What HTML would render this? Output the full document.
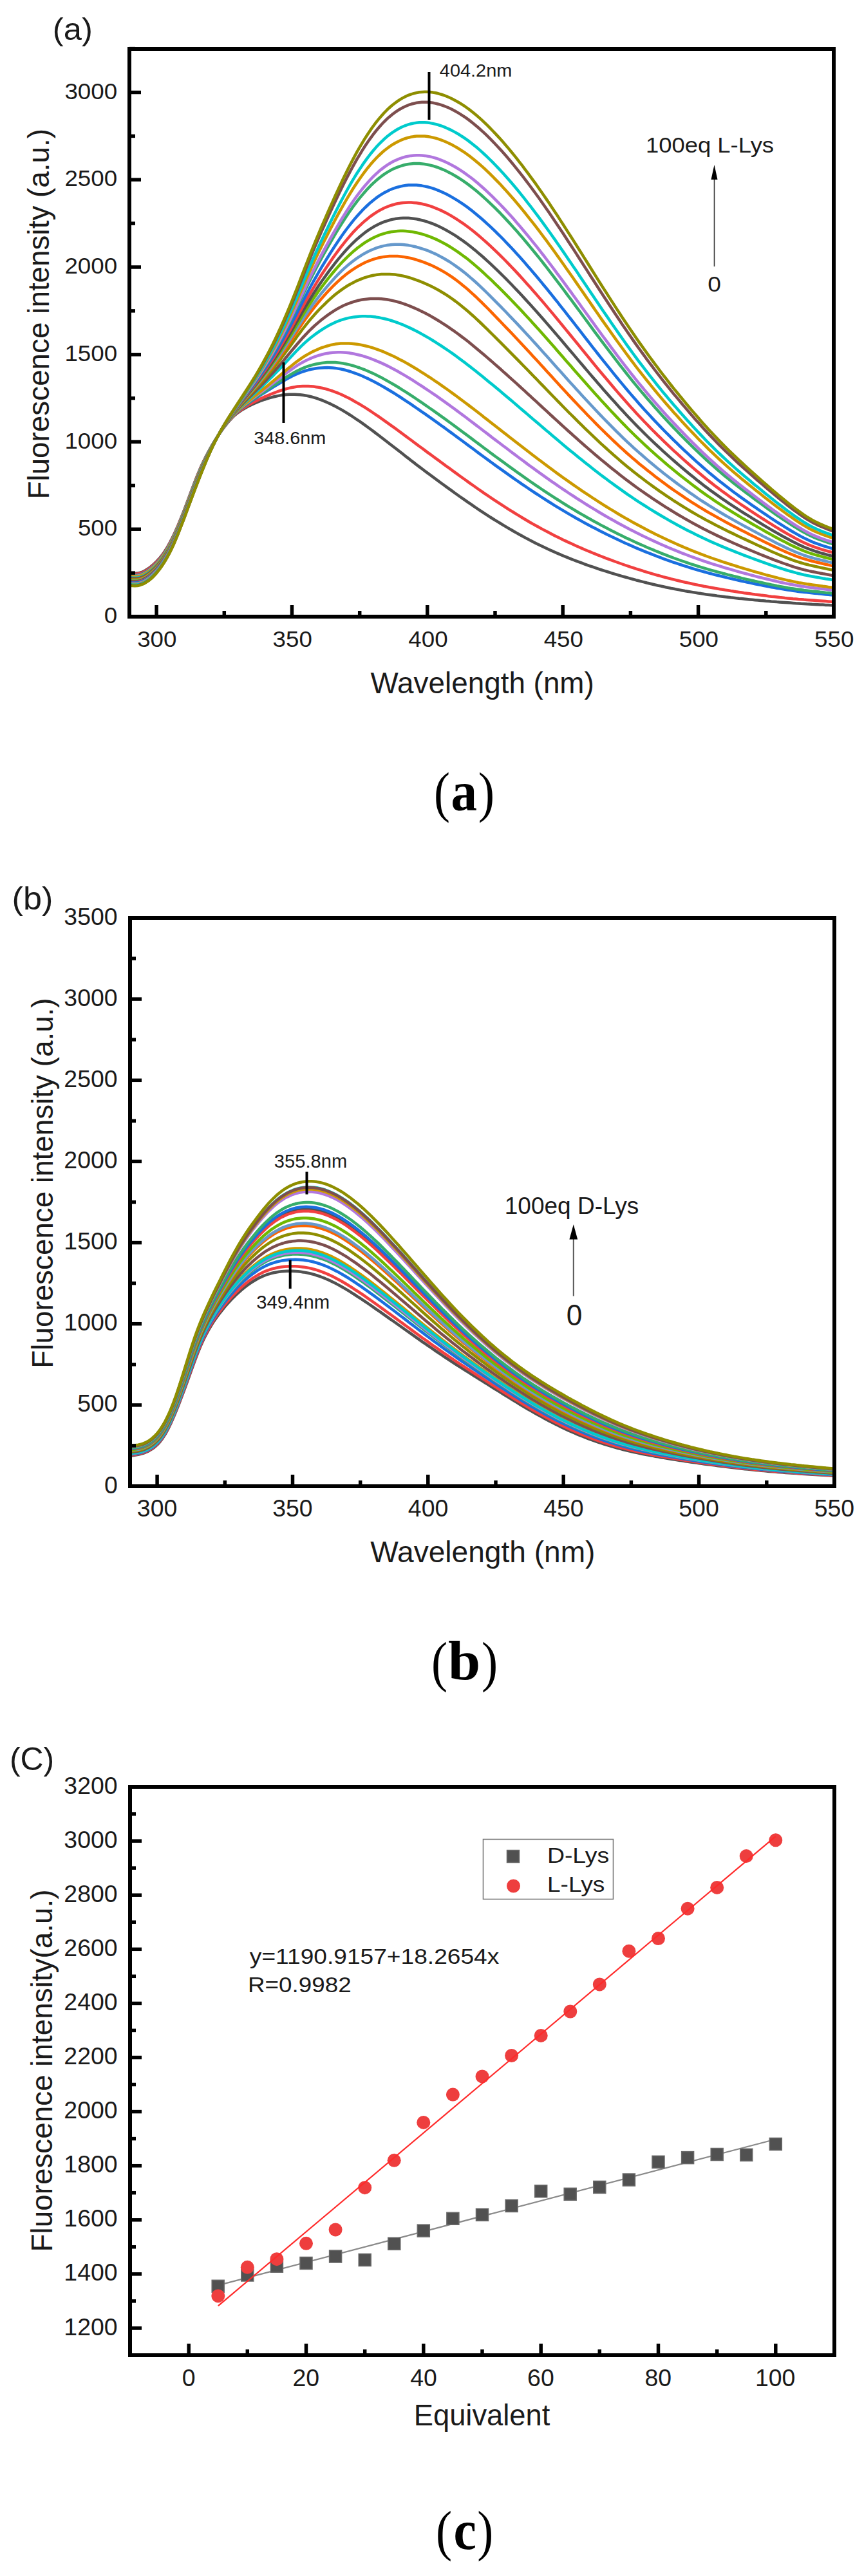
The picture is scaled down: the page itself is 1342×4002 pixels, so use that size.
<!DOCTYPE html>
<html><head><meta charset="utf-8"><style>
html,body{margin:0;padding:0;background:#fff;}
svg{display:block;}
</style></head><body>
<svg width="1342" height="4002" viewBox="0 0 1342 4002">
<defs>
<clipPath id="clipA"><rect x="201" y="76" width="1094" height="882"/></clipPath>
<clipPath id="clipB"><rect x="202" y="1426" width="1094" height="883"/></clipPath>
</defs>
<rect width="1342" height="4002" fill="#fff"/>
<g clip-path="url(#clipA)">
<path d="M201.0,890.6 L205.2,890.9 L209.4,890.9 L213.6,890.6 L217.8,889.7 L222.0,888.3 L226.2,886.0 L230.5,883.2 L234.7,880.0 L238.9,876.4 L243.1,872.4 L247.3,867.9 L251.5,862.8 L255.7,856.8 L259.9,850.1 L264.1,842.6 L268.3,834.4 L272.5,825.4 L276.7,815.8 L280.9,805.6 L285.2,794.9 L289.4,783.8 L293.6,772.5 L297.8,761.2 L302.0,750.1 L306.2,739.4 L310.4,729.3 L314.6,720.0 L318.8,711.4 L323.0,703.3 L327.2,695.7 L331.4,688.5 L335.6,681.7 L339.9,675.1 L344.1,669.0 L348.3,663.3 L352.5,658.0 L356.7,653.1 L360.9,648.6 L365.1,644.7 L369.3,641.3 L373.5,638.3 L377.7,635.7 L381.9,633.3 L386.1,631.1 L390.3,629.0 L394.6,627.0 L398.8,625.2 L403.0,623.5 L407.2,622.0 L411.4,620.5 L415.6,619.2 L419.8,617.9 L424.0,616.8 L428.2,615.8 L432.4,614.9 L436.6,614.1 L440.8,613.5 L445.0,613.1 L449.3,612.8 L453.5,612.7 L457.7,612.7 L461.9,612.9 L466.1,613.2 L470.3,613.8 L474.5,614.4 L478.7,615.3 L482.9,616.3 L487.1,617.4 L491.3,618.7 L495.5,620.1 L499.7,621.7 L504.0,623.4 L508.2,625.2 L512.4,627.1 L516.6,629.2 L520.8,631.3 L525.0,633.6 L529.2,635.9 L533.4,638.3 L537.6,640.9 L541.8,643.5 L546.0,646.2 L550.2,649.0 L554.4,651.8 L558.7,654.7 L562.9,657.6 L567.1,660.6 L571.3,663.7 L575.5,666.8 L579.7,669.9 L583.9,673.1 L588.1,676.3 L592.3,679.5 L596.5,682.7 L600.7,686.0 L604.9,689.3 L609.1,692.5 L613.4,695.8 L617.6,699.1 L621.8,702.3 L626.0,705.6 L630.2,708.9 L634.4,712.1 L638.6,715.4 L642.8,718.6 L647.0,721.9 L651.2,725.1 L655.4,728.3 L659.6,731.5 L663.8,734.6 L668.1,737.8 L672.3,740.9 L676.5,744.0 L680.7,747.1 L684.9,750.2 L689.1,753.3 L693.3,756.4 L697.5,759.4 L701.7,762.4 L705.9,765.5 L710.1,768.5 L714.3,771.5 L718.5,774.4 L722.8,777.4 L727.0,780.3 L731.2,783.2 L735.4,786.1 L739.6,789.0 L743.8,791.8 L748.0,794.6 L752.2,797.4 L756.4,800.1 L760.6,802.8 L764.8,805.5 L769.0,808.1 L773.2,810.7 L777.5,813.3 L781.7,815.9 L785.9,818.4 L790.1,820.9 L794.3,823.3 L798.5,825.8 L802.7,828.1 L806.9,830.5 L811.1,832.8 L815.3,835.1 L819.5,837.3 L823.7,839.6 L827.9,841.7 L832.2,843.9 L836.4,846.0 L840.6,848.0 L844.8,850.0 L849.0,852.0 L853.2,854.0 L857.4,855.9 L861.6,857.8 L865.8,859.6 L870.0,861.4 L874.2,863.2 L878.4,864.9 L882.6,866.6 L886.9,868.3 L891.1,870.0 L895.3,871.6 L899.5,873.2 L903.7,874.7 L907.9,876.3 L912.1,877.8 L916.3,879.3 L920.5,880.7 L924.7,882.1 L928.9,883.6 L933.1,885.0 L937.3,886.3 L941.6,887.7 L945.8,889.0 L950.0,890.3 L954.2,891.6 L958.4,892.9 L962.6,894.1 L966.8,895.3 L971.0,896.5 L975.2,897.7 L979.4,898.9 L983.6,900.0 L987.8,901.2 L992.0,902.3 L996.3,903.4 L1000.5,904.4 L1004.7,905.5 L1008.9,906.5 L1013.1,907.5 L1017.3,908.5 L1021.5,909.5 L1025.7,910.4 L1029.9,911.3 L1034.1,912.2 L1038.3,913.1 L1042.5,914.0 L1046.7,914.8 L1051.0,915.6 L1055.2,916.4 L1059.4,917.2 L1063.6,918.0 L1067.8,918.7 L1072.0,919.4 L1076.2,920.1 L1080.4,920.8 L1084.6,921.5 L1088.8,922.1 L1093.0,922.8 L1097.2,923.4 L1101.4,924.0 L1105.7,924.6 L1109.9,925.1 L1114.1,925.7 L1118.3,926.2 L1122.5,926.7 L1126.7,927.3 L1130.9,927.8 L1135.1,928.3 L1139.3,928.7 L1143.5,929.2 L1147.7,929.7 L1151.9,930.1 L1156.1,930.5 L1160.4,931.0 L1164.6,931.4 L1168.8,931.8 L1173.0,932.2 L1177.2,932.6 L1181.4,933.0 L1185.6,933.3 L1189.8,933.7 L1194.0,934.0 L1198.2,934.4 L1202.4,934.7 L1206.6,935.1 L1210.8,935.4 L1215.1,935.7 L1219.3,936.0 L1223.5,936.3 L1227.7,936.6 L1231.9,936.9 L1236.1,937.2 L1240.3,937.4 L1244.5,937.7 L1248.7,937.9 L1252.9,938.2 L1257.1,938.4 L1261.3,938.7 L1265.5,938.9 L1269.8,939.2 L1274.0,939.4 L1278.2,939.6 L1282.4,939.9 L1286.6,940.1 L1290.8,940.3 L1295.0,940.6" fill="none" stroke="#515151" stroke-width="4.5" stroke-linejoin="round" stroke-linecap="round"/>
<path d="M201.0,891.6 L205.2,891.9 L209.4,891.9 L213.6,891.6 L217.8,890.8 L222.0,889.3 L226.2,887.1 L230.5,884.2 L234.7,881.0 L238.9,877.4 L243.1,873.4 L247.3,868.8 L251.5,863.6 L255.7,857.7 L259.9,850.9 L264.1,843.4 L268.3,835.2 L272.5,826.2 L276.7,816.5 L280.9,806.3 L285.2,795.6 L289.4,784.5 L293.6,773.2 L297.8,761.9 L302.0,750.7 L306.2,740.0 L310.4,729.9 L314.6,720.5 L318.8,711.8 L323.0,703.7 L327.2,696.0 L331.4,688.7 L335.6,681.7 L339.9,675.1 L344.1,668.9 L348.3,663.1 L352.5,657.7 L356.7,652.7 L360.9,648.2 L365.1,644.1 L369.3,640.5 L373.5,637.3 L377.7,634.4 L381.9,631.8 L386.1,629.2 L390.3,626.9 L394.6,624.6 L398.8,622.4 L403.0,620.3 L407.2,618.3 L411.4,616.4 L415.6,614.6 L419.8,612.8 L424.0,611.1 L428.2,609.5 L432.4,607.9 L436.6,606.5 L440.8,605.2 L445.0,604.0 L449.3,602.9 L453.5,602.0 L457.7,601.2 L461.9,600.6 L466.1,600.2 L470.3,600.0 L474.5,599.9 L478.7,600.0 L482.9,600.2 L487.1,600.6 L491.3,601.2 L495.5,601.9 L499.7,602.7 L504.0,603.7 L508.2,604.9 L512.4,606.1 L516.6,607.5 L520.8,609.1 L525.0,610.7 L529.2,612.5 L533.4,614.4 L537.6,616.5 L541.8,618.6 L546.0,620.8 L550.2,623.2 L554.4,625.6 L558.7,628.0 L562.9,630.6 L567.1,633.2 L571.3,635.9 L575.5,638.7 L579.7,641.5 L583.9,644.3 L588.1,647.2 L592.3,650.1 L596.5,653.1 L600.7,656.1 L604.9,659.1 L609.1,662.1 L613.4,665.2 L617.6,668.3 L621.8,671.4 L626.0,674.5 L630.2,677.6 L634.4,680.7 L638.6,683.8 L642.8,687.0 L647.0,690.1 L651.2,693.2 L655.4,696.3 L659.6,699.4 L663.8,702.6 L668.1,705.7 L672.3,708.8 L676.5,711.8 L680.7,714.9 L684.9,718.0 L689.1,721.1 L693.3,724.2 L697.5,727.2 L701.7,730.3 L705.9,733.4 L710.1,736.4 L714.3,739.5 L718.5,742.5 L722.8,745.5 L727.0,748.6 L731.2,751.6 L735.4,754.5 L739.6,757.5 L743.8,760.5 L748.0,763.4 L752.2,766.3 L756.4,769.2 L760.6,772.0 L764.8,774.8 L769.0,777.6 L773.2,780.4 L777.5,783.2 L781.7,785.9 L785.9,788.6 L790.1,791.3 L794.3,793.9 L798.5,796.5 L802.7,799.1 L806.9,801.7 L811.1,804.2 L815.3,806.7 L819.5,809.2 L823.7,811.7 L827.9,814.1 L832.2,816.5 L836.4,818.8 L840.6,821.1 L844.8,823.4 L849.0,825.6 L853.2,827.8 L857.4,830.0 L861.6,832.2 L865.8,834.3 L870.0,836.3 L874.2,838.4 L878.4,840.4 L882.6,842.4 L886.9,844.3 L891.1,846.3 L895.3,848.2 L899.5,850.0 L903.7,851.9 L907.9,853.7 L912.1,855.5 L916.3,857.2 L920.5,859.0 L924.7,860.7 L928.9,862.4 L933.1,864.0 L937.3,865.7 L941.6,867.3 L945.8,868.9 L950.0,870.4 L954.2,872.0 L958.4,873.5 L962.6,875.0 L966.8,876.5 L971.0,878.0 L975.2,879.4 L979.4,880.8 L983.6,882.2 L987.8,883.6 L992.0,884.9 L996.3,886.2 L1000.5,887.6 L1004.7,888.8 L1008.9,890.1 L1013.1,891.3 L1017.3,892.6 L1021.5,893.8 L1025.7,894.9 L1029.9,896.1 L1034.1,897.2 L1038.3,898.3 L1042.5,899.4 L1046.7,900.4 L1051.0,901.5 L1055.2,902.5 L1059.4,903.5 L1063.6,904.5 L1067.8,905.4 L1072.0,906.3 L1076.2,907.2 L1080.4,908.1 L1084.6,909.0 L1088.8,909.8 L1093.0,910.7 L1097.2,911.5 L1101.4,912.3 L1105.7,913.0 L1109.9,913.8 L1114.1,914.5 L1118.3,915.2 L1122.5,915.9 L1126.7,916.6 L1130.9,917.3 L1135.1,918.0 L1139.3,918.6 L1143.5,919.3 L1147.7,919.9 L1151.9,920.5 L1156.1,921.2 L1160.4,921.8 L1164.6,922.3 L1168.8,922.9 L1173.0,923.5 L1177.2,924.0 L1181.4,924.6 L1185.6,925.1 L1189.8,925.6 L1194.0,926.2 L1198.2,926.7 L1202.4,927.1 L1206.6,927.6 L1210.8,928.1 L1215.1,928.5 L1219.3,929.0 L1223.5,929.4 L1227.7,929.8 L1231.9,930.2 L1236.1,930.5 L1240.3,930.9 L1244.5,931.2 L1248.7,931.6 L1252.9,931.9 L1257.1,932.2 L1261.3,932.5 L1265.5,932.8 L1269.8,933.2 L1274.0,933.5 L1278.2,933.8 L1282.4,934.1 L1286.6,934.4 L1290.8,934.7 L1295.0,935.0" fill="none" stroke="#F14040" stroke-width="4.5" stroke-linejoin="round" stroke-linecap="round"/>
<path d="M201.0,893.4 L205.2,893.7 L209.4,893.7 L213.6,893.4 L217.8,892.6 L222.0,891.1 L226.2,888.9 L230.5,886.0 L234.7,882.8 L238.9,879.1 L243.1,875.1 L247.3,870.5 L251.5,865.2 L255.7,859.2 L259.9,852.4 L264.1,844.8 L268.3,836.5 L272.5,827.5 L276.7,817.8 L280.9,807.5 L285.2,796.7 L289.4,785.6 L293.6,774.3 L297.8,763.0 L302.0,751.9 L306.2,741.2 L310.4,731.0 L314.6,721.5 L318.8,712.6 L323.0,704.3 L327.2,696.4 L331.4,688.9 L335.6,681.8 L339.9,675.1 L344.1,668.7 L348.3,662.8 L352.5,657.2 L356.7,652.1 L360.9,647.3 L365.1,643.0 L369.3,639.0 L373.5,635.5 L377.7,632.2 L381.9,629.1 L386.1,626.1 L390.3,623.2 L394.6,620.4 L398.8,617.6 L403.0,614.9 L407.2,612.2 L411.4,609.6 L415.6,606.9 L419.8,604.3 L424.0,601.7 L428.2,599.1 L432.4,596.5 L436.6,594.0 L440.8,591.5 L445.0,589.1 L449.3,586.8 L453.5,584.6 L457.7,582.5 L461.9,580.6 L466.1,578.9 L470.3,577.4 L474.5,576.0 L478.7,574.8 L482.9,573.8 L487.1,573.0 L491.3,572.3 L495.5,571.7 L499.7,571.4 L504.0,571.2 L508.2,571.1 L512.4,571.2 L516.6,571.5 L520.8,571.9 L525.0,572.6 L529.2,573.3 L533.4,574.2 L537.6,575.3 L541.8,576.5 L546.0,577.9 L550.2,579.3 L554.4,580.9 L558.7,582.5 L562.9,584.3 L567.1,586.2 L571.3,588.1 L575.5,590.2 L579.7,592.3 L583.9,594.5 L588.1,596.8 L592.3,599.1 L596.5,601.5 L600.7,604.0 L604.9,606.5 L609.1,609.0 L613.4,611.7 L617.6,614.3 L621.8,617.0 L626.0,619.8 L630.2,622.6 L634.4,625.4 L638.6,628.2 L642.8,631.1 L647.0,634.0 L651.2,636.9 L655.4,639.8 L659.6,642.7 L663.8,645.7 L668.1,648.7 L672.3,651.6 L676.5,654.6 L680.7,657.6 L684.9,660.7 L689.1,663.7 L693.3,666.8 L697.5,669.8 L701.7,672.9 L705.9,676.0 L710.1,679.1 L714.3,682.2 L718.5,685.3 L722.8,688.5 L727.0,691.6 L731.2,694.7 L735.4,697.8 L739.6,701.0 L743.8,704.1 L748.0,707.2 L752.2,710.3 L756.4,713.4 L760.6,716.4 L764.8,719.5 L769.0,722.6 L773.2,725.6 L777.5,728.6 L781.7,731.6 L785.9,734.6 L790.1,737.6 L794.3,740.6 L798.5,743.6 L802.7,746.5 L806.9,749.4 L811.1,752.3 L815.3,755.2 L819.5,758.0 L823.7,760.9 L827.9,763.7 L832.2,766.5 L836.4,769.2 L840.6,772.0 L844.8,774.7 L849.0,777.4 L853.2,780.0 L857.4,782.7 L861.6,785.3 L865.8,787.9 L870.0,790.4 L874.2,792.9 L878.4,795.4 L882.6,797.9 L886.9,800.4 L891.1,802.8 L895.3,805.2 L899.5,807.5 L903.7,809.9 L907.9,812.2 L912.1,814.4 L916.3,816.7 L920.5,818.9 L924.7,821.1 L928.9,823.3 L933.1,825.4 L937.3,827.6 L941.6,829.7 L945.8,831.7 L950.0,833.8 L954.2,835.8 L958.4,837.8 L962.6,839.8 L966.8,841.7 L971.0,843.7 L975.2,845.5 L979.4,847.4 L983.6,849.2 L987.8,851.1 L992.0,852.8 L996.3,854.6 L1000.5,856.3 L1004.7,858.1 L1008.9,859.7 L1013.1,861.4 L1017.3,863.0 L1021.5,864.7 L1025.7,866.2 L1029.9,867.8 L1034.1,869.3 L1038.3,870.9 L1042.5,872.3 L1046.7,873.8 L1051.0,875.2 L1055.2,876.6 L1059.4,878.0 L1063.6,879.4 L1067.8,880.7 L1072.0,882.0 L1076.2,883.3 L1080.4,884.6 L1084.6,885.8 L1088.8,887.0 L1093.0,888.2 L1097.2,889.3 L1101.4,890.5 L1105.7,891.6 L1109.9,892.7 L1114.1,893.8 L1118.3,894.8 L1122.5,895.8 L1126.7,896.9 L1130.9,897.9 L1135.1,898.9 L1139.3,899.8 L1143.5,900.8 L1147.7,901.7 L1151.9,902.7 L1156.1,903.6 L1160.4,904.5 L1164.6,905.4 L1168.8,906.3 L1173.0,907.2 L1177.2,908.0 L1181.4,908.9 L1185.6,909.7 L1189.8,910.6 L1194.0,911.4 L1198.2,912.2 L1202.4,912.9 L1206.6,913.7 L1210.8,914.4 L1215.1,915.1 L1219.3,915.8 L1223.5,916.5 L1227.7,917.1 L1231.9,917.7 L1236.1,918.3 L1240.3,918.9 L1244.5,919.4 L1248.7,919.9 L1252.9,920.3 L1257.1,920.8 L1261.3,921.2 L1265.5,921.7 L1269.8,922.1 L1274.0,922.5 L1278.2,923.0 L1282.4,923.4 L1286.6,923.8 L1290.8,924.2 L1295.0,924.6" fill="none" stroke="#1A6FDF" stroke-width="4.5" stroke-linejoin="round" stroke-linecap="round"/>
<path d="M201.0,893.8 L205.2,894.1 L209.4,894.2 L213.6,893.9 L217.8,893.0 L222.0,891.5 L226.2,889.3 L230.5,886.5 L234.7,883.2 L238.9,879.6 L243.1,875.5 L247.3,870.9 L251.5,865.6 L255.7,859.6 L259.9,852.8 L264.1,845.2 L268.3,836.9 L272.5,827.8 L276.7,818.1 L280.9,807.8 L285.2,797.0 L289.4,785.9 L293.6,774.6 L297.8,763.3 L302.0,752.2 L306.2,741.4 L310.4,731.2 L314.6,721.7 L318.8,712.8 L323.0,704.4 L327.2,696.5 L331.4,689.0 L335.6,681.9 L339.9,675.1 L344.1,668.7 L348.3,662.7 L352.5,657.1 L356.7,651.9 L360.9,647.1 L365.1,642.7 L369.3,638.7 L373.5,635.0 L377.7,631.7 L381.9,628.5 L386.1,625.4 L390.3,622.3 L394.6,619.4 L398.8,616.5 L403.0,613.6 L407.2,610.8 L411.4,607.9 L415.6,605.1 L419.8,602.3 L424.0,599.5 L428.2,596.7 L432.4,593.9 L436.6,591.1 L440.8,588.4 L445.0,585.7 L449.3,583.1 L453.5,580.6 L457.7,578.2 L461.9,576.0 L466.1,574.0 L470.3,572.1 L474.5,570.4 L478.7,568.9 L482.9,567.6 L487.1,566.5 L491.3,565.5 L495.5,564.7 L499.7,564.0 L504.0,563.5 L508.2,563.1 L512.4,563.0 L516.6,563.0 L520.8,563.1 L525.0,563.5 L529.2,564.0 L533.4,564.6 L537.6,565.5 L541.8,566.4 L546.0,567.5 L550.2,568.7 L554.4,570.1 L558.7,571.5 L562.9,573.1 L567.1,574.7 L571.3,576.5 L575.5,578.4 L579.7,580.3 L583.9,582.3 L588.1,584.4 L592.3,586.6 L596.5,588.9 L600.7,591.2 L604.9,593.6 L609.1,596.0 L613.4,598.5 L617.6,601.0 L621.8,603.6 L626.0,606.3 L630.2,608.9 L634.4,611.7 L638.6,614.4 L642.8,617.2 L647.0,620.0 L651.2,622.9 L655.4,625.7 L659.6,628.6 L663.8,631.5 L668.1,634.5 L672.3,637.4 L676.5,640.4 L680.7,643.4 L684.9,646.4 L689.1,649.4 L693.3,652.4 L697.5,655.5 L701.7,658.5 L705.9,661.6 L710.1,664.7 L714.3,667.9 L718.5,671.0 L722.8,674.1 L727.0,677.3 L731.2,680.4 L735.4,683.6 L739.6,686.7 L743.8,689.9 L748.0,693.0 L752.2,696.2 L756.4,699.3 L760.6,702.5 L764.8,705.6 L769.0,708.7 L773.2,711.8 L777.5,714.9 L781.7,717.9 L785.9,721.0 L790.1,724.1 L794.3,727.1 L798.5,730.1 L802.7,733.2 L806.9,736.2 L811.1,739.1 L815.3,742.1 L819.5,745.1 L823.7,748.0 L827.9,750.9 L832.2,753.8 L836.4,756.7 L840.6,759.5 L844.8,762.3 L849.0,765.1 L853.2,767.9 L857.4,770.6 L861.6,773.3 L865.8,776.0 L870.0,778.7 L874.2,781.4 L878.4,784.0 L882.6,786.6 L886.9,789.1 L891.1,791.7 L895.3,794.2 L899.5,796.7 L903.7,799.1 L907.9,801.5 L912.1,804.0 L916.3,806.3 L920.5,808.7 L924.7,811.0 L928.9,813.3 L933.1,815.6 L937.3,817.8 L941.6,820.0 L945.8,822.2 L950.0,824.4 L954.2,826.6 L958.4,828.7 L962.6,830.8 L966.8,832.8 L971.0,834.9 L975.2,836.9 L979.4,838.8 L983.6,840.8 L987.8,842.7 L992.0,844.6 L996.3,846.5 L1000.5,848.3 L1004.7,850.2 L1008.9,852.0 L1013.1,853.7 L1017.3,855.5 L1021.5,857.2 L1025.7,858.9 L1029.9,860.6 L1034.1,862.2 L1038.3,863.8 L1042.5,865.4 L1046.7,867.0 L1051.0,868.5 L1055.2,870.0 L1059.4,871.5 L1063.6,872.9 L1067.8,874.4 L1072.0,875.8 L1076.2,877.1 L1080.4,878.5 L1084.6,879.8 L1088.8,881.1 L1093.0,882.4 L1097.2,883.6 L1101.4,884.9 L1105.7,886.1 L1109.9,887.2 L1114.1,888.4 L1118.3,889.5 L1122.5,890.7 L1126.7,891.8 L1130.9,892.9 L1135.1,893.9 L1139.3,895.0 L1143.5,896.0 L1147.7,897.0 L1151.9,898.1 L1156.1,899.1 L1160.4,900.1 L1164.6,901.0 L1168.8,902.0 L1173.0,903.0 L1177.2,903.9 L1181.4,904.8 L1185.6,905.7 L1189.8,906.6 L1194.0,907.5 L1198.2,908.4 L1202.4,909.2 L1206.6,910.1 L1210.8,910.9 L1215.1,911.7 L1219.3,912.4 L1223.5,913.2 L1227.7,913.9 L1231.9,914.5 L1236.1,915.2 L1240.3,915.8 L1244.5,916.3 L1248.7,916.9 L1252.9,917.4 L1257.1,917.9 L1261.3,918.4 L1265.5,918.8 L1269.8,919.3 L1274.0,919.8 L1278.2,920.2 L1282.4,920.7 L1286.6,921.1 L1290.8,921.6 L1295.0,922.0" fill="none" stroke="#37AD6B" stroke-width="4.5" stroke-linejoin="round" stroke-linecap="round"/>
<path d="M201.0,894.6 L205.2,894.9 L209.4,895.0 L213.6,894.7 L217.8,893.9 L222.0,892.4 L226.2,890.1 L230.5,887.3 L234.7,884.0 L238.9,880.4 L243.1,876.3 L247.3,871.6 L251.5,866.3 L255.7,860.2 L259.9,853.4 L264.1,845.8 L268.3,837.5 L272.5,828.4 L276.7,818.7 L280.9,808.4 L285.2,797.6 L289.4,786.5 L293.6,775.1 L297.8,763.8 L302.0,752.7 L306.2,742.0 L310.4,731.7 L314.6,722.1 L318.8,713.2 L323.0,704.7 L327.2,696.7 L331.4,689.1 L335.6,681.9 L339.9,675.1 L344.1,668.6 L348.3,662.6 L352.5,656.9 L356.7,651.6 L360.9,646.7 L365.1,642.2 L369.3,638.0 L373.5,634.2 L377.7,630.7 L381.9,627.3 L386.1,624.0 L390.3,620.8 L394.6,617.6 L398.8,614.4 L403.0,611.3 L407.2,608.1 L411.4,605.0 L415.6,601.9 L419.8,598.7 L424.0,595.5 L428.2,592.3 L432.4,589.1 L436.6,585.9 L440.8,582.7 L445.0,579.5 L449.3,576.4 L453.5,573.4 L457.7,570.5 L461.9,567.7 L466.1,565.1 L470.3,562.7 L474.5,560.5 L478.7,558.5 L482.9,556.6 L487.1,554.9 L491.3,553.4 L495.5,552.0 L499.7,550.8 L504.0,549.8 L508.2,548.9 L512.4,548.3 L516.6,547.7 L520.8,547.4 L525.0,547.2 L529.2,547.2 L533.4,547.4 L537.6,547.8 L541.8,548.3 L546.0,549.0 L550.2,549.7 L554.4,550.7 L558.7,551.7 L562.9,552.8 L567.1,554.1 L571.3,555.5 L575.5,557.0 L579.7,558.6 L583.9,560.3 L588.1,562.1 L592.3,563.9 L596.5,565.9 L600.7,567.9 L604.9,570.0 L609.1,572.2 L613.4,574.5 L617.6,576.8 L621.8,579.2 L626.0,581.6 L630.2,584.1 L634.4,586.7 L638.6,589.2 L642.8,591.9 L647.0,594.6 L651.2,597.3 L655.4,600.0 L659.6,602.8 L663.8,605.6 L668.1,608.5 L672.3,611.3 L676.5,614.2 L680.7,617.1 L684.9,620.1 L689.1,623.1 L693.3,626.1 L697.5,629.1 L701.7,632.2 L705.9,635.2 L710.1,638.4 L714.3,641.5 L718.5,644.6 L722.8,647.8 L727.0,651.0 L731.2,654.2 L735.4,657.4 L739.6,660.6 L743.8,663.8 L748.0,667.0 L752.2,670.2 L756.4,673.4 L760.6,676.6 L764.8,679.9 L769.0,683.1 L773.2,686.3 L777.5,689.5 L781.7,692.7 L785.9,695.8 L790.1,699.0 L794.3,702.2 L798.5,705.4 L802.7,708.5 L806.9,711.7 L811.1,714.8 L815.3,717.9 L819.5,721.1 L823.7,724.2 L827.9,727.2 L832.2,730.3 L836.4,733.4 L840.6,736.4 L844.8,739.4 L849.0,742.4 L853.2,745.3 L857.4,748.3 L861.6,751.2 L865.8,754.1 L870.0,757.0 L874.2,759.9 L878.4,762.7 L882.6,765.5 L886.9,768.3 L891.1,771.0 L895.3,773.8 L899.5,776.5 L903.7,779.2 L907.9,781.8 L912.1,784.5 L916.3,787.1 L920.5,789.6 L924.7,792.2 L928.9,794.7 L933.1,797.2 L937.3,799.7 L941.6,802.2 L945.8,804.6 L950.0,807.0 L954.2,809.3 L958.4,811.7 L962.6,814.0 L966.8,816.3 L971.0,818.5 L975.2,820.7 L979.4,822.9 L983.6,825.1 L987.8,827.2 L992.0,829.3 L996.3,831.4 L1000.5,833.5 L1004.7,835.5 L1008.9,837.5 L1013.1,839.4 L1017.3,841.4 L1021.5,843.3 L1025.7,845.2 L1029.9,847.0 L1034.1,848.9 L1038.3,850.7 L1042.5,852.4 L1046.7,854.2 L1051.0,855.9 L1055.2,857.6 L1059.4,859.3 L1063.6,860.9 L1067.8,862.5 L1072.0,864.1 L1076.2,865.7 L1080.4,867.2 L1084.6,868.7 L1088.8,870.2 L1093.0,871.6 L1097.2,873.0 L1101.4,874.4 L1105.7,875.8 L1109.9,877.1 L1114.1,878.4 L1118.3,879.7 L1122.5,881.0 L1126.7,882.3 L1130.9,883.5 L1135.1,884.7 L1139.3,885.9 L1143.5,887.1 L1147.7,888.3 L1151.9,889.5 L1156.1,890.6 L1160.4,891.7 L1164.6,892.9 L1168.8,894.0 L1173.0,895.1 L1177.2,896.2 L1181.4,897.2 L1185.6,898.3 L1189.8,899.3 L1194.0,900.3 L1198.2,901.3 L1202.4,902.3 L1206.6,903.3 L1210.8,904.2 L1215.1,905.2 L1219.3,906.1 L1223.5,906.9 L1227.7,907.8 L1231.9,908.5 L1236.1,909.3 L1240.3,910.0 L1244.5,910.7 L1248.7,911.3 L1252.9,911.9 L1257.1,912.4 L1261.3,913.0 L1265.5,913.5 L1269.8,914.1 L1274.0,914.6 L1278.2,915.1 L1282.4,915.6 L1286.6,916.1 L1290.8,916.6 L1295.0,917.1" fill="none" stroke="#B177DE" stroke-width="4.5" stroke-linejoin="round" stroke-linecap="round"/>
<path d="M201.0,895.3 L205.2,895.6 L209.4,895.7 L213.6,895.4 L217.8,894.6 L222.0,893.0 L226.2,890.8 L230.5,888.0 L234.7,884.7 L238.9,881.0 L243.1,876.9 L247.3,872.2 L251.5,866.9 L255.7,860.8 L259.9,854.0 L264.1,846.4 L268.3,838.0 L272.5,828.9 L276.7,819.2 L280.9,808.8 L285.2,798.0 L289.4,786.9 L293.6,775.6 L297.8,764.3 L302.0,753.2 L306.2,742.4 L310.4,732.1 L314.6,722.5 L318.8,713.5 L323.0,704.9 L327.2,696.9 L331.4,689.2 L335.6,682.0 L339.9,675.1 L344.1,668.6 L348.3,662.4 L352.5,656.7 L356.7,651.4 L360.9,646.4 L365.1,641.7 L369.3,637.5 L373.5,633.6 L377.7,629.9 L381.9,626.3 L386.1,622.9 L390.3,619.4 L394.6,616.1 L398.8,612.7 L403.0,609.4 L407.2,606.0 L411.4,602.6 L415.6,599.2 L419.8,595.8 L424.0,592.3 L428.2,588.8 L432.4,585.3 L436.6,581.7 L440.8,578.2 L445.0,574.6 L449.3,571.1 L453.5,567.7 L457.7,564.3 L461.9,561.1 L466.1,558.1 L470.3,555.2 L474.5,552.5 L478.7,550.1 L482.9,547.8 L487.1,545.6 L491.3,543.7 L495.5,541.9 L499.7,540.2 L504.0,538.8 L508.2,537.5 L512.4,536.3 L516.6,535.4 L520.8,534.6 L525.0,534.0 L529.2,533.6 L533.4,533.4 L537.6,533.4 L541.8,533.5 L546.0,533.8 L550.2,534.2 L554.4,534.7 L558.7,535.4 L562.9,536.2 L567.1,537.2 L571.3,538.2 L575.5,539.4 L579.7,540.7 L583.9,542.1 L588.1,543.6 L592.3,545.2 L596.5,546.9 L600.7,548.7 L604.9,550.6 L609.1,552.5 L613.4,554.5 L617.6,556.7 L621.8,558.9 L626.0,561.1 L630.2,563.4 L634.4,565.8 L638.6,568.3 L642.8,570.8 L647.0,573.3 L651.2,575.9 L655.4,578.6 L659.6,581.2 L663.8,584.0 L668.1,586.7 L672.3,589.5 L676.5,592.4 L680.7,595.2 L684.9,598.1 L689.1,601.1 L693.3,604.0 L697.5,607.0 L701.7,610.1 L705.9,613.1 L710.1,616.2 L714.3,619.4 L718.5,622.5 L722.8,625.7 L727.0,628.9 L731.2,632.1 L735.4,635.3 L739.6,638.6 L743.8,641.8 L748.0,645.1 L752.2,648.4 L756.4,651.6 L760.6,654.9 L764.8,658.2 L769.0,661.5 L773.2,664.8 L777.5,668.1 L781.7,671.4 L785.9,674.6 L790.1,677.9 L794.3,681.2 L798.5,684.5 L802.7,687.8 L806.9,691.0 L811.1,694.3 L815.3,697.5 L819.5,700.8 L823.7,704.0 L827.9,707.2 L832.2,710.5 L836.4,713.7 L840.6,716.8 L844.8,720.0 L849.0,723.1 L853.2,726.3 L857.4,729.4 L861.6,732.5 L865.8,735.6 L870.0,738.6 L874.2,741.7 L878.4,744.7 L882.6,747.7 L886.9,750.6 L891.1,753.6 L895.3,756.5 L899.5,759.4 L903.7,762.3 L907.9,765.1 L912.1,767.9 L916.3,770.7 L920.5,773.5 L924.7,776.2 L928.9,779.0 L933.1,781.6 L937.3,784.3 L941.6,787.0 L945.8,789.6 L950.0,792.1 L954.2,794.7 L958.4,797.2 L962.6,799.7 L966.8,802.2 L971.0,804.6 L975.2,807.0 L979.4,809.4 L983.6,811.7 L987.8,814.0 L992.0,816.3 L996.3,818.6 L1000.5,820.8 L1004.7,823.0 L1008.9,825.2 L1013.1,827.3 L1017.3,829.4 L1021.5,831.5 L1025.7,833.5 L1029.9,835.5 L1034.1,837.5 L1038.3,839.5 L1042.5,841.4 L1046.7,843.3 L1051.0,845.2 L1055.2,847.1 L1059.4,848.9 L1063.6,850.7 L1067.8,852.4 L1072.0,854.2 L1076.2,855.9 L1080.4,857.6 L1084.6,859.2 L1088.8,860.8 L1093.0,862.4 L1097.2,864.0 L1101.4,865.5 L1105.7,867.0 L1109.9,868.5 L1114.1,869.9 L1118.3,871.4 L1122.5,872.8 L1126.7,874.2 L1130.9,875.5 L1135.1,876.9 L1139.3,878.2 L1143.5,879.5 L1147.7,880.8 L1151.9,882.1 L1156.1,883.4 L1160.4,884.6 L1164.6,885.9 L1168.8,887.1 L1173.0,888.3 L1177.2,889.5 L1181.4,890.7 L1185.6,891.9 L1189.8,893.1 L1194.0,894.2 L1198.2,895.3 L1202.4,896.4 L1206.6,897.5 L1210.8,898.6 L1215.1,899.6 L1219.3,900.6 L1223.5,901.6 L1227.7,902.5 L1231.9,903.4 L1236.1,904.3 L1240.3,905.1 L1244.5,905.8 L1248.7,906.5 L1252.9,907.2 L1257.1,907.8 L1261.3,908.4 L1265.5,909.0 L1269.8,909.6 L1274.0,910.2 L1278.2,910.8 L1282.4,911.3 L1286.6,911.9 L1290.8,912.4 L1295.0,913.0" fill="none" stroke="#CC9900" stroke-width="4.5" stroke-linejoin="round" stroke-linecap="round"/>
<path d="M201.0,897.2 L205.2,897.6 L209.4,897.7 L213.6,897.4 L217.8,896.5 L222.0,895.0 L226.2,892.8 L230.5,889.9 L234.7,886.6 L238.9,882.9 L243.1,878.7 L247.3,874.0 L251.5,868.6 L255.7,862.4 L259.9,855.5 L264.1,847.9 L268.3,839.5 L272.5,830.3 L276.7,820.5 L280.9,810.1 L285.2,799.3 L289.4,788.1 L293.6,776.8 L297.8,765.5 L302.0,754.4 L306.2,743.6 L310.4,733.3 L314.6,723.5 L318.8,714.3 L323.0,705.6 L327.2,697.4 L331.4,689.5 L335.6,682.1 L339.9,675.0 L344.1,668.4 L348.3,662.1 L352.5,656.2 L356.7,650.7 L360.9,645.5 L365.1,640.6 L369.3,636.0 L373.5,631.7 L377.7,627.7 L381.9,623.7 L386.1,619.8 L390.3,615.9 L394.6,612.0 L398.8,608.1 L403.0,604.2 L407.2,600.3 L411.4,596.2 L415.6,592.2 L419.8,588.0 L424.0,583.8 L428.2,579.5 L432.4,575.2 L436.6,570.7 L440.8,566.2 L445.0,561.7 L449.3,557.2 L453.5,552.7 L457.7,548.2 L461.9,543.8 L466.1,539.6 L470.3,535.5 L474.5,531.7 L478.7,528.0 L482.9,524.5 L487.1,521.2 L491.3,518.1 L495.5,515.1 L499.7,512.3 L504.0,509.6 L508.2,507.1 L512.4,504.8 L516.6,502.7 L520.8,500.7 L525.0,499.0 L529.2,497.4 L533.4,496.1 L537.6,494.9 L541.8,493.9 L546.0,493.1 L550.2,492.4 L554.4,491.9 L558.7,491.5 L562.9,491.3 L567.1,491.3 L571.3,491.4 L575.5,491.6 L579.7,492.0 L583.9,492.6 L588.1,493.3 L592.3,494.1 L596.5,495.0 L600.7,496.0 L604.9,497.2 L609.1,498.5 L613.4,499.9 L617.6,501.4 L621.8,503.0 L626.0,504.7 L630.2,506.5 L634.4,508.4 L638.6,510.4 L642.8,512.4 L647.0,514.6 L651.2,516.8 L655.4,519.1 L659.6,521.5 L663.8,523.9 L668.1,526.4 L672.3,529.0 L676.5,531.6 L680.7,534.3 L684.9,537.0 L689.1,539.8 L693.3,542.6 L697.5,545.5 L701.7,548.4 L705.9,551.4 L710.1,554.5 L714.3,557.6 L718.5,560.7 L722.8,563.9 L727.0,567.2 L731.2,570.4 L735.4,573.8 L739.6,577.1 L743.8,580.5 L748.0,583.8 L752.2,587.3 L756.4,590.7 L760.6,594.2 L764.8,597.6 L769.0,601.1 L773.2,604.6 L777.5,608.1 L781.7,611.7 L785.9,615.2 L790.1,618.8 L794.3,622.3 L798.5,625.9 L802.7,629.5 L806.9,633.1 L811.1,636.7 L815.3,640.3 L819.5,643.9 L823.7,647.5 L827.9,651.1 L832.2,654.7 L836.4,658.3 L840.6,661.9 L844.8,665.5 L849.0,669.1 L853.2,672.6 L857.4,676.2 L861.6,679.8 L865.8,683.3 L870.0,686.9 L874.2,690.4 L878.4,693.9 L882.6,697.4 L886.9,700.9 L891.1,704.3 L895.3,707.8 L899.5,711.2 L903.7,714.6 L907.9,718.0 L912.1,721.3 L916.3,724.6 L920.5,727.9 L924.7,731.2 L928.9,734.5 L933.1,737.7 L937.3,740.9 L941.6,744.0 L945.8,747.2 L950.0,750.3 L954.2,753.4 L958.4,756.4 L962.6,759.4 L966.8,762.4 L971.0,765.4 L975.2,768.3 L979.4,771.2 L983.6,774.0 L987.8,776.8 L992.0,779.6 L996.3,782.3 L1000.5,785.0 L1004.7,787.7 L1008.9,790.3 L1013.1,792.9 L1017.3,795.5 L1021.5,798.0 L1025.7,800.5 L1029.9,803.0 L1034.1,805.4 L1038.3,807.9 L1042.5,810.2 L1046.7,812.6 L1051.0,814.9 L1055.2,817.2 L1059.4,819.4 L1063.6,821.7 L1067.8,823.9 L1072.0,826.0 L1076.2,828.1 L1080.4,830.2 L1084.6,832.3 L1088.8,834.3 L1093.0,836.3 L1097.2,838.3 L1101.4,840.2 L1105.7,842.1 L1109.9,844.0 L1114.1,845.8 L1118.3,847.6 L1122.5,849.4 L1126.7,851.1 L1130.9,852.8 L1135.1,854.5 L1139.3,856.2 L1143.5,857.9 L1147.7,859.5 L1151.9,861.2 L1156.1,862.8 L1160.4,864.4 L1164.6,866.0 L1168.8,867.5 L1173.0,869.1 L1177.2,870.6 L1181.4,872.2 L1185.6,873.7 L1189.8,875.2 L1194.0,876.6 L1198.2,878.1 L1202.4,879.5 L1206.6,880.9 L1210.8,882.3 L1215.1,883.7 L1219.3,885.0 L1223.5,886.3 L1227.7,887.5 L1231.9,888.7 L1236.1,889.9 L1240.3,891.0 L1244.5,892.0 L1248.7,893.0 L1252.9,893.9 L1257.1,894.7 L1261.3,895.5 L1265.5,896.3 L1269.8,897.0 L1274.0,897.7 L1278.2,898.5 L1282.4,899.2 L1286.6,899.8 L1290.8,900.5 L1295.0,901.2" fill="none" stroke="#00CBCC" stroke-width="4.5" stroke-linejoin="round" stroke-linecap="round"/>
<path d="M201.0,898.4 L205.2,898.7 L209.4,898.8 L213.6,898.5 L217.8,897.7 L222.0,896.1 L226.2,893.9 L230.5,891.1 L234.7,887.8 L238.9,884.0 L243.1,879.8 L247.3,875.0 L251.5,869.6 L255.7,863.4 L259.9,856.5 L264.1,848.8 L268.3,840.4 L272.5,831.2 L276.7,821.3 L280.9,810.9 L285.2,800.0 L289.4,788.9 L293.6,777.6 L297.8,766.3 L302.0,755.2 L306.2,744.3 L310.4,734.0 L314.6,724.1 L318.8,714.8 L323.0,706.0 L327.2,697.6 L331.4,689.7 L335.6,682.1 L339.9,675.0 L344.1,668.3 L348.3,661.9 L352.5,655.9 L356.7,650.3 L360.9,644.9 L365.1,639.9 L369.3,635.2 L373.5,630.7 L377.7,626.4 L381.9,622.2 L386.1,618.0 L390.3,613.8 L394.6,609.7 L398.8,605.5 L403.0,601.3 L407.2,597.0 L411.4,592.6 L415.6,588.2 L419.8,583.6 L424.0,579.0 L428.2,574.3 L432.4,569.5 L436.6,564.6 L440.8,559.6 L445.0,554.5 L449.3,549.4 L453.5,544.3 L457.7,539.2 L461.9,534.2 L466.1,529.4 L470.3,524.6 L474.5,520.1 L478.7,515.7 L482.9,511.5 L487.1,507.5 L491.3,503.7 L495.5,500.1 L499.7,496.6 L504.0,493.3 L508.2,490.1 L512.4,487.1 L516.6,484.3 L520.8,481.6 L525.0,479.2 L529.2,476.9 L533.4,474.8 L537.6,473.0 L541.8,471.3 L546.0,469.8 L550.2,468.5 L554.4,467.3 L558.7,466.3 L562.9,465.5 L567.1,464.9 L571.3,464.4 L575.5,464.0 L579.7,463.9 L583.9,463.9 L588.1,464.0 L592.3,464.3 L596.5,464.8 L600.7,465.3 L604.9,466.0 L609.1,466.9 L613.4,467.9 L617.6,469.0 L621.8,470.2 L626.0,471.6 L630.2,473.0 L634.4,474.6 L638.6,476.3 L642.8,478.1 L647.0,480.0 L651.2,481.9 L655.4,484.0 L659.6,486.1 L663.8,488.3 L668.1,490.6 L672.3,493.0 L676.5,495.5 L680.7,498.0 L684.9,500.6 L689.1,503.3 L693.3,506.0 L697.5,508.9 L701.7,511.8 L705.9,514.7 L710.1,517.8 L714.3,520.9 L718.5,524.1 L722.8,527.3 L727.0,530.6 L731.2,534.0 L735.4,537.4 L739.6,540.9 L743.8,544.4 L748.0,547.9 L752.2,551.5 L756.4,555.1 L760.6,558.7 L764.8,562.4 L769.0,566.1 L773.2,569.8 L777.5,573.5 L781.7,577.3 L785.9,581.0 L790.1,584.8 L794.3,588.6 L798.5,592.4 L802.7,596.2 L806.9,600.0 L811.1,603.9 L815.3,607.7 L819.5,611.6 L823.7,615.4 L827.9,619.3 L832.2,623.2 L836.4,627.1 L840.6,631.0 L844.8,634.8 L849.0,638.7 L853.2,642.6 L857.4,646.5 L861.6,650.3 L865.8,654.2 L870.0,658.0 L874.2,661.9 L878.4,665.7 L882.6,669.5 L886.9,673.3 L891.1,677.1 L895.3,680.8 L899.5,684.6 L903.7,688.3 L907.9,692.0 L912.1,695.6 L916.3,699.3 L920.5,702.9 L924.7,706.5 L928.9,710.0 L933.1,713.6 L937.3,717.1 L941.6,720.6 L945.8,724.0 L950.0,727.4 L954.2,730.8 L958.4,734.1 L962.6,737.5 L966.8,740.7 L971.0,744.0 L975.2,747.1 L979.4,750.3 L983.6,753.4 L987.8,756.5 L992.0,759.5 L996.3,762.5 L1000.5,765.4 L1004.7,768.4 L1008.9,771.2 L1013.1,774.1 L1017.3,776.9 L1021.5,779.7 L1025.7,782.4 L1029.9,785.1 L1034.1,787.8 L1038.3,790.4 L1042.5,793.0 L1046.7,795.6 L1051.0,798.2 L1055.2,800.7 L1059.4,803.1 L1063.6,805.6 L1067.8,808.0 L1072.0,810.4 L1076.2,812.7 L1080.4,815.0 L1084.6,817.3 L1088.8,819.5 L1093.0,821.7 L1097.2,823.8 L1101.4,826.0 L1105.7,828.1 L1109.9,830.1 L1114.1,832.1 L1118.3,834.1 L1122.5,836.1 L1126.7,838.0 L1130.9,839.9 L1135.1,841.8 L1139.3,843.7 L1143.5,845.5 L1147.7,847.4 L1151.9,849.2 L1156.1,851.0 L1160.4,852.7 L1164.6,854.5 L1168.8,856.3 L1173.0,858.0 L1177.2,859.8 L1181.4,861.5 L1185.6,863.2 L1189.8,864.8 L1194.0,866.5 L1198.2,868.2 L1202.4,869.8 L1206.6,871.4 L1210.8,872.9 L1215.1,874.5 L1219.3,876.0 L1223.5,877.4 L1227.7,878.9 L1231.9,880.3 L1236.1,881.6 L1240.3,882.8 L1244.5,884.0 L1248.7,885.1 L1252.9,886.1 L1257.1,887.1 L1261.3,888.0 L1265.5,888.8 L1269.8,889.7 L1274.0,890.5 L1278.2,891.3 L1282.4,892.0 L1286.6,892.8 L1290.8,893.6 L1295.0,894.4" fill="none" stroke="#7D4E4E" stroke-width="4.5" stroke-linejoin="round" stroke-linecap="round"/>
<path d="M201.0,899.9 L205.2,900.2 L209.4,900.3 L213.6,900.0 L217.8,899.2 L222.0,897.6 L226.2,895.4 L230.5,892.6 L234.7,889.3 L238.9,885.5 L243.1,881.2 L247.3,876.4 L251.5,870.9 L255.7,864.6 L259.9,857.7 L264.1,850.0 L268.3,841.5 L272.5,832.3 L276.7,822.4 L280.9,811.9 L285.2,801.0 L289.4,789.9 L293.6,778.5 L297.8,767.2 L302.0,756.1 L306.2,745.3 L310.4,734.8 L314.6,724.9 L318.8,715.5 L323.0,706.5 L327.2,698.0 L331.4,689.9 L335.6,682.2 L339.9,675.0 L344.1,668.1 L348.3,661.6 L352.5,655.5 L356.7,649.7 L360.9,644.2 L365.1,639.0 L369.3,634.0 L373.5,629.3 L377.7,624.7 L381.9,620.2 L386.1,615.7 L390.3,611.2 L394.6,606.7 L398.8,602.1 L403.0,597.5 L407.2,592.8 L411.4,588.0 L415.6,583.1 L419.8,578.1 L424.0,573.0 L428.2,567.7 L432.4,562.3 L436.6,556.8 L440.8,551.2 L445.0,545.5 L449.3,539.8 L453.5,533.9 L457.7,528.1 L461.9,522.3 L466.1,516.6 L470.3,511.0 L474.5,505.6 L478.7,500.4 L482.9,495.3 L487.1,490.5 L491.3,485.8 L495.5,481.3 L499.7,477.0 L504.0,472.8 L508.2,468.7 L512.4,464.8 L516.6,461.1 L520.8,457.6 L525.0,454.2 L529.2,451.1 L533.4,448.1 L537.6,445.3 L541.8,442.8 L546.0,440.4 L550.2,438.2 L554.4,436.1 L558.7,434.3 L562.9,432.6 L567.1,431.1 L571.3,429.9 L575.5,428.8 L579.7,427.8 L583.9,427.1 L588.1,426.5 L592.3,426.1 L596.5,425.9 L600.7,425.9 L604.9,426.0 L609.1,426.2 L613.4,426.6 L617.6,427.2 L621.8,427.9 L626.0,428.8 L630.2,429.8 L634.4,430.9 L638.6,432.2 L642.8,433.6 L647.0,435.1 L651.2,436.7 L655.4,438.3 L659.6,440.1 L663.8,442.0 L668.1,443.9 L672.3,446.0 L676.5,448.2 L680.7,450.5 L684.9,453.0 L689.1,455.5 L693.3,458.2 L697.5,460.9 L701.7,463.8 L705.9,466.9 L710.1,470.0 L714.3,473.3 L718.5,476.7 L722.8,480.2 L727.0,483.8 L731.2,487.5 L735.4,491.2 L739.6,495.1 L743.8,499.0 L748.0,503.0 L752.2,507.1 L756.4,511.2 L760.6,515.3 L764.8,519.5 L769.0,523.7 L773.2,527.9 L777.5,532.2 L781.7,536.4 L785.9,540.6 L790.1,544.9 L794.3,549.1 L798.5,553.3 L802.7,557.6 L806.9,561.9 L811.1,566.2 L815.3,570.5 L819.5,574.8 L823.7,579.1 L827.9,583.5 L832.2,587.8 L836.4,592.2 L840.6,596.6 L844.8,600.9 L849.0,605.3 L853.2,609.6 L857.4,614.0 L861.6,618.3 L865.8,622.6 L870.0,626.9 L874.2,631.2 L878.4,635.5 L882.6,639.8 L886.9,644.0 L891.1,648.2 L895.3,652.4 L899.5,656.6 L903.7,660.7 L907.9,664.8 L912.1,668.9 L916.3,672.9 L920.5,676.9 L924.7,680.9 L928.9,684.8 L933.1,688.8 L937.3,692.6 L941.6,696.5 L945.8,700.3 L950.0,704.0 L954.2,707.8 L958.4,711.4 L962.6,715.1 L966.8,718.7 L971.0,722.2 L975.2,725.7 L979.4,729.1 L983.6,732.5 L987.8,735.8 L992.0,739.1 L996.3,742.3 L1000.5,745.5 L1004.7,748.7 L1008.9,751.8 L1013.1,754.8 L1017.3,757.9 L1021.5,760.8 L1025.7,763.8 L1029.9,766.7 L1034.1,769.6 L1038.3,772.4 L1042.5,775.2 L1046.7,778.0 L1051.0,780.7 L1055.2,783.4 L1059.4,786.0 L1063.6,788.6 L1067.8,791.2 L1072.0,793.7 L1076.2,796.2 L1080.4,798.6 L1084.6,801.1 L1088.8,803.4 L1093.0,805.8 L1097.2,808.1 L1101.4,810.3 L1105.7,812.6 L1109.9,814.8 L1114.1,816.9 L1118.3,819.1 L1122.5,821.2 L1126.7,823.3 L1130.9,825.4 L1135.1,827.4 L1139.3,829.4 L1143.5,831.5 L1147.7,833.5 L1151.9,835.5 L1156.1,837.4 L1160.4,839.4 L1164.6,841.4 L1168.8,843.3 L1173.0,845.3 L1177.2,847.2 L1181.4,849.1 L1185.6,851.0 L1189.8,852.9 L1194.0,854.8 L1198.2,856.7 L1202.4,858.5 L1206.6,860.3 L1210.8,862.1 L1215.1,863.8 L1219.3,865.5 L1223.5,867.2 L1227.7,868.8 L1231.9,870.4 L1236.1,871.8 L1240.3,873.2 L1244.5,874.5 L1248.7,875.7 L1252.9,876.8 L1257.1,877.9 L1261.3,878.8 L1265.5,879.8 L1269.8,880.7 L1274.0,881.6 L1278.2,882.5 L1282.4,883.4 L1286.6,884.3 L1290.8,885.1 L1295.0,886.0" fill="none" stroke="#8E8E00" stroke-width="4.5" stroke-linejoin="round" stroke-linecap="round"/>
<path d="M201.0,900.9 L205.2,901.3 L209.4,901.4 L213.6,901.1 L217.8,900.2 L222.0,898.7 L226.2,896.5 L230.5,893.7 L234.7,890.3 L238.9,886.5 L243.1,882.2 L247.3,877.3 L251.5,871.8 L255.7,865.5 L259.9,858.6 L264.1,850.8 L268.3,842.3 L272.5,833.0 L276.7,823.1 L280.9,812.6 L285.2,801.7 L289.4,790.5 L293.6,779.2 L297.8,767.9 L302.0,756.8 L306.2,745.9 L310.4,735.5 L314.6,725.5 L318.8,715.9 L323.0,706.9 L327.2,698.2 L331.4,690.1 L335.6,682.3 L339.9,675.0 L344.1,668.0 L348.3,661.5 L352.5,655.2 L356.7,649.3 L360.9,643.7 L365.1,638.4 L369.3,633.3 L373.5,628.3 L377.7,623.5 L381.9,618.8 L386.1,614.1 L390.3,609.4 L394.6,604.6 L398.8,599.8 L403.0,594.9 L407.2,589.9 L411.4,584.8 L415.6,579.6 L419.8,574.3 L424.0,568.8 L428.2,563.2 L432.4,557.4 L436.6,551.5 L440.8,545.5 L445.0,539.4 L449.3,533.2 L453.5,526.9 L457.7,520.5 L461.9,514.2 L466.1,507.9 L470.3,501.8 L474.5,495.8 L478.7,489.9 L482.9,484.3 L487.1,478.9 L491.3,473.6 L495.5,468.5 L499.7,463.6 L504.0,458.8 L508.2,454.1 L512.4,449.6 L516.6,445.3 L520.8,441.1 L525.0,437.1 L529.2,433.3 L533.4,429.7 L537.6,426.3 L541.8,423.1 L546.0,420.1 L550.2,417.3 L554.4,414.6 L558.7,412.2 L562.9,409.9 L567.1,407.8 L571.3,406.0 L575.5,404.3 L579.7,402.9 L583.9,401.6 L588.1,400.5 L592.3,399.6 L596.5,398.9 L600.7,398.4 L604.9,398.1 L609.1,397.9 L613.4,397.9 L617.6,398.1 L621.8,398.4 L626.0,398.9 L630.2,399.6 L634.4,400.4 L638.6,401.3 L642.8,402.4 L647.0,403.7 L651.2,405.0 L655.4,406.4 L659.6,407.9 L663.8,409.6 L668.1,411.3 L672.3,413.2 L676.5,415.3 L680.7,417.4 L684.9,419.7 L689.1,422.1 L693.3,424.7 L697.5,427.3 L701.7,430.2 L705.9,433.1 L710.1,436.2 L714.3,439.5 L718.5,442.9 L722.8,446.4 L727.0,450.0 L731.2,453.8 L735.4,457.6 L739.6,461.5 L743.8,465.6 L748.0,469.7 L752.2,473.8 L756.4,478.0 L760.6,482.3 L764.8,486.6 L769.0,491.0 L773.2,495.4 L777.5,499.8 L781.7,504.2 L785.9,508.6 L790.1,512.9 L794.3,517.3 L798.5,521.8 L802.7,526.2 L806.9,530.7 L811.1,535.2 L815.3,539.7 L819.5,544.3 L823.7,548.8 L827.9,553.4 L832.2,558.0 L836.4,562.6 L840.6,567.2 L844.8,571.8 L849.0,576.4 L853.2,581.0 L857.4,585.6 L861.6,590.2 L865.8,594.8 L870.0,599.4 L874.2,604.0 L878.4,608.5 L882.6,613.1 L886.9,617.6 L891.1,622.1 L895.3,626.5 L899.5,631.0 L903.7,635.4 L907.9,639.8 L912.1,644.2 L916.3,648.5 L920.5,652.8 L924.7,657.1 L928.9,661.3 L933.1,665.5 L937.3,669.7 L941.6,673.8 L945.8,677.9 L950.0,682.0 L954.2,686.0 L958.4,689.9 L962.6,693.8 L966.8,697.7 L971.0,701.5 L975.2,705.2 L979.4,708.9 L983.6,712.6 L987.8,716.1 L992.0,719.7 L996.3,723.2 L1000.5,726.6 L1004.7,730.0 L1008.9,733.3 L1013.1,736.6 L1017.3,739.9 L1021.5,743.1 L1025.7,746.3 L1029.9,749.4 L1034.1,752.5 L1038.3,755.6 L1042.5,758.6 L1046.7,761.6 L1051.0,764.5 L1055.2,767.4 L1059.4,770.2 L1063.6,773.1 L1067.8,775.8 L1072.0,778.6 L1076.2,781.3 L1080.4,783.9 L1084.6,786.6 L1088.8,789.1 L1093.0,791.7 L1097.2,794.2 L1101.4,796.6 L1105.7,799.0 L1109.9,801.4 L1114.1,803.8 L1118.3,806.1 L1122.5,808.4 L1126.7,810.7 L1130.9,813.0 L1135.1,815.2 L1139.3,817.4 L1143.5,819.6 L1147.7,821.8 L1151.9,823.9 L1156.1,826.1 L1160.4,828.2 L1164.6,830.4 L1168.8,832.5 L1173.0,834.6 L1177.2,836.7 L1181.4,838.8 L1185.6,840.9 L1189.8,843.0 L1194.0,845.1 L1198.2,847.1 L1202.4,849.1 L1206.6,851.1 L1210.8,853.1 L1215.1,855.0 L1219.3,856.9 L1223.5,858.7 L1227.7,860.5 L1231.9,862.2 L1236.1,863.8 L1240.3,865.4 L1244.5,866.8 L1248.7,868.2 L1252.9,869.4 L1257.1,870.6 L1261.3,871.7 L1265.5,872.8 L1269.8,873.8 L1274.0,874.7 L1278.2,875.7 L1282.4,876.7 L1286.6,877.6 L1290.8,878.6 L1295.0,879.5" fill="none" stroke="#FB6501" stroke-width="4.5" stroke-linejoin="round" stroke-linecap="round"/>
<path d="M201.0,901.6 L205.2,901.9 L209.4,902.1 L213.6,901.8 L217.8,900.9 L222.0,899.4 L226.2,897.1 L230.5,894.3 L234.7,891.0 L238.9,887.2 L243.1,882.8 L247.3,877.9 L251.5,872.3 L255.7,866.1 L259.9,859.1 L264.1,851.3 L268.3,842.8 L272.5,833.5 L276.7,823.6 L280.9,813.1 L285.2,802.2 L289.4,791.0 L293.6,779.7 L297.8,768.4 L302.0,757.2 L306.2,746.4 L310.4,735.9 L314.6,725.8 L318.8,716.2 L323.0,707.1 L327.2,698.4 L331.4,690.2 L335.6,682.3 L339.9,675.0 L344.1,668.0 L348.3,661.3 L352.5,655.1 L356.7,649.1 L360.9,643.4 L365.1,638.0 L369.3,632.8 L373.5,627.7 L377.7,622.8 L381.9,617.9 L386.1,613.1 L390.3,608.2 L394.6,603.3 L398.8,598.3 L403.0,593.3 L407.2,588.1 L411.4,582.8 L415.6,577.4 L419.8,571.9 L424.0,566.2 L428.2,560.3 L432.4,554.4 L436.6,548.2 L440.8,541.9 L445.0,535.5 L449.3,529.0 L453.5,522.4 L457.7,515.8 L461.9,509.1 L466.1,502.5 L470.3,496.0 L474.5,489.6 L478.7,483.4 L482.9,477.4 L487.1,471.6 L491.3,466.0 L495.5,460.5 L499.7,455.2 L504.0,450.0 L508.2,445.0 L512.4,440.1 L516.6,435.4 L520.8,430.8 L525.0,426.4 L529.2,422.2 L533.4,418.2 L537.6,414.4 L541.8,410.8 L546.0,407.4 L550.2,404.2 L554.4,401.1 L558.7,398.3 L562.9,395.6 L567.1,393.2 L571.3,391.0 L575.5,389.0 L579.7,387.2 L583.9,385.5 L588.1,384.1 L592.3,382.9 L596.5,381.9 L600.7,381.1 L604.9,380.5 L609.1,380.0 L613.4,379.8 L617.6,379.7 L621.8,379.8 L626.0,380.1 L630.2,380.5 L634.4,381.1 L638.6,381.9 L642.8,382.8 L647.0,383.8 L651.2,385.0 L655.4,386.3 L659.6,387.7 L663.8,389.2 L668.1,390.9 L672.3,392.7 L676.5,394.6 L680.7,396.7 L684.9,398.9 L689.1,401.2 L693.3,403.7 L697.5,406.2 L701.7,409.0 L705.9,411.8 L710.1,414.8 L714.3,417.9 L718.5,421.1 L722.8,424.5 L727.0,428.0 L731.2,431.6 L735.4,435.3 L739.6,439.0 L743.8,442.9 L748.0,446.9 L752.2,450.9 L756.4,455.0 L760.6,459.1 L764.8,463.3 L769.0,467.6 L773.2,471.8 L777.5,476.1 L781.7,480.5 L785.9,484.8 L790.1,489.2 L794.3,493.6 L798.5,498.0 L802.7,502.4 L806.9,506.9 L811.1,511.4 L815.3,516.0 L819.5,520.5 L823.7,525.1 L827.9,529.8 L832.2,534.4 L836.4,539.0 L840.6,543.7 L844.8,548.4 L849.0,553.1 L853.2,557.8 L857.4,562.5 L861.6,567.2 L865.8,571.9 L870.0,576.6 L874.2,581.3 L878.4,586.0 L882.6,590.7 L886.9,595.4 L891.1,600.0 L895.3,604.7 L899.5,609.3 L903.7,613.9 L907.9,618.5 L912.1,623.0 L916.3,627.5 L920.5,632.0 L924.7,636.5 L928.9,641.0 L933.1,645.4 L937.3,649.7 L941.6,654.1 L945.8,658.4 L950.0,662.6 L954.2,666.9 L958.4,671.1 L962.6,675.2 L966.8,679.3 L971.0,683.3 L975.2,687.3 L979.4,691.2 L983.6,695.1 L987.8,698.9 L992.0,702.6 L996.3,706.3 L1000.5,710.0 L1004.7,713.6 L1008.9,717.2 L1013.1,720.7 L1017.3,724.2 L1021.5,727.7 L1025.7,731.0 L1029.9,734.4 L1034.1,737.7 L1038.3,741.0 L1042.5,744.2 L1046.7,747.4 L1051.0,750.6 L1055.2,753.7 L1059.4,756.8 L1063.6,759.8 L1067.8,762.8 L1072.0,765.8 L1076.2,768.7 L1080.4,771.6 L1084.6,774.5 L1088.8,777.3 L1093.0,780.0 L1097.2,782.7 L1101.4,785.4 L1105.7,788.0 L1109.9,790.6 L1114.1,793.2 L1118.3,795.7 L1122.5,798.2 L1126.7,800.7 L1130.9,803.1 L1135.1,805.5 L1139.3,807.9 L1143.5,810.2 L1147.7,812.6 L1151.9,814.9 L1156.1,817.2 L1160.4,819.5 L1164.6,821.8 L1168.8,824.1 L1173.0,826.3 L1177.2,828.6 L1181.4,830.8 L1185.6,833.1 L1189.8,835.3 L1194.0,837.5 L1198.2,839.6 L1202.4,841.8 L1206.6,843.9 L1210.8,846.0 L1215.1,848.1 L1219.3,850.1 L1223.5,852.1 L1227.7,854.0 L1231.9,855.9 L1236.1,857.7 L1240.3,859.4 L1244.5,861.0 L1248.7,862.6 L1252.9,864.0 L1257.1,865.3 L1261.3,866.5 L1265.5,867.7 L1269.8,868.7 L1274.0,869.8 L1278.2,870.8 L1282.4,871.8 L1286.6,872.9 L1290.8,873.8 L1295.0,874.8" fill="none" stroke="#6699CC" stroke-width="4.5" stroke-linejoin="round" stroke-linecap="round"/>
<path d="M201.0,902.3 L205.2,902.7 L209.4,902.8 L213.6,902.6 L217.8,901.7 L222.0,900.1 L226.2,897.9 L230.5,895.1 L234.7,891.7 L238.9,887.9 L243.1,883.5 L247.3,878.6 L251.5,873.0 L255.7,866.7 L259.9,859.7 L264.1,851.9 L268.3,843.4 L272.5,834.1 L276.7,824.1 L280.9,813.6 L285.2,802.6 L289.4,791.5 L293.6,780.1 L297.8,768.8 L302.0,757.7 L306.2,746.8 L310.4,736.3 L314.6,726.2 L318.8,716.6 L323.0,707.3 L327.2,698.6 L331.4,690.3 L335.6,682.4 L339.9,674.9 L344.1,667.9 L348.3,661.2 L352.5,654.9 L356.7,648.8 L360.9,643.1 L365.1,637.5 L369.3,632.2 L373.5,627.0 L377.7,622.0 L381.9,616.9 L386.1,611.9 L390.3,606.9 L394.6,601.8 L398.8,596.7 L403.0,591.4 L407.2,586.0 L411.4,580.6 L415.6,574.9 L419.8,569.2 L424.0,563.2 L428.2,557.2 L432.4,550.9 L436.6,544.5 L440.8,537.9 L445.0,531.2 L449.3,524.4 L453.5,517.5 L457.7,510.5 L461.9,503.5 L466.1,496.5 L470.3,489.6 L474.5,482.8 L478.7,476.1 L482.9,469.7 L487.1,463.5 L491.3,457.4 L495.5,451.5 L499.7,445.8 L504.0,440.2 L508.2,434.7 L512.4,429.4 L516.6,424.3 L520.8,419.3 L525.0,414.4 L529.2,409.8 L533.4,405.3 L537.6,401.1 L541.8,397.0 L546.0,393.1 L550.2,389.4 L554.4,385.9 L558.7,382.7 L562.9,379.6 L567.1,376.7 L571.3,374.1 L575.5,371.7 L579.7,369.5 L583.9,367.5 L588.1,365.7 L592.3,364.1 L596.5,362.8 L600.7,361.6 L604.9,360.7 L609.1,359.9 L613.4,359.4 L617.6,359.0 L621.8,358.8 L626.0,358.8 L630.2,359.0 L634.4,359.4 L638.6,359.9 L642.8,360.6 L647.0,361.5 L651.2,362.5 L655.4,363.6 L659.6,364.9 L663.8,366.3 L668.1,367.9 L672.3,369.6 L676.5,371.4 L680.7,373.4 L684.9,375.5 L689.1,377.7 L693.3,380.0 L697.5,382.5 L701.7,385.1 L705.9,387.8 L710.1,390.6 L714.3,393.6 L718.5,396.7 L722.8,399.8 L727.0,403.1 L731.2,406.5 L735.4,410.0 L739.6,413.6 L743.8,417.3 L748.0,421.0 L752.2,424.9 L756.4,428.8 L760.6,432.7 L764.8,436.7 L769.0,440.8 L773.2,444.9 L777.5,449.1 L781.7,453.3 L785.9,457.6 L790.1,461.9 L794.3,466.2 L798.5,470.6 L802.7,475.0 L806.9,479.4 L811.1,483.9 L815.3,488.5 L819.5,493.0 L823.7,497.6 L827.9,502.3 L832.2,506.9 L836.4,511.6 L840.6,516.3 L844.8,521.0 L849.0,525.8 L853.2,530.6 L857.4,535.3 L861.6,540.1 L865.8,544.9 L870.0,549.8 L874.2,554.6 L878.4,559.4 L882.6,564.2 L886.9,569.1 L891.1,573.9 L895.3,578.7 L899.5,583.5 L903.7,588.3 L907.9,593.1 L912.1,597.8 L916.3,602.5 L920.5,607.3 L924.7,611.9 L928.9,616.6 L933.1,621.2 L937.3,625.8 L941.6,630.4 L945.8,635.0 L950.0,639.5 L954.2,643.9 L958.4,648.4 L962.6,652.8 L966.8,657.1 L971.0,661.4 L975.2,665.7 L979.4,669.9 L983.6,674.0 L987.8,678.1 L992.0,682.1 L996.3,686.1 L1000.5,690.1 L1004.7,694.0 L1008.9,697.8 L1013.1,701.6 L1017.3,705.4 L1021.5,709.1 L1025.7,712.8 L1029.9,716.4 L1034.1,720.0 L1038.3,723.6 L1042.5,727.1 L1046.7,730.5 L1051.0,734.0 L1055.2,737.4 L1059.4,740.7 L1063.6,744.0 L1067.8,747.3 L1072.0,750.5 L1076.2,753.7 L1080.4,756.9 L1084.6,760.0 L1088.8,763.1 L1093.0,766.1 L1097.2,769.1 L1101.4,772.0 L1105.7,774.9 L1109.9,777.8 L1114.1,780.6 L1118.3,783.4 L1122.5,786.1 L1126.7,788.8 L1130.9,791.4 L1135.1,794.0 L1139.3,796.6 L1143.5,799.2 L1147.7,801.7 L1151.9,804.3 L1156.1,806.8 L1160.4,809.2 L1164.6,811.7 L1168.8,814.2 L1173.0,816.6 L1177.2,819.0 L1181.4,821.4 L1185.6,823.8 L1189.8,826.2 L1194.0,828.5 L1198.2,830.9 L1202.4,833.2 L1206.6,835.5 L1210.8,837.7 L1215.1,840.0 L1219.3,842.1 L1223.5,844.3 L1227.7,846.4 L1231.9,848.4 L1236.1,850.4 L1240.3,852.3 L1244.5,854.1 L1248.7,855.9 L1252.9,857.5 L1257.1,859.0 L1261.3,860.4 L1265.5,861.7 L1269.8,862.9 L1274.0,864.0 L1278.2,865.2 L1282.4,866.2 L1286.6,867.3 L1290.8,868.4 L1295.0,869.4" fill="none" stroke="#6FB802" stroke-width="4.5" stroke-linejoin="round" stroke-linecap="round"/>
<path d="M201.0,903.0 L205.2,903.4 L209.4,903.6 L213.6,903.3 L217.8,902.4 L222.0,900.8 L226.2,898.6 L230.5,895.8 L234.7,892.4 L238.9,888.6 L243.1,884.2 L247.3,879.2 L251.5,873.6 L255.7,867.3 L259.9,860.3 L264.1,852.5 L268.3,843.9 L272.5,834.6 L276.7,824.6 L280.9,814.1 L285.2,803.1 L289.4,791.9 L293.6,780.6 L297.8,769.3 L302.0,758.2 L306.2,747.3 L310.4,736.7 L314.6,726.6 L318.8,716.9 L323.0,707.6 L327.2,698.7 L331.4,690.4 L335.6,682.4 L339.9,674.9 L344.1,667.8 L348.3,661.1 L352.5,654.7 L356.7,648.6 L360.9,642.7 L365.1,637.1 L369.3,631.7 L373.5,626.4 L377.7,621.2 L381.9,616.0 L386.1,610.9 L390.3,605.7 L394.6,600.4 L398.8,595.1 L403.0,589.7 L407.2,584.1 L411.4,578.4 L415.6,572.6 L419.8,566.6 L424.0,560.5 L428.2,554.2 L432.4,547.7 L436.6,541.0 L440.8,534.2 L445.0,527.2 L449.3,520.1 L453.5,512.8 L457.7,505.5 L461.9,498.1 L466.1,490.8 L470.3,483.5 L474.5,476.3 L478.7,469.3 L482.9,462.5 L487.1,455.8 L491.3,449.4 L495.5,443.1 L499.7,437.0 L504.0,431.0 L508.2,425.1 L512.4,419.4 L516.6,413.8 L520.8,408.4 L525.0,403.1 L529.2,398.1 L533.4,393.2 L537.6,388.5 L541.8,384.0 L546.0,379.7 L550.2,375.6 L554.4,371.7 L558.7,368.0 L562.9,364.5 L567.1,361.2 L571.3,358.2 L575.5,355.4 L579.7,352.8 L583.9,350.4 L588.1,348.3 L592.3,346.4 L596.5,344.7 L600.7,343.3 L604.9,342.0 L609.1,340.9 L613.4,340.1 L617.6,339.5 L621.8,339.0 L626.0,338.8 L630.2,338.7 L634.4,338.8 L638.6,339.2 L642.8,339.7 L647.0,340.3 L651.2,341.2 L655.4,342.2 L659.6,343.3 L663.8,344.6 L668.1,346.1 L672.3,347.7 L676.5,349.4 L680.7,351.3 L684.9,353.3 L689.1,355.4 L693.3,357.7 L697.5,360.1 L701.7,362.6 L705.9,365.2 L710.1,367.9 L714.3,370.8 L718.5,373.7 L722.8,376.8 L727.0,380.0 L731.2,383.3 L735.4,386.7 L739.6,390.1 L743.8,393.7 L748.0,397.3 L752.2,401.0 L756.4,404.8 L760.6,408.7 L764.8,412.6 L769.0,416.6 L773.2,420.7 L777.5,424.8 L781.7,429.0 L785.9,433.2 L790.1,437.5 L794.3,441.8 L798.5,446.2 L802.7,450.6 L806.9,455.0 L811.1,459.6 L815.3,464.1 L819.5,468.7 L823.7,473.3 L827.9,478.0 L832.2,482.7 L836.4,487.5 L840.6,492.2 L844.8,497.0 L849.0,501.9 L853.2,506.7 L857.4,511.6 L861.6,516.5 L865.8,521.4 L870.0,526.3 L874.2,531.3 L878.4,536.2 L882.6,541.2 L886.9,546.2 L891.1,551.1 L895.3,556.1 L899.5,561.1 L903.7,566.0 L907.9,571.0 L912.1,575.9 L916.3,580.9 L920.5,585.8 L924.7,590.6 L928.9,595.5 L933.1,600.3 L937.3,605.2 L941.6,609.9 L945.8,614.7 L950.0,619.4 L954.2,624.1 L958.4,628.8 L962.6,633.4 L966.8,637.9 L971.0,642.5 L975.2,647.0 L979.4,651.4 L983.6,655.8 L987.8,660.1 L992.0,664.4 L996.3,668.6 L1000.5,672.8 L1004.7,677.0 L1008.9,681.1 L1013.1,685.1 L1017.3,689.1 L1021.5,693.0 L1025.7,696.9 L1029.9,700.8 L1034.1,704.6 L1038.3,708.4 L1042.5,712.1 L1046.7,715.8 L1051.0,719.5 L1055.2,723.1 L1059.4,726.7 L1063.6,730.2 L1067.8,733.7 L1072.0,737.2 L1076.2,740.6 L1080.4,744.0 L1084.6,747.4 L1088.8,750.6 L1093.0,753.9 L1097.2,757.1 L1101.4,760.3 L1105.7,763.4 L1109.9,766.4 L1114.1,769.4 L1118.3,772.4 L1122.5,775.3 L1126.7,778.2 L1130.9,781.1 L1135.1,783.9 L1139.3,786.7 L1143.5,789.4 L1147.7,792.1 L1151.9,794.8 L1156.1,797.5 L1160.4,800.1 L1164.6,802.7 L1168.8,805.3 L1173.0,807.9 L1177.2,810.5 L1181.4,813.0 L1185.6,815.6 L1189.8,818.1 L1194.0,820.6 L1198.2,823.1 L1202.4,825.5 L1206.6,827.9 L1210.8,830.3 L1215.1,832.7 L1219.3,835.0 L1223.5,837.3 L1227.7,839.5 L1231.9,841.7 L1236.1,843.8 L1240.3,845.9 L1244.5,847.9 L1248.7,849.8 L1252.9,851.5 L1257.1,853.2 L1261.3,854.7 L1265.5,856.2 L1269.8,857.5 L1274.0,858.8 L1278.2,860.0 L1282.4,861.1 L1286.6,862.3 L1290.8,863.4 L1295.0,864.5" fill="none" stroke="#515151" stroke-width="4.5" stroke-linejoin="round" stroke-linecap="round"/>
<path d="M201.0,903.9 L205.2,904.3 L209.4,904.4 L213.6,904.1 L217.8,903.2 L222.0,901.7 L226.2,899.5 L230.5,896.7 L234.7,893.3 L238.9,889.4 L243.1,885.0 L247.3,880.0 L251.5,874.4 L255.7,868.0 L259.9,861.0 L264.1,853.2 L268.3,844.6 L272.5,835.2 L276.7,825.2 L280.9,814.6 L285.2,803.7 L289.4,792.5 L293.6,781.1 L297.8,769.9 L302.0,758.7 L306.2,747.8 L310.4,737.2 L314.6,727.0 L318.8,717.2 L323.0,707.9 L327.2,698.9 L331.4,690.5 L335.6,682.5 L339.9,674.9 L344.1,667.7 L348.3,660.9 L352.5,654.5 L356.7,648.3 L360.9,642.4 L365.1,636.6 L369.3,631.0 L373.5,625.6 L377.7,620.3 L381.9,614.9 L386.1,609.6 L390.3,604.2 L394.6,598.8 L398.8,593.3 L403.0,587.6 L407.2,581.8 L411.4,575.9 L415.6,569.8 L419.8,563.6 L424.0,557.2 L428.2,550.6 L432.4,543.8 L436.6,536.8 L440.8,529.7 L445.0,522.4 L449.3,514.9 L453.5,507.3 L457.7,499.6 L461.9,491.8 L466.1,484.0 L470.3,476.3 L474.5,468.7 L478.7,461.2 L482.9,453.9 L487.1,446.8 L491.3,439.9 L495.5,433.1 L499.7,426.5 L504.0,420.0 L508.2,413.7 L512.4,407.5 L516.6,401.4 L520.8,395.5 L525.0,389.8 L529.2,384.2 L533.4,378.8 L537.6,373.6 L541.8,368.6 L546.0,363.8 L550.2,359.1 L554.4,354.7 L558.7,350.6 L562.9,346.6 L567.1,342.9 L571.3,339.4 L575.5,336.1 L579.7,333.1 L583.9,330.3 L588.1,327.7 L592.3,325.4 L596.5,323.3 L600.7,321.5 L604.9,319.9 L609.1,318.5 L613.4,317.3 L617.6,316.3 L621.8,315.6 L626.0,315.0 L630.2,314.7 L634.4,314.5 L638.6,314.6 L642.8,314.9 L647.0,315.3 L651.2,316.0 L655.4,316.8 L659.6,317.7 L663.8,318.9 L668.1,320.2 L672.3,321.7 L676.5,323.3 L680.7,325.0 L684.9,326.9 L689.1,328.9 L693.3,331.1 L697.5,333.4 L701.7,335.8 L705.9,338.4 L710.1,341.0 L714.3,343.8 L718.5,346.7 L722.8,349.7 L727.0,352.8 L731.2,356.0 L735.4,359.3 L739.6,362.8 L743.8,366.3 L748.0,369.9 L752.2,373.6 L756.4,377.3 L760.6,381.2 L764.8,385.1 L769.0,389.1 L773.2,393.2 L777.5,397.3 L781.7,401.5 L785.9,405.8 L790.1,410.1 L794.3,414.5 L798.5,418.9 L802.7,423.4 L806.9,427.9 L811.1,432.5 L815.3,437.2 L819.5,441.9 L823.7,446.6 L827.9,451.4 L832.2,456.2 L836.4,461.1 L840.6,466.0 L844.8,470.9 L849.0,475.9 L853.2,480.9 L857.4,485.9 L861.6,490.9 L865.8,496.0 L870.0,501.1 L874.2,506.2 L878.4,511.4 L882.6,516.5 L886.9,521.7 L891.1,526.9 L895.3,532.0 L899.5,537.2 L903.7,542.4 L907.9,547.5 L912.1,552.7 L916.3,557.8 L920.5,563.0 L924.7,568.1 L928.9,573.2 L933.1,578.3 L937.3,583.3 L941.6,588.3 L945.8,593.3 L950.0,598.3 L954.2,603.2 L958.4,608.1 L962.6,613.0 L966.8,617.8 L971.0,622.6 L975.2,627.3 L979.4,632.0 L983.6,636.6 L987.8,641.2 L992.0,645.7 L996.3,650.2 L1000.5,654.7 L1004.7,659.0 L1008.9,663.4 L1013.1,667.7 L1017.3,671.9 L1021.5,676.1 L1025.7,680.2 L1029.9,684.3 L1034.1,688.4 L1038.3,692.4 L1042.5,696.3 L1046.7,700.3 L1051.0,704.2 L1055.2,708.0 L1059.4,711.8 L1063.6,715.6 L1067.8,719.3 L1072.0,723.0 L1076.2,726.6 L1080.4,730.2 L1084.6,733.8 L1088.8,737.3 L1093.0,740.8 L1097.2,744.2 L1101.4,747.6 L1105.7,750.9 L1109.9,754.2 L1114.1,757.4 L1118.3,760.5 L1122.5,763.7 L1126.7,766.7 L1130.9,769.8 L1135.1,772.8 L1139.3,775.7 L1143.5,778.7 L1147.7,781.5 L1151.9,784.4 L1156.1,787.2 L1160.4,790.0 L1164.6,792.8 L1168.8,795.6 L1173.0,798.3 L1177.2,801.1 L1181.4,803.8 L1185.6,806.5 L1189.8,809.2 L1194.0,811.8 L1198.2,814.4 L1202.4,817.1 L1206.6,819.6 L1210.8,822.2 L1215.1,824.7 L1219.3,827.2 L1223.5,829.6 L1227.7,832.0 L1231.9,834.3 L1236.1,836.6 L1240.3,838.8 L1244.5,840.9 L1248.7,843.0 L1252.9,844.9 L1257.1,846.7 L1261.3,848.4 L1265.5,850.0 L1269.8,851.4 L1274.0,852.8 L1278.2,854.1 L1282.4,855.3 L1286.6,856.5 L1290.8,857.7 L1295.0,858.9" fill="none" stroke="#F14040" stroke-width="4.5" stroke-linejoin="round" stroke-linecap="round"/>
<path d="M201.0,904.8 L205.2,905.2 L209.4,905.4 L213.6,905.1 L217.8,904.2 L222.0,902.6 L226.2,900.4 L230.5,897.6 L234.7,894.2 L238.9,890.3 L243.1,885.9 L247.3,880.8 L251.5,875.2 L255.7,868.8 L259.9,861.7 L264.1,853.9 L268.3,845.3 L272.5,835.9 L276.7,825.8 L280.9,815.3 L285.2,804.3 L289.4,793.1 L293.6,781.7 L297.8,770.5 L302.0,759.3 L306.2,748.4 L310.4,737.8 L314.6,727.5 L318.8,717.7 L323.0,708.2 L327.2,699.2 L331.4,690.6 L335.6,682.5 L339.9,674.9 L344.1,667.6 L348.3,660.8 L352.5,654.2 L356.7,648.0 L360.9,641.9 L365.1,636.1 L369.3,630.3 L373.5,624.7 L377.7,619.2 L381.9,613.7 L386.1,608.2 L390.3,602.6 L394.6,596.9 L398.8,591.2 L403.0,585.3 L407.2,579.3 L411.4,573.1 L415.6,566.8 L419.8,560.3 L424.0,553.5 L428.2,546.6 L432.4,539.5 L436.6,532.2 L440.8,524.7 L445.0,517.0 L449.3,509.2 L453.5,501.2 L457.7,493.0 L461.9,484.8 L466.1,476.5 L470.3,468.3 L474.5,460.2 L478.7,452.2 L482.9,444.3 L487.1,436.7 L491.3,429.3 L495.5,422.0 L499.7,414.8 L504.0,407.9 L508.2,401.0 L512.4,394.3 L516.6,387.7 L520.8,381.2 L525.0,374.9 L529.2,368.8 L533.4,362.8 L537.6,357.0 L541.8,351.5 L546.0,346.1 L550.2,340.9 L554.4,336.0 L558.7,331.2 L562.9,326.7 L567.1,322.5 L571.3,318.5 L575.5,314.7 L579.7,311.2 L583.9,307.9 L588.1,304.9 L592.3,302.2 L596.5,299.6 L600.7,297.4 L604.9,295.3 L609.1,293.5 L613.4,292.0 L617.6,290.7 L621.8,289.6 L626.0,288.7 L630.2,288.0 L634.4,287.6 L638.6,287.4 L642.8,287.4 L647.0,287.6 L651.2,288.0 L655.4,288.6 L659.6,289.4 L663.8,290.3 L668.1,291.4 L672.3,292.7 L676.5,294.2 L680.7,295.8 L684.9,297.6 L689.1,299.5 L693.3,301.6 L697.5,303.8 L701.7,306.1 L705.9,308.6 L710.1,311.1 L714.3,313.9 L718.5,316.7 L722.8,319.7 L727.0,322.7 L731.2,325.9 L735.4,329.2 L739.6,332.7 L743.8,336.2 L748.0,339.8 L752.2,343.5 L756.4,347.3 L760.6,351.2 L764.8,355.2 L769.0,359.2 L773.2,363.3 L777.5,367.5 L781.7,371.8 L785.9,376.2 L790.1,380.6 L794.3,385.0 L798.5,389.6 L802.7,394.2 L806.9,398.8 L811.1,403.6 L815.3,408.3 L819.5,413.2 L823.7,418.0 L827.9,423.0 L832.2,428.0 L836.4,433.0 L840.6,438.1 L844.8,443.2 L849.0,448.3 L853.2,453.5 L857.4,458.7 L861.6,464.0 L865.8,469.2 L870.0,474.6 L874.2,479.9 L878.4,485.2 L882.6,490.6 L886.9,496.0 L891.1,501.4 L895.3,506.8 L899.5,512.2 L903.7,517.7 L907.9,523.1 L912.1,528.5 L916.3,533.9 L920.5,539.3 L924.7,544.6 L928.9,550.0 L933.1,555.3 L937.3,560.6 L941.6,565.9 L945.8,571.2 L950.0,576.4 L954.2,581.6 L958.4,586.7 L962.6,591.9 L966.8,596.9 L971.0,602.0 L975.2,607.0 L979.4,611.9 L983.6,616.8 L987.8,621.6 L992.0,626.4 L996.3,631.2 L1000.5,635.9 L1004.7,640.5 L1008.9,645.1 L1013.1,649.6 L1017.3,654.1 L1021.5,658.5 L1025.7,662.9 L1029.9,667.2 L1034.1,671.5 L1038.3,675.7 L1042.5,679.9 L1046.7,684.1 L1051.0,688.2 L1055.2,692.3 L1059.4,696.3 L1063.6,700.3 L1067.8,704.2 L1072.0,708.1 L1076.2,712.0 L1080.4,715.8 L1084.6,719.6 L1088.8,723.3 L1093.0,727.0 L1097.2,730.6 L1101.4,734.2 L1105.7,737.7 L1109.9,741.2 L1114.1,744.7 L1118.3,748.0 L1122.5,751.3 L1126.7,754.6 L1130.9,757.8 L1135.1,761.0 L1139.3,764.2 L1143.5,767.3 L1147.7,770.3 L1151.9,773.4 L1156.1,776.4 L1160.4,779.4 L1164.6,782.3 L1168.8,785.3 L1173.0,788.2 L1177.2,791.1 L1181.4,794.0 L1185.6,796.8 L1189.8,799.7 L1194.0,802.5 L1198.2,805.3 L1202.4,808.1 L1206.6,810.8 L1210.8,813.5 L1215.1,816.2 L1219.3,818.8 L1223.5,821.4 L1227.7,824.0 L1231.9,826.5 L1236.1,828.9 L1240.3,831.3 L1244.5,833.6 L1248.7,835.8 L1252.9,837.8 L1257.1,839.8 L1261.3,841.6 L1265.5,843.3 L1269.8,844.9 L1274.0,846.4 L1278.2,847.8 L1282.4,849.1 L1286.6,850.4 L1290.8,851.6 L1295.0,852.9" fill="none" stroke="#1A6FDF" stroke-width="4.5" stroke-linejoin="round" stroke-linecap="round"/>
<path d="M201.0,905.9 L205.2,906.3 L209.4,906.5 L213.6,906.2 L217.8,905.3 L222.0,903.8 L226.2,901.6 L230.5,898.7 L234.7,895.4 L238.9,891.4 L243.1,887.0 L247.3,881.9 L251.5,876.1 L255.7,869.8 L259.9,862.7 L264.1,854.8 L268.3,846.2 L272.5,836.7 L276.7,826.6 L280.9,816.0 L285.2,805.0 L289.4,793.8 L293.6,782.5 L297.8,771.2 L302.0,760.1 L306.2,749.1 L310.4,738.5 L314.6,728.1 L318.8,718.1 L323.0,708.6 L327.2,699.4 L331.4,690.8 L335.6,682.6 L339.9,674.9 L344.1,667.5 L348.3,660.6 L352.5,653.9 L356.7,647.6 L360.9,641.4 L365.1,635.4 L369.3,629.5 L373.5,623.7 L377.7,618.0 L381.9,612.2 L386.1,606.5 L390.3,600.6 L394.6,594.7 L398.8,588.7 L403.0,582.5 L407.2,576.2 L411.4,569.7 L415.6,563.0 L419.8,556.2 L424.0,549.1 L428.2,541.8 L432.4,534.3 L436.6,526.5 L440.8,518.6 L445.0,510.4 L449.3,502.1 L453.5,493.6 L457.7,484.9 L461.9,476.1 L466.1,467.3 L470.3,458.5 L474.5,449.7 L478.7,441.1 L482.9,432.6 L487.1,424.4 L491.3,416.3 L495.5,408.4 L499.7,400.6 L504.0,393.0 L508.2,385.5 L512.4,378.1 L516.6,370.8 L520.8,363.7 L525.0,356.7 L529.2,349.9 L533.4,343.3 L537.6,336.8 L541.8,330.6 L546.0,324.5 L550.2,318.7 L554.4,313.1 L558.7,307.7 L562.9,302.6 L567.1,297.7 L571.3,293.1 L575.5,288.7 L579.7,284.6 L583.9,280.8 L588.1,277.2 L592.3,273.9 L596.5,270.9 L600.7,268.1 L604.9,265.6 L609.1,263.3 L613.4,261.3 L617.6,259.6 L621.8,258.1 L626.0,256.8 L630.2,255.8 L634.4,255.0 L638.6,254.4 L642.8,254.1 L647.0,254.0 L651.2,254.1 L655.4,254.4 L659.6,255.0 L663.8,255.7 L668.1,256.6 L672.3,257.7 L676.5,259.0 L680.7,260.4 L684.9,262.1 L689.1,263.8 L693.3,265.8 L697.5,267.9 L701.7,270.1 L705.9,272.5 L710.1,275.0 L714.3,277.7 L718.5,280.4 L722.8,283.4 L727.0,286.4 L731.2,289.6 L735.4,292.9 L739.6,296.3 L743.8,299.9 L748.0,303.5 L752.2,307.3 L756.4,311.1 L760.6,315.1 L764.8,319.1 L769.0,323.2 L773.2,327.4 L777.5,331.7 L781.7,336.1 L785.9,340.6 L790.1,345.1 L794.3,349.7 L798.5,354.4 L802.7,359.1 L806.9,364.0 L811.1,368.8 L815.3,373.8 L819.5,378.8 L823.7,383.9 L827.9,389.0 L832.2,394.2 L836.4,399.4 L840.6,404.7 L844.8,410.0 L849.0,415.4 L853.2,420.8 L857.4,426.3 L861.6,431.8 L865.8,437.3 L870.0,442.9 L874.2,448.5 L878.4,454.1 L882.6,459.8 L886.9,465.4 L891.1,471.1 L895.3,476.8 L899.5,482.5 L903.7,488.3 L907.9,494.0 L912.1,499.7 L916.3,505.4 L920.5,511.1 L924.7,516.8 L928.9,522.4 L933.1,528.1 L937.3,533.7 L941.6,539.3 L945.8,544.9 L950.0,550.4 L954.2,555.9 L958.4,561.4 L962.6,566.8 L966.8,572.2 L971.0,577.5 L975.2,582.8 L979.4,588.1 L983.6,593.3 L987.8,598.4 L992.0,603.5 L996.3,608.6 L1000.5,613.5 L1004.7,618.5 L1008.9,623.3 L1013.1,628.1 L1017.3,632.9 L1021.5,637.6 L1025.7,642.3 L1029.9,646.9 L1034.1,651.4 L1038.3,656.0 L1042.5,660.4 L1046.7,664.9 L1051.0,669.2 L1055.2,673.6 L1059.4,677.9 L1063.6,682.1 L1067.8,686.3 L1072.0,690.5 L1076.2,694.6 L1080.4,698.7 L1084.6,702.7 L1088.8,706.7 L1093.0,710.6 L1097.2,714.5 L1101.4,718.3 L1105.7,722.1 L1109.9,725.8 L1114.1,729.5 L1118.3,733.1 L1122.5,736.7 L1126.7,740.2 L1130.9,743.6 L1135.1,747.0 L1139.3,750.4 L1143.5,753.7 L1147.7,757.0 L1151.9,760.2 L1156.1,763.4 L1160.4,766.6 L1164.6,769.8 L1168.8,772.9 L1173.0,776.1 L1177.2,779.2 L1181.4,782.2 L1185.6,785.3 L1189.8,788.3 L1194.0,791.4 L1198.2,794.4 L1202.4,797.3 L1206.6,800.3 L1210.8,803.2 L1215.1,806.1 L1219.3,808.9 L1223.5,811.7 L1227.7,814.4 L1231.9,817.1 L1236.1,819.7 L1240.3,822.3 L1244.5,824.7 L1248.7,827.1 L1252.9,829.4 L1257.1,831.5 L1261.3,833.5 L1265.5,835.4 L1269.8,837.1 L1274.0,838.7 L1278.2,840.2 L1282.4,841.6 L1286.6,843.0 L1290.8,844.3 L1295.0,845.6" fill="none" stroke="#37AD6B" stroke-width="4.5" stroke-linejoin="round" stroke-linecap="round"/>
<path d="M201.0,906.4 L205.2,906.8 L209.4,906.9 L213.6,906.7 L217.8,905.8 L222.0,904.2 L226.2,902.0 L230.5,899.2 L234.7,895.8 L238.9,891.9 L243.1,887.4 L247.3,882.3 L251.5,876.5 L255.7,870.1 L259.9,863.0 L264.1,855.1 L268.3,846.5 L272.5,837.1 L276.7,826.9 L280.9,816.3 L285.2,805.3 L289.4,794.1 L293.6,782.8 L297.8,771.5 L302.0,760.3 L306.2,749.4 L310.4,738.7 L314.6,728.4 L318.8,718.3 L323.0,708.7 L327.2,699.5 L331.4,690.9 L335.6,682.6 L339.9,674.9 L344.1,667.5 L348.3,660.5 L352.5,653.8 L356.7,647.4 L360.9,641.2 L365.1,635.1 L369.3,629.2 L373.5,623.3 L377.7,617.5 L381.9,611.7 L386.1,605.8 L390.3,599.9 L394.6,593.9 L398.8,587.7 L403.0,581.5 L407.2,575.0 L411.4,568.4 L415.6,561.6 L419.8,554.6 L424.0,547.4 L428.2,539.9 L432.4,532.3 L436.6,524.4 L440.8,516.2 L445.0,507.9 L449.3,499.4 L453.5,490.7 L457.7,481.8 L461.9,472.8 L466.1,463.8 L470.3,454.7 L474.5,445.7 L478.7,436.8 L482.9,428.1 L487.1,419.6 L491.3,411.3 L495.5,403.1 L499.7,395.1 L504.0,387.2 L508.2,379.5 L512.4,371.9 L516.6,364.4 L520.8,357.0 L525.0,349.8 L529.2,342.7 L533.4,335.8 L537.6,329.1 L541.8,322.6 L546.0,316.3 L550.2,310.2 L554.4,304.3 L558.7,298.7 L562.9,293.3 L567.1,288.2 L571.3,283.4 L575.5,278.8 L579.7,274.4 L583.9,270.4 L588.1,266.6 L592.3,263.1 L596.5,259.9 L600.7,256.9 L604.9,254.2 L609.1,251.8 L613.4,249.6 L617.6,247.7 L621.8,246.1 L626.0,244.7 L630.2,243.5 L634.4,242.6 L638.6,241.9 L642.8,241.5 L647.0,241.2 L651.2,241.3 L655.4,241.5 L659.6,241.9 L663.8,242.6 L668.1,243.4 L672.3,244.4 L676.5,245.6 L680.7,247.0 L684.9,248.6 L689.1,250.3 L693.3,252.2 L697.5,254.3 L701.7,256.5 L705.9,258.8 L710.1,261.3 L714.3,263.9 L718.5,266.7 L722.8,269.6 L727.0,272.7 L731.2,275.8 L735.4,279.1 L739.6,282.6 L743.8,286.1 L748.0,289.8 L752.2,293.5 L756.4,297.4 L760.6,301.4 L764.8,305.4 L769.0,309.6 L773.2,313.8 L777.5,318.2 L781.7,322.6 L785.9,327.1 L790.1,331.7 L794.3,336.3 L798.5,341.1 L802.7,345.9 L806.9,350.8 L811.1,355.7 L815.3,360.7 L819.5,365.8 L823.7,370.9 L827.9,376.1 L832.2,381.4 L836.4,386.7 L840.6,392.1 L844.8,397.5 L849.0,403.0 L853.2,408.5 L857.4,414.0 L861.6,419.6 L865.8,425.3 L870.0,430.9 L874.2,436.6 L878.4,442.4 L882.6,448.1 L886.9,453.9 L891.1,459.7 L895.3,465.5 L899.5,471.3 L903.7,477.2 L907.9,483.0 L912.1,488.8 L916.3,494.6 L920.5,500.4 L924.7,506.2 L928.9,512.0 L933.1,517.8 L937.3,523.5 L941.6,529.2 L945.8,534.9 L950.0,540.6 L954.2,546.2 L958.4,551.8 L962.6,557.3 L966.8,562.8 L971.0,568.3 L975.2,573.7 L979.4,579.1 L983.6,584.4 L987.8,589.7 L992.0,594.9 L996.3,600.0 L1000.5,605.1 L1004.7,610.2 L1008.9,615.1 L1013.1,620.1 L1017.3,624.9 L1021.5,629.7 L1025.7,634.5 L1029.9,639.2 L1034.1,643.9 L1038.3,648.5 L1042.5,653.1 L1046.7,657.6 L1051.0,662.1 L1055.2,666.5 L1059.4,670.9 L1063.6,675.3 L1067.8,679.6 L1072.0,683.8 L1076.2,688.1 L1080.4,692.2 L1084.6,696.4 L1088.8,700.4 L1093.0,704.5 L1097.2,708.4 L1101.4,712.3 L1105.7,716.2 L1109.9,720.0 L1114.1,723.8 L1118.3,727.5 L1122.5,731.1 L1126.7,734.7 L1130.9,738.2 L1135.1,741.7 L1139.3,745.2 L1143.5,748.6 L1147.7,751.9 L1151.9,755.3 L1156.1,758.6 L1160.4,761.8 L1164.6,765.1 L1168.8,768.3 L1173.0,771.5 L1177.2,774.7 L1181.4,777.8 L1185.6,781.0 L1189.8,784.1 L1194.0,787.2 L1198.2,790.3 L1202.4,793.3 L1206.6,796.3 L1210.8,799.3 L1215.1,802.2 L1219.3,805.1 L1223.5,808.0 L1227.7,810.8 L1231.9,813.6 L1236.1,816.3 L1240.3,818.9 L1244.5,821.4 L1248.7,823.9 L1252.9,826.2 L1257.1,828.4 L1261.3,830.5 L1265.5,832.4 L1269.8,834.1 L1274.0,835.8 L1278.2,837.3 L1282.4,838.8 L1286.6,840.2 L1290.8,841.5 L1295.0,842.9" fill="none" stroke="#B177DE" stroke-width="4.5" stroke-linejoin="round" stroke-linecap="round"/>
<path d="M201.0,907.4 L205.2,907.8 L209.4,907.9 L213.6,907.7 L217.8,906.8 L222.0,905.2 L226.2,903.0 L230.5,900.2 L234.7,896.8 L238.9,892.8 L243.1,888.3 L247.3,883.2 L251.5,877.4 L255.7,870.9 L259.9,863.8 L264.1,855.9 L268.3,847.3 L272.5,837.8 L276.7,827.6 L280.9,817.0 L285.2,806.0 L289.4,794.7 L293.6,783.4 L297.8,772.1 L302.0,761.0 L306.2,750.0 L310.4,739.3 L314.6,728.9 L318.8,718.8 L323.0,709.1 L327.2,699.8 L331.4,691.0 L335.6,682.7 L339.9,674.8 L344.1,667.4 L348.3,660.3 L352.5,653.6 L356.7,647.0 L360.9,640.7 L365.1,634.5 L369.3,628.4 L373.5,622.4 L377.7,616.4 L381.9,610.4 L386.1,604.3 L390.3,598.1 L394.6,591.9 L398.8,585.5 L403.0,579.0 L407.2,572.3 L411.4,565.4 L415.6,558.2 L419.8,550.9 L424.0,543.4 L428.2,535.6 L432.4,527.5 L436.6,519.2 L440.8,510.7 L445.0,502.0 L449.3,493.0 L453.5,483.8 L457.7,474.4 L461.9,464.9 L466.1,455.4 L470.3,445.8 L474.5,436.2 L478.7,426.8 L482.9,417.5 L487.1,408.4 L491.3,399.5 L495.5,390.8 L499.7,382.2 L504.0,373.8 L508.2,365.5 L512.4,357.3 L516.6,349.2 L520.8,341.2 L525.0,333.4 L529.2,325.8 L533.4,318.3 L537.6,311.0 L541.8,303.9 L546.0,297.0 L550.2,290.3 L554.4,283.9 L558.7,277.7 L562.9,271.8 L567.1,266.1 L571.3,260.7 L575.5,255.6 L579.7,250.8 L583.9,246.2 L588.1,242.0 L592.3,238.0 L596.5,234.3 L600.7,231.0 L604.9,227.9 L609.1,225.0 L613.4,222.5 L617.6,220.2 L621.8,218.2 L626.0,216.4 L630.2,215.0 L634.4,213.7 L638.6,212.8 L642.8,212.1 L647.0,211.6 L651.2,211.4 L655.4,211.4 L659.6,211.6 L663.8,212.1 L668.1,212.7 L672.3,213.6 L676.5,214.6 L680.7,215.9 L684.9,217.3 L689.1,219.0 L693.3,220.8 L697.5,222.7 L701.7,224.8 L705.9,227.1 L710.1,229.5 L714.3,232.1 L718.5,234.9 L722.8,237.7 L727.0,240.8 L731.2,243.9 L735.4,247.2 L739.6,250.7 L743.8,254.2 L748.0,257.9 L752.2,261.7 L756.4,265.7 L760.6,269.7 L764.8,273.8 L769.0,278.1 L773.2,282.4 L777.5,286.8 L781.7,291.4 L785.9,296.0 L790.1,300.7 L794.3,305.4 L798.5,310.3 L802.7,315.2 L806.9,320.3 L811.1,325.4 L815.3,330.5 L819.5,335.8 L823.7,341.1 L827.9,346.4 L832.2,351.9 L836.4,357.4 L840.6,363.0 L844.8,368.6 L849.0,374.2 L853.2,380.0 L857.4,385.7 L861.6,391.5 L865.8,397.4 L870.0,403.3 L874.2,409.2 L878.4,415.2 L882.6,421.2 L886.9,427.2 L891.1,433.3 L895.3,439.4 L899.5,445.5 L903.7,451.5 L907.9,457.6 L912.1,463.7 L916.3,469.8 L920.5,475.9 L924.7,482.0 L928.9,488.0 L933.1,494.1 L937.3,500.1 L941.6,506.1 L945.8,512.0 L950.0,518.0 L954.2,523.9 L958.4,529.7 L962.6,535.5 L966.8,541.3 L971.0,547.0 L975.2,552.7 L979.4,558.4 L983.6,563.9 L987.8,569.5 L992.0,574.9 L996.3,580.4 L1000.5,585.7 L1004.7,591.0 L1008.9,596.2 L1013.1,601.4 L1017.3,606.5 L1021.5,611.6 L1025.7,616.6 L1029.9,621.6 L1034.1,626.5 L1038.3,631.3 L1042.5,636.1 L1046.7,640.9 L1051.0,645.6 L1055.2,650.3 L1059.4,654.9 L1063.6,659.5 L1067.8,664.0 L1072.0,668.5 L1076.2,672.9 L1080.4,677.3 L1084.6,681.7 L1088.8,686.0 L1093.0,690.2 L1097.2,694.4 L1101.4,698.6 L1105.7,702.6 L1109.9,706.7 L1114.1,710.6 L1118.3,714.5 L1122.5,718.4 L1126.7,722.1 L1130.9,725.9 L1135.1,729.6 L1139.3,733.2 L1143.5,736.8 L1147.7,740.3 L1151.9,743.9 L1156.1,747.3 L1160.4,750.8 L1164.6,754.2 L1168.8,757.6 L1173.0,761.0 L1177.2,764.3 L1181.4,767.6 L1185.6,771.0 L1189.8,774.3 L1194.0,777.5 L1198.2,780.8 L1202.4,784.0 L1206.6,787.2 L1210.8,790.3 L1215.1,793.5 L1219.3,796.5 L1223.5,799.6 L1227.7,802.5 L1231.9,805.4 L1236.1,808.3 L1240.3,811.1 L1244.5,813.8 L1248.7,816.4 L1252.9,818.8 L1257.1,821.2 L1261.3,823.4 L1265.5,825.4 L1269.8,827.3 L1274.0,829.0 L1278.2,830.7 L1282.4,832.2 L1286.6,833.7 L1290.8,835.2 L1295.0,836.6" fill="none" stroke="#CC9900" stroke-width="4.5" stroke-linejoin="round" stroke-linecap="round"/>
<path d="M201.0,908.0 L205.2,908.5 L209.4,908.7 L213.6,908.4 L217.8,907.5 L222.0,905.9 L226.2,903.7 L230.5,900.9 L234.7,897.5 L238.9,893.5 L243.1,888.9 L247.3,883.8 L251.5,878.0 L255.7,871.5 L259.9,864.4 L264.1,856.5 L268.3,847.8 L272.5,838.3 L276.7,828.1 L280.9,817.4 L285.2,806.4 L289.4,795.2 L293.6,783.8 L297.8,772.6 L302.0,761.4 L306.2,750.5 L310.4,739.7 L314.6,729.3 L318.8,719.1 L323.0,709.3 L327.2,700.0 L331.4,691.1 L335.6,682.8 L339.9,674.8 L344.1,667.3 L348.3,660.2 L352.5,653.4 L356.7,646.8 L360.9,640.4 L365.1,634.1 L369.3,627.9 L373.5,621.7 L377.7,615.6 L381.9,609.4 L386.1,603.2 L390.3,596.9 L394.6,590.5 L398.8,583.9 L403.0,577.2 L407.2,570.3 L411.4,563.2 L415.6,555.8 L419.8,548.3 L424.0,540.5 L428.2,532.4 L432.4,524.1 L436.6,515.6 L440.8,506.7 L445.0,497.7 L449.3,488.4 L453.5,478.9 L457.7,469.1 L461.9,459.3 L466.1,449.3 L470.3,439.4 L474.5,429.4 L478.7,419.6 L482.9,409.9 L487.1,400.4 L491.3,391.1 L495.5,382.0 L499.7,373.0 L504.0,364.1 L508.2,355.4 L512.4,346.8 L516.6,338.3 L520.8,329.9 L525.0,321.7 L529.2,313.6 L533.4,305.7 L537.6,298.0 L541.8,290.5 L546.0,283.2 L550.2,276.1 L554.4,269.3 L558.7,262.7 L562.9,256.4 L567.1,250.4 L571.3,244.6 L575.5,239.2 L579.7,234.0 L583.9,229.1 L588.1,224.5 L592.3,220.3 L596.5,216.3 L600.7,212.6 L604.9,209.2 L609.1,206.1 L613.4,203.3 L617.6,200.8 L621.8,198.5 L626.0,196.5 L630.2,194.8 L634.4,193.4 L638.6,192.3 L642.8,191.4 L647.0,190.7 L651.2,190.3 L655.4,190.2 L659.6,190.3 L663.8,190.6 L668.1,191.1 L672.3,191.9 L676.5,192.9 L680.7,194.0 L684.9,195.4 L689.1,196.9 L693.3,198.7 L697.5,200.6 L701.7,202.6 L705.9,204.9 L710.1,207.3 L714.3,209.8 L718.5,212.5 L722.8,215.4 L727.0,218.4 L731.2,221.6 L735.4,224.9 L739.6,228.3 L743.8,231.9 L748.0,235.6 L752.2,239.5 L756.4,243.4 L760.6,247.5 L764.8,251.7 L769.0,256.0 L773.2,260.4 L777.5,264.9 L781.7,269.5 L785.9,274.2 L790.1,278.9 L794.3,283.8 L798.5,288.8 L802.7,293.8 L806.9,298.9 L811.1,304.1 L815.3,309.4 L819.5,314.8 L823.7,320.2 L827.9,325.7 L832.2,331.3 L836.4,336.9 L840.6,342.6 L844.8,348.4 L849.0,354.2 L853.2,360.0 L857.4,366.0 L861.6,371.9 L865.8,378.0 L870.0,384.0 L874.2,390.1 L878.4,396.3 L882.6,402.5 L886.9,408.7 L891.1,414.9 L895.3,421.1 L899.5,427.4 L903.7,433.7 L907.9,440.0 L912.1,446.2 L916.3,452.5 L920.5,458.8 L924.7,465.1 L928.9,471.3 L933.1,477.5 L937.3,483.8 L941.6,489.9 L945.8,496.1 L950.0,502.2 L954.2,508.3 L958.4,514.3 L962.6,520.4 L966.8,526.3 L971.0,532.2 L975.2,538.1 L979.4,543.9 L983.6,549.7 L987.8,555.4 L992.0,561.1 L996.3,566.7 L1000.5,572.2 L1004.7,577.7 L1008.9,583.1 L1013.1,588.4 L1017.3,593.7 L1021.5,599.0 L1025.7,604.1 L1029.9,609.3 L1034.1,614.3 L1038.3,619.4 L1042.5,624.3 L1046.7,629.3 L1051.0,634.1 L1055.2,639.0 L1059.4,643.7 L1063.6,648.5 L1067.8,653.2 L1072.0,657.8 L1076.2,662.4 L1080.4,667.0 L1084.6,671.5 L1088.8,675.9 L1093.0,680.3 L1097.2,684.7 L1101.4,689.0 L1105.7,693.2 L1109.9,697.4 L1114.1,701.5 L1118.3,705.5 L1122.5,709.5 L1126.7,713.4 L1130.9,717.3 L1135.1,721.1 L1139.3,724.9 L1143.5,728.6 L1147.7,732.3 L1151.9,735.9 L1156.1,739.5 L1160.4,743.1 L1164.6,746.6 L1168.8,750.2 L1173.0,753.7 L1177.2,757.1 L1181.4,760.6 L1185.6,764.0 L1189.8,767.4 L1194.0,770.8 L1198.2,774.2 L1202.4,777.5 L1206.6,780.9 L1210.8,784.1 L1215.1,787.4 L1219.3,790.6 L1223.5,793.7 L1227.7,796.8 L1231.9,799.8 L1236.1,802.8 L1240.3,805.7 L1244.5,808.5 L1248.7,811.2 L1252.9,813.7 L1257.1,816.2 L1261.3,818.5 L1265.5,820.6 L1269.8,822.5 L1274.0,824.4 L1278.2,826.1 L1282.4,827.7 L1286.6,829.2 L1290.8,830.7 L1295.0,832.2" fill="none" stroke="#00CBCC" stroke-width="4.5" stroke-linejoin="round" stroke-linecap="round"/>
<path d="M201.0,909.1 L205.2,909.5 L209.4,909.7 L213.6,909.4 L217.8,908.5 L222.0,906.9 L226.2,904.7 L230.5,901.9 L234.7,898.5 L238.9,894.5 L243.1,889.9 L247.3,884.7 L251.5,878.9 L255.7,872.4 L259.9,865.2 L264.1,857.3 L268.3,848.6 L272.5,839.0 L276.7,828.9 L280.9,818.1 L285.2,807.1 L289.4,795.8 L293.6,784.5 L297.8,773.2 L302.0,762.1 L306.2,751.1 L310.4,740.3 L314.6,729.8 L318.8,719.5 L323.0,709.6 L327.2,700.2 L331.4,691.3 L335.6,682.8 L339.9,674.8 L344.1,667.2 L348.3,660.0 L352.5,653.1 L356.7,646.4 L360.9,639.9 L365.1,633.5 L369.3,627.1 L373.5,620.8 L377.7,614.4 L381.9,608.1 L386.1,601.6 L390.3,595.0 L394.6,588.4 L398.8,581.5 L403.0,574.5 L407.2,567.3 L411.4,559.9 L415.6,552.2 L419.8,544.3 L424.0,536.2 L428.2,527.7 L432.4,519.0 L436.6,510.0 L440.8,500.7 L445.0,491.2 L449.3,481.4 L453.5,471.3 L457.7,461.1 L461.9,450.7 L466.1,440.1 L470.3,429.6 L474.5,419.0 L478.7,408.6 L482.9,398.3 L487.1,388.2 L491.3,378.3 L495.5,368.5 L499.7,358.9 L504.0,349.5 L508.2,340.1 L512.4,330.9 L516.6,321.8 L520.8,312.9 L525.0,304.0 L529.2,295.3 L533.4,286.8 L537.6,278.5 L541.8,270.4 L546.0,262.5 L550.2,254.8 L554.4,247.4 L558.7,240.3 L562.9,233.4 L567.1,226.8 L571.3,220.5 L575.5,214.6 L579.7,208.9 L583.9,203.5 L588.1,198.5 L592.3,193.7 L596.5,189.3 L600.7,185.2 L604.9,181.4 L609.1,177.9 L613.4,174.7 L617.6,171.8 L621.8,169.3 L626.0,167.0 L630.2,165.0 L634.4,163.2 L638.6,161.8 L642.8,160.7 L647.0,159.8 L651.2,159.2 L655.4,158.8 L659.6,158.7 L663.8,158.8 L668.1,159.2 L672.3,159.8 L676.5,160.6 L680.7,161.7 L684.9,162.9 L689.1,164.4 L693.3,166.0 L697.5,167.8 L701.7,169.8 L705.9,172.0 L710.1,174.4 L714.3,176.9 L718.5,179.6 L722.8,182.4 L727.0,185.4 L731.2,188.6 L735.4,191.9 L739.6,195.4 L743.8,199.0 L748.0,202.8 L752.2,206.7 L756.4,210.7 L760.6,214.8 L764.8,219.1 L769.0,223.5 L773.2,228.0 L777.5,232.6 L781.7,237.3 L785.9,242.1 L790.1,247.0 L794.3,252.0 L798.5,257.1 L802.7,262.3 L806.9,267.6 L811.1,272.9 L815.3,278.4 L819.5,283.9 L823.7,289.5 L827.9,295.2 L832.2,301.0 L836.4,306.8 L840.6,312.7 L844.8,318.7 L849.0,324.7 L853.2,330.8 L857.4,337.0 L861.6,343.2 L865.8,349.4 L870.0,355.8 L874.2,362.1 L878.4,368.5 L882.6,374.9 L886.9,381.4 L891.1,387.9 L895.3,394.4 L899.5,401.0 L903.7,407.5 L907.9,414.1 L912.1,420.6 L916.3,427.2 L920.5,433.7 L924.7,440.3 L928.9,446.8 L933.1,453.3 L937.3,459.8 L941.6,466.3 L945.8,472.7 L950.0,479.1 L954.2,485.5 L958.4,491.8 L962.6,498.1 L966.8,504.4 L971.0,510.6 L975.2,516.7 L979.4,522.8 L983.6,528.9 L987.8,534.9 L992.0,540.8 L996.3,546.6 L1000.5,552.4 L1004.7,558.2 L1008.9,563.8 L1013.1,569.4 L1017.3,575.0 L1021.5,580.5 L1025.7,585.9 L1029.9,591.3 L1034.1,596.6 L1038.3,601.9 L1042.5,607.1 L1046.7,612.3 L1051.0,617.4 L1055.2,622.4 L1059.4,627.5 L1063.6,632.4 L1067.8,637.4 L1072.0,642.2 L1076.2,647.1 L1080.4,651.9 L1084.6,656.6 L1088.8,661.3 L1093.0,665.9 L1097.2,670.4 L1101.4,674.9 L1105.7,679.4 L1109.9,683.8 L1114.1,688.1 L1118.3,692.3 L1122.5,696.5 L1126.7,700.7 L1130.9,704.7 L1135.1,708.7 L1139.3,712.7 L1143.5,716.6 L1147.7,720.5 L1151.9,724.3 L1156.1,728.1 L1160.4,731.9 L1164.6,735.6 L1168.8,739.3 L1173.0,743.0 L1177.2,746.7 L1181.4,750.3 L1185.6,753.9 L1189.8,757.5 L1194.0,761.1 L1198.2,764.6 L1202.4,768.1 L1206.6,771.6 L1210.8,775.1 L1215.1,778.5 L1219.3,781.8 L1223.5,785.2 L1227.7,788.4 L1231.9,791.6 L1236.1,794.7 L1240.3,797.8 L1244.5,800.7 L1248.7,803.6 L1252.9,806.3 L1257.1,808.9 L1261.3,811.3 L1265.5,813.5 L1269.8,815.6 L1274.0,817.5 L1278.2,819.3 L1282.4,821.0 L1286.6,822.6 L1290.8,824.2 L1295.0,825.8" fill="none" stroke="#7D4E4E" stroke-width="4.5" stroke-linejoin="round" stroke-linecap="round"/>
<path d="M201.0,909.6 L205.2,910.0 L209.4,910.2 L213.6,910.0 L217.8,909.0 L222.0,907.5 L226.2,905.2 L230.5,902.4 L234.7,899.0 L238.9,895.0 L243.1,890.4 L247.3,885.2 L251.5,879.3 L255.7,872.8 L259.9,865.6 L264.1,857.7 L268.3,849.0 L272.5,839.4 L276.7,829.2 L280.9,818.5 L285.2,807.4 L289.4,796.2 L293.6,784.8 L297.8,773.6 L302.0,762.4 L306.2,751.5 L310.4,740.7 L314.6,730.1 L318.8,719.8 L323.0,709.8 L327.2,700.3 L331.4,691.3 L335.6,682.8 L339.9,674.8 L344.1,667.2 L348.3,659.9 L352.5,653.0 L356.7,646.2 L360.9,639.7 L365.1,633.2 L369.3,626.7 L373.5,620.3 L377.7,613.8 L381.9,607.3 L386.1,600.8 L390.3,594.1 L394.6,587.3 L398.8,580.3 L403.0,573.2 L407.2,565.8 L411.4,558.2 L415.6,550.4 L419.8,542.3 L424.0,533.9 L428.2,525.3 L432.4,516.3 L436.6,507.1 L440.8,497.6 L445.0,487.8 L449.3,477.7 L453.5,467.4 L457.7,456.9 L461.9,446.2 L466.1,435.3 L470.3,424.4 L474.5,413.6 L478.7,402.8 L482.9,392.2 L487.1,381.8 L491.3,371.6 L495.5,361.5 L499.7,351.6 L504.0,341.9 L508.2,332.2 L512.4,322.7 L516.6,313.3 L520.8,304.0 L525.0,294.9 L529.2,285.9 L533.4,277.0 L537.6,268.4 L541.8,260.0 L546.0,251.8 L550.2,243.9 L554.4,236.2 L558.7,228.7 L562.9,221.6 L567.1,214.7 L571.3,208.2 L575.5,201.9 L579.7,196.0 L583.9,190.4 L588.1,185.1 L592.3,180.2 L596.5,175.5 L600.7,171.2 L604.9,167.2 L609.1,163.5 L613.4,160.2 L617.6,157.1 L621.8,154.4 L626.0,151.9 L630.2,149.8 L634.4,147.9 L638.6,146.3 L642.8,145.1 L647.0,144.1 L651.2,143.3 L655.4,142.9 L659.6,142.7 L663.8,142.7 L668.1,143.0 L672.3,143.6 L676.5,144.3 L680.7,145.3 L684.9,146.5 L689.1,147.9 L693.3,149.5 L697.5,151.3 L701.7,153.2 L705.9,155.4 L710.1,157.7 L714.3,160.2 L718.5,162.9 L722.8,165.7 L727.0,168.8 L731.2,171.9 L735.4,175.3 L739.6,178.8 L743.8,182.4 L748.0,186.2 L752.2,190.1 L756.4,194.2 L760.6,198.4 L764.8,202.7 L769.0,207.1 L773.2,211.6 L777.5,216.3 L781.7,221.1 L785.9,225.9 L790.1,230.9 L794.3,236.0 L798.5,241.2 L802.7,246.4 L806.9,251.8 L811.1,257.2 L815.3,262.8 L819.5,268.4 L823.7,274.1 L827.9,279.9 L832.2,285.7 L836.4,291.7 L840.6,297.7 L844.8,303.8 L849.0,309.9 L853.2,316.1 L857.4,322.4 L861.6,328.7 L865.8,335.1 L870.0,341.6 L874.2,348.0 L878.4,354.6 L882.6,361.1 L886.9,367.7 L891.1,374.4 L895.3,381.0 L899.5,387.7 L903.7,394.4 L907.9,401.1 L912.1,407.8 L916.3,414.5 L920.5,421.2 L924.7,427.9 L928.9,434.6 L933.1,441.2 L937.3,447.9 L941.6,454.5 L945.8,461.1 L950.0,467.6 L954.2,474.1 L958.4,480.6 L962.6,487.0 L966.8,493.4 L971.0,499.7 L975.2,506.0 L979.4,512.3 L983.6,518.4 L987.8,524.6 L992.0,530.6 L996.3,536.6 L1000.5,542.5 L1004.7,548.4 L1008.9,554.2 L1013.1,559.9 L1017.3,565.6 L1021.5,571.2 L1025.7,576.8 L1029.9,582.3 L1034.1,587.7 L1038.3,593.1 L1042.5,598.5 L1046.7,603.8 L1051.0,609.0 L1055.2,614.2 L1059.4,619.3 L1063.6,624.4 L1067.8,629.5 L1072.0,634.5 L1076.2,639.4 L1080.4,644.3 L1084.6,649.1 L1088.8,653.9 L1093.0,658.7 L1097.2,663.3 L1101.4,667.9 L1105.7,672.5 L1109.9,677.0 L1114.1,681.4 L1118.3,685.8 L1122.5,690.1 L1126.7,694.3 L1130.9,698.5 L1135.1,702.6 L1139.3,706.6 L1143.5,710.7 L1147.7,714.6 L1151.9,718.5 L1156.1,722.4 L1160.4,726.3 L1164.6,730.1 L1168.8,733.9 L1173.0,737.7 L1177.2,741.4 L1181.4,745.2 L1185.6,748.9 L1189.8,752.5 L1194.0,756.2 L1198.2,759.9 L1202.4,763.5 L1206.6,767.0 L1210.8,770.6 L1215.1,774.1 L1219.3,777.5 L1223.5,780.9 L1227.7,784.2 L1231.9,787.5 L1236.1,790.7 L1240.3,793.8 L1244.5,796.9 L1248.7,799.8 L1252.9,802.6 L1257.1,805.2 L1261.3,807.7 L1265.5,810.0 L1269.8,812.1 L1274.0,814.1 L1278.2,815.9 L1282.4,817.7 L1286.6,819.3 L1290.8,820.9 L1295.0,822.5" fill="none" stroke="#8E8E00" stroke-width="4.5" stroke-linejoin="round" stroke-linecap="round"/>
</g>
<line x1="243.1" y1="958" x2="243.1" y2="940" stroke="#000" stroke-width="5.5"/>
<line x1="453.5" y1="958" x2="453.5" y2="940" stroke="#000" stroke-width="5.5"/>
<line x1="663.8" y1="958" x2="663.8" y2="940" stroke="#000" stroke-width="5.5"/>
<line x1="874.2" y1="958" x2="874.2" y2="940" stroke="#000" stroke-width="5.5"/>
<line x1="1084.6" y1="958" x2="1084.6" y2="940" stroke="#000" stroke-width="5.5"/>
<line x1="1295.0" y1="958" x2="1295.0" y2="940" stroke="#000" stroke-width="5.5"/>
<line x1="348.3" y1="958" x2="348.3" y2="949" stroke="#000" stroke-width="5.5"/>
<line x1="558.7" y1="958" x2="558.7" y2="949" stroke="#000" stroke-width="5.5"/>
<line x1="769.0" y1="958" x2="769.0" y2="949" stroke="#000" stroke-width="5.5"/>
<line x1="979.4" y1="958" x2="979.4" y2="949" stroke="#000" stroke-width="5.5"/>
<line x1="1189.8" y1="958" x2="1189.8" y2="949" stroke="#000" stroke-width="5.5"/>
<line x1="201" y1="958.0" x2="219" y2="958.0" stroke="#000" stroke-width="5.5"/>
<line x1="201" y1="822.2" x2="219" y2="822.2" stroke="#000" stroke-width="5.5"/>
<line x1="201" y1="686.5" x2="219" y2="686.5" stroke="#000" stroke-width="5.5"/>
<line x1="201" y1="550.8" x2="219" y2="550.8" stroke="#000" stroke-width="5.5"/>
<line x1="201" y1="415.0" x2="219" y2="415.0" stroke="#000" stroke-width="5.5"/>
<line x1="201" y1="279.2" x2="219" y2="279.2" stroke="#000" stroke-width="5.5"/>
<line x1="201" y1="143.5" x2="219" y2="143.5" stroke="#000" stroke-width="5.5"/>
<line x1="201" y1="890.1" x2="210" y2="890.1" stroke="#000" stroke-width="5.5"/>
<line x1="201" y1="754.4" x2="210" y2="754.4" stroke="#000" stroke-width="5.5"/>
<line x1="201" y1="618.6" x2="210" y2="618.6" stroke="#000" stroke-width="5.5"/>
<line x1="201" y1="482.9" x2="210" y2="482.9" stroke="#000" stroke-width="5.5"/>
<line x1="201" y1="347.1" x2="210" y2="347.1" stroke="#000" stroke-width="5.5"/>
<line x1="201" y1="211.4" x2="210" y2="211.4" stroke="#000" stroke-width="5.5"/>
<line x1="201" y1="75.6" x2="210" y2="75.6" stroke="#000" stroke-width="5.5"/>
<rect x="201" y="76" width="1094" height="882" fill="none" stroke="#000" stroke-width="6"/>
<text transform="translate(161.76,968.08) scale(1.0650,1)" font-family="Liberation Sans" font-weight="normal" font-size="34.5" fill="#1a1a1a">0</text>
<text transform="translate(120.89,832.33) scale(1.0650,1)" font-family="Liberation Sans" font-weight="normal" font-size="34.5" fill="#1a1a1a">500</text>
<text transform="translate(100.39,696.58) scale(1.0650,1)" font-family="Liberation Sans" font-weight="normal" font-size="34.5" fill="#1a1a1a">1000</text>
<text transform="translate(100.39,560.83) scale(1.0650,1)" font-family="Liberation Sans" font-weight="normal" font-size="34.5" fill="#1a1a1a">1500</text>
<text transform="translate(100.39,425.07) scale(1.0650,1)" font-family="Liberation Sans" font-weight="normal" font-size="34.5" fill="#1a1a1a">2000</text>
<text transform="translate(100.39,289.32) scale(1.0650,1)" font-family="Liberation Sans" font-weight="normal" font-size="34.5" fill="#1a1a1a">2500</text>
<text transform="translate(100.39,153.57) scale(1.0650,1)" font-family="Liberation Sans" font-weight="normal" font-size="34.5" fill="#1a1a1a">3000</text>
<text transform="translate(213.19,1004.73) scale(1.0650,1)" font-family="Liberation Sans" font-weight="normal" font-size="34.5" fill="#1a1a1a">300</text>
<text transform="translate(423.58,1004.73) scale(1.0650,1)" font-family="Liberation Sans" font-weight="normal" font-size="34.5" fill="#1a1a1a">350</text>
<text transform="translate(634.29,1004.73) scale(1.0650,1)" font-family="Liberation Sans" font-weight="normal" font-size="34.5" fill="#1a1a1a">400</text>
<text transform="translate(844.68,1004.73) scale(1.0650,1)" font-family="Liberation Sans" font-weight="normal" font-size="34.5" fill="#1a1a1a">450</text>
<text transform="translate(1054.73,1004.73) scale(1.0650,1)" font-family="Liberation Sans" font-weight="normal" font-size="34.5" fill="#1a1a1a">500</text>
<text transform="translate(1265.11,1004.73) scale(1.0650,1)" font-family="Liberation Sans" font-weight="normal" font-size="34.5" fill="#1a1a1a">550</text>
<text transform="translate(575.55,1077.00) scale(0.9968,1)" font-family="Liberation Sans" font-weight="normal" font-size="46" fill="#1a1a1a">Wavelength (nm)</text>
<text transform="translate(75.74,775.54) rotate(-90) scale(0.9961,1)" font-family="Liberation Sans" font-size="46" fill="#1a1a1a">Fluorescence intensity (a.u.)</text>
<text transform="translate(81.83,61.60) scale(1.0565,1)" font-family="Liberation Sans" font-weight="normal" font-size="48" fill="#1a1a1a">(a)</text>
<line x1="666.5" y1="112" x2="666.5" y2="186" stroke="#000" stroke-width="4"/>
<text transform="translate(682.85,118.50) scale(1.0329,1)" font-family="Liberation Sans" font-weight="normal" font-size="28" fill="#1a1a1a">404.2nm</text>
<line x1="440.5" y1="563" x2="440.5" y2="657" stroke="#000" stroke-width="4"/>
<text transform="translate(394.34,690.00) scale(1.0283,1)" font-family="Liberation Sans" font-weight="normal" font-size="28" fill="#1a1a1a">348.6nm</text>
<text transform="translate(1002.99,236.90) scale(1.0714,1)" font-family="Liberation Sans" font-weight="normal" font-size="34" fill="#1a1a1a">100eq L-Lys</text>
<line x1="1109.5" y1="276" x2="1109.5" y2="414" stroke="#333" stroke-width="1.6"/>
<path d="M1109.5,256 L1104.5,279 L1114.5,279 Z" fill="#000"/>
<text transform="translate(1099.19,453.35) scale(1.0954,1)" font-family="Liberation Sans" font-weight="normal" font-size="34" fill="#1a1a1a">0</text>
<text transform="translate(674.07,1259.58) scale(0.8626,1)" font-family="Liberation Serif" font-weight="normal" font-size="87" fill="#000">(</text>
<text transform="translate(700.54,1258.88) scale(0.9316,1)" font-family="Liberation Serif" font-weight="bold" font-size="87" fill="#000">a</text>
<text transform="translate(742.69,1259.58) scale(0.8760,1)" font-family="Liberation Serif" font-weight="normal" font-size="87" fill="#000">)</text>
<g clip-path="url(#clipB)">
<path d="M202.0,2261.7 L206.2,2261.2 L210.4,2260.5 L214.6,2259.8 L218.8,2258.8 L223.0,2257.6 L227.2,2256.0 L231.5,2253.9 L235.7,2251.4 L239.9,2248.4 L244.1,2244.6 L248.3,2240.1 L252.5,2234.6 L256.7,2228.1 L260.9,2220.4 L265.1,2211.8 L269.3,2202.4 L273.5,2192.4 L277.7,2181.8 L281.9,2170.8 L286.2,2159.5 L290.4,2147.9 L294.6,2136.2 L298.8,2124.5 L303.0,2113.0 L307.2,2102.0 L311.4,2091.7 L315.6,2082.3 L319.8,2073.8 L324.0,2066.1 L328.2,2059.0 L332.4,2052.4 L336.6,2046.4 L340.9,2040.7 L345.1,2035.3 L349.3,2030.1 L353.5,2025.3 L357.7,2020.7 L361.9,2016.3 L366.1,2012.2 L370.3,2008.3 L374.5,2004.6 L378.7,2001.1 L382.9,1997.8 L387.1,1994.7 L391.3,1991.8 L395.6,1989.2 L399.8,1986.8 L404.0,1984.6 L408.2,1982.7 L412.4,1981.0 L416.6,1979.5 L420.8,1978.3 L425.0,1977.3 L429.2,1976.5 L433.4,1975.8 L437.6,1975.3 L441.8,1975.0 L446.0,1974.8 L450.3,1974.7 L454.5,1974.8 L458.7,1975.0 L462.9,1975.3 L467.1,1975.8 L471.3,1976.4 L475.5,1977.1 L479.7,1978.0 L483.9,1979.0 L488.1,1980.2 L492.3,1981.5 L496.5,1982.9 L500.7,1984.5 L505.0,1986.2 L509.2,1988.0 L513.4,1989.9 L517.6,1992.0 L521.8,1994.1 L526.0,1996.4 L530.2,1998.7 L534.4,2001.1 L538.6,2003.6 L542.8,2006.2 L547.0,2008.8 L551.2,2011.5 L555.4,2014.3 L559.7,2017.0 L563.9,2019.8 L568.1,2022.7 L572.3,2025.5 L576.5,2028.4 L580.7,2031.3 L584.9,2034.3 L589.1,2037.2 L593.3,2040.2 L597.5,2043.1 L601.7,2046.1 L605.9,2049.1 L610.1,2052.0 L614.4,2055.0 L618.6,2058.0 L622.8,2061.0 L627.0,2064.0 L631.2,2067.0 L635.4,2069.9 L639.6,2072.9 L643.8,2075.9 L648.0,2078.9 L652.2,2081.8 L656.4,2084.8 L660.6,2087.7 L664.8,2090.6 L669.1,2093.5 L673.3,2096.4 L677.5,2099.3 L681.7,2102.2 L685.9,2105.0 L690.1,2107.8 L694.3,2110.6 L698.5,2113.3 L702.7,2116.1 L706.9,2118.8 L711.1,2121.5 L715.3,2124.2 L719.5,2126.9 L723.8,2129.6 L728.0,2132.2 L732.2,2134.9 L736.4,2137.5 L740.6,2140.2 L744.8,2142.8 L749.0,2145.4 L753.2,2148.1 L757.4,2150.7 L761.6,2153.3 L765.8,2156.0 L770.0,2158.6 L774.2,2161.2 L778.5,2163.8 L782.7,2166.5 L786.9,2169.1 L791.1,2171.7 L795.3,2174.3 L799.5,2176.9 L803.7,2179.4 L807.9,2182.0 L812.1,2184.5 L816.3,2187.0 L820.5,2189.5 L824.7,2191.9 L828.9,2194.3 L833.2,2196.7 L837.4,2199.1 L841.6,2201.4 L845.8,2203.7 L850.0,2205.9 L854.2,2208.2 L858.4,2210.3 L862.6,2212.5 L866.8,2214.6 L871.0,2216.6 L875.2,2218.7 L879.4,2220.6 L883.6,2222.6 L887.9,2224.4 L892.1,2226.3 L896.3,2228.1 L900.5,2229.8 L904.7,2231.5 L908.9,2233.2 L913.1,2234.8 L917.3,2236.4 L921.5,2237.9 L925.7,2239.4 L929.9,2240.8 L934.1,2242.2 L938.3,2243.6 L942.6,2244.9 L946.8,2246.2 L951.0,2247.4 L955.2,2248.6 L959.4,2249.8 L963.6,2250.9 L967.8,2252.0 L972.0,2253.0 L976.2,2254.0 L980.4,2255.0 L984.6,2256.0 L988.8,2256.9 L993.0,2257.8 L997.3,2258.7 L1001.5,2259.5 L1005.7,2260.3 L1009.9,2261.1 L1014.1,2261.9 L1018.3,2262.7 L1022.5,2263.4 L1026.7,2264.2 L1030.9,2264.9 L1035.1,2265.6 L1039.3,2266.3 L1043.5,2267.0 L1047.7,2267.6 L1052.0,2268.3 L1056.2,2268.9 L1060.4,2269.6 L1064.6,2270.2 L1068.8,2270.8 L1073.0,2271.4 L1077.2,2272.0 L1081.4,2272.6 L1085.6,2273.2 L1089.8,2273.8 L1094.0,2274.4 L1098.2,2275.0 L1102.4,2275.5 L1106.7,2276.1 L1110.9,2276.6 L1115.1,2277.2 L1119.3,2277.7 L1123.5,2278.3 L1127.7,2278.8 L1131.9,2279.3 L1136.1,2279.8 L1140.3,2280.3 L1144.5,2280.8 L1148.7,2281.3 L1152.9,2281.7 L1157.1,2282.2 L1161.4,2282.6 L1165.6,2283.1 L1169.8,2283.5 L1174.0,2283.9 L1178.2,2284.3 L1182.4,2284.7 L1186.6,2285.1 L1190.8,2285.5 L1195.0,2285.9 L1199.2,2286.2 L1203.4,2286.6 L1207.6,2286.9 L1211.8,2287.2 L1216.1,2287.6 L1220.3,2287.9 L1224.5,2288.2 L1228.7,2288.5 L1232.9,2288.8 L1237.1,2289.1 L1241.3,2289.4 L1245.5,2289.7 L1249.7,2290.0 L1253.9,2290.2 L1258.1,2290.5 L1262.3,2290.8 L1266.5,2291.0 L1270.8,2291.3 L1275.0,2291.6 L1279.2,2291.8 L1283.4,2292.1 L1287.6,2292.3 L1291.8,2292.6 L1296.0,2292.8" fill="none" stroke="#515151" stroke-width="4.5" stroke-linejoin="round" stroke-linecap="round"/>
<path d="M202.0,2260.8 L206.2,2260.3 L210.4,2259.7 L214.6,2258.9 L218.8,2257.9 L223.0,2256.7 L227.2,2255.1 L231.5,2253.0 L235.7,2250.5 L239.9,2247.4 L244.1,2243.6 L248.3,2239.0 L252.5,2233.5 L256.7,2226.9 L260.9,2219.2 L265.1,2210.6 L269.3,2201.1 L273.5,2191.0 L277.7,2180.3 L281.9,2169.2 L286.2,2157.7 L290.4,2146.0 L294.6,2134.2 L298.8,2122.4 L303.0,2110.9 L307.2,2099.9 L311.4,2089.6 L315.6,2080.1 L319.8,2071.6 L324.0,2063.7 L328.2,2056.5 L332.4,2049.9 L336.6,2043.7 L340.9,2037.8 L345.1,2032.2 L349.3,2026.9 L353.5,2021.9 L357.7,2017.1 L361.9,2012.5 L366.1,2008.2 L370.3,2004.1 L374.5,2000.2 L378.7,1996.5 L382.9,1993.1 L387.1,1989.8 L391.3,1986.7 L395.6,1983.9 L399.8,1981.3 L404.0,1978.9 L408.2,1976.8 L412.4,1974.9 L416.6,1973.3 L420.8,1971.9 L425.0,1970.7 L429.2,1969.7 L433.4,1968.9 L437.6,1968.2 L441.8,1967.7 L446.0,1967.4 L450.3,1967.2 L454.5,1967.2 L458.7,1967.2 L462.9,1967.5 L467.1,1967.9 L471.3,1968.4 L475.5,1969.1 L479.7,1969.9 L483.9,1970.8 L488.1,1972.0 L492.3,1973.2 L496.5,1974.6 L500.7,1976.1 L505.0,1977.8 L509.2,1979.6 L513.4,1981.5 L517.6,1983.6 L521.8,1985.7 L526.0,1988.0 L530.2,1990.3 L534.4,1992.8 L538.6,1995.3 L542.8,1997.9 L547.0,2000.5 L551.2,2003.3 L555.4,2006.0 L559.7,2008.9 L563.9,2011.7 L568.1,2014.6 L572.3,2017.6 L576.5,2020.5 L580.7,2023.5 L584.9,2026.5 L589.1,2029.5 L593.3,2032.6 L597.5,2035.6 L601.7,2038.7 L605.9,2041.7 L610.1,2044.8 L614.4,2047.9 L618.6,2051.0 L622.8,2054.0 L627.0,2057.1 L631.2,2060.2 L635.4,2063.3 L639.6,2066.4 L643.8,2069.5 L648.0,2072.5 L652.2,2075.6 L656.4,2078.7 L660.6,2081.7 L664.8,2084.7 L669.1,2087.8 L673.3,2090.8 L677.5,2093.7 L681.7,2096.7 L685.9,2099.6 L690.1,2102.5 L694.3,2105.4 L698.5,2108.3 L702.7,2111.1 L706.9,2114.0 L711.1,2116.8 L715.3,2119.6 L719.5,2122.3 L723.8,2125.1 L728.0,2127.9 L732.2,2130.6 L736.4,2133.3 L740.6,2136.0 L744.8,2138.8 L749.0,2141.5 L753.2,2144.2 L757.4,2146.9 L761.6,2149.6 L765.8,2152.3 L770.0,2154.9 L774.2,2157.6 L778.5,2160.3 L782.7,2163.0 L786.9,2165.6 L791.1,2168.3 L795.3,2170.9 L799.5,2173.5 L803.7,2176.1 L807.9,2178.7 L812.1,2181.2 L816.3,2183.8 L820.5,2186.3 L824.7,2188.7 L828.9,2191.2 L833.2,2193.6 L837.4,2196.0 L841.6,2198.3 L845.8,2200.6 L850.0,2202.9 L854.2,2205.1 L858.4,2207.3 L862.6,2209.5 L866.8,2211.6 L871.0,2213.7 L875.2,2215.7 L879.4,2217.7 L883.6,2219.7 L887.9,2221.6 L892.1,2223.5 L896.3,2225.3 L900.5,2227.1 L904.7,2228.8 L908.9,2230.5 L913.1,2232.2 L917.3,2233.8 L921.5,2235.3 L925.7,2236.8 L929.9,2238.3 L934.1,2239.8 L938.3,2241.1 L942.6,2242.5 L946.8,2243.8 L951.0,2245.1 L955.2,2246.3 L959.4,2247.5 L963.6,2248.7 L967.8,2249.8 L972.0,2250.9 L976.2,2251.9 L980.4,2253.0 L984.6,2254.0 L988.8,2254.9 L993.0,2255.8 L997.3,2256.8 L1001.5,2257.6 L1005.7,2258.5 L1009.9,2259.3 L1014.1,2260.2 L1018.3,2261.0 L1022.5,2261.7 L1026.7,2262.5 L1030.9,2263.3 L1035.1,2264.0 L1039.3,2264.7 L1043.5,2265.4 L1047.7,2266.1 L1052.0,2266.8 L1056.2,2267.5 L1060.4,2268.1 L1064.6,2268.8 L1068.8,2269.4 L1073.0,2270.1 L1077.2,2270.7 L1081.4,2271.3 L1085.6,2272.0 L1089.8,2272.6 L1094.0,2273.2 L1098.2,2273.8 L1102.4,2274.4 L1106.7,2274.9 L1110.9,2275.5 L1115.1,2276.1 L1119.3,2276.6 L1123.5,2277.2 L1127.7,2277.7 L1131.9,2278.3 L1136.1,2278.8 L1140.3,2279.3 L1144.5,2279.8 L1148.7,2280.3 L1152.9,2280.8 L1157.1,2281.2 L1161.4,2281.7 L1165.6,2282.2 L1169.8,2282.6 L1174.0,2283.0 L1178.2,2283.4 L1182.4,2283.9 L1186.6,2284.3 L1190.8,2284.6 L1195.0,2285.0 L1199.2,2285.4 L1203.4,2285.7 L1207.6,2286.1 L1211.8,2286.4 L1216.1,2286.8 L1220.3,2287.1 L1224.5,2287.4 L1228.7,2287.7 L1232.9,2288.1 L1237.1,2288.4 L1241.3,2288.7 L1245.5,2289.0 L1249.7,2289.2 L1253.9,2289.5 L1258.1,2289.8 L1262.3,2290.1 L1266.5,2290.4 L1270.8,2290.6 L1275.0,2290.9 L1279.2,2291.2 L1283.4,2291.4 L1287.6,2291.7 L1291.8,2292.0 L1296.0,2292.2" fill="none" stroke="#F14040" stroke-width="4.5" stroke-linejoin="round" stroke-linecap="round"/>
<path d="M202.0,2259.6 L206.2,2259.1 L210.4,2258.5 L214.6,2257.8 L218.8,2256.8 L223.0,2255.5 L227.2,2253.9 L231.5,2251.8 L235.7,2249.2 L239.9,2246.1 L244.1,2242.2 L248.3,2237.6 L252.5,2232.0 L256.7,2225.4 L260.9,2217.6 L265.1,2208.9 L269.3,2199.3 L273.5,2189.1 L277.7,2178.2 L281.9,2167.0 L286.2,2155.3 L290.4,2143.5 L294.6,2131.6 L298.8,2119.7 L303.0,2108.1 L307.2,2097.0 L311.4,2086.6 L315.6,2077.2 L319.8,2068.5 L324.0,2060.6 L328.2,2053.3 L332.4,2046.5 L336.6,2040.0 L340.9,2034.0 L345.1,2028.1 L349.3,2022.6 L353.5,2017.3 L357.7,2012.2 L361.9,2007.4 L366.1,2002.8 L370.3,1998.4 L374.5,1994.3 L378.7,1990.4 L382.9,1986.7 L387.1,1983.2 L391.3,1979.9 L395.6,1976.8 L399.8,1973.9 L404.0,1971.3 L408.2,1968.9 L412.4,1966.8 L416.6,1964.9 L420.8,1963.2 L425.0,1961.8 L429.2,1960.5 L433.4,1959.5 L437.6,1958.6 L441.8,1958.0 L446.0,1957.4 L450.3,1957.1 L454.5,1956.9 L458.7,1956.8 L462.9,1956.9 L467.1,1957.2 L471.3,1957.6 L475.5,1958.2 L479.7,1958.9 L483.9,1959.8 L488.1,1960.8 L492.3,1962.0 L496.5,1963.4 L500.7,1964.9 L505.0,1966.5 L509.2,1968.3 L513.4,1970.2 L517.6,1972.2 L521.8,1974.4 L526.0,1976.6 L530.2,1979.0 L534.4,1981.5 L538.6,1984.0 L542.8,1986.6 L547.0,1989.4 L551.2,1992.1 L555.4,1995.0 L559.7,1997.8 L563.9,2000.8 L568.1,2003.8 L572.3,2006.8 L576.5,2009.8 L580.7,2012.9 L584.9,2016.0 L589.1,2019.1 L593.3,2022.3 L597.5,2025.5 L601.7,2028.6 L605.9,2031.8 L610.1,2035.0 L614.4,2038.2 L618.6,2041.5 L622.8,2044.7 L627.0,2047.9 L631.2,2051.1 L635.4,2054.4 L639.6,2057.6 L643.8,2060.8 L648.0,2064.0 L652.2,2067.2 L656.4,2070.4 L660.6,2073.6 L664.8,2076.8 L669.1,2080.0 L673.3,2083.1 L677.5,2086.2 L681.7,2089.3 L685.9,2092.4 L690.1,2095.5 L694.3,2098.5 L698.5,2101.5 L702.7,2104.5 L706.9,2107.4 L711.1,2110.4 L715.3,2113.3 L719.5,2116.2 L723.8,2119.1 L728.0,2122.0 L732.2,2124.8 L736.4,2127.7 L740.6,2130.5 L744.8,2133.3 L749.0,2136.1 L753.2,2138.9 L757.4,2141.7 L761.6,2144.5 L765.8,2147.3 L770.0,2150.0 L774.2,2152.8 L778.5,2155.5 L782.7,2158.2 L786.9,2161.0 L791.1,2163.7 L795.3,2166.3 L799.5,2169.0 L803.7,2171.6 L807.9,2174.3 L812.1,2176.8 L816.3,2179.4 L820.5,2181.9 L824.7,2184.5 L828.9,2186.9 L833.2,2189.4 L837.4,2191.8 L841.6,2194.1 L845.8,2196.5 L850.0,2198.8 L854.2,2201.0 L858.4,2203.3 L862.6,2205.5 L866.8,2207.6 L871.0,2209.7 L875.2,2211.8 L879.4,2213.8 L883.6,2215.8 L887.9,2217.8 L892.1,2219.7 L896.3,2221.5 L900.5,2223.3 L904.7,2225.1 L908.9,2226.9 L913.1,2228.6 L917.3,2230.2 L921.5,2231.8 L925.7,2233.4 L929.9,2234.9 L934.1,2236.4 L938.3,2237.8 L942.6,2239.3 L946.8,2240.6 L951.0,2241.9 L955.2,2243.2 L959.4,2244.5 L963.6,2245.7 L967.8,2246.9 L972.0,2248.0 L976.2,2249.1 L980.4,2250.2 L984.6,2251.2 L988.8,2252.2 L993.0,2253.2 L997.3,2254.2 L1001.5,2255.1 L1005.7,2256.0 L1009.9,2256.9 L1014.1,2257.8 L1018.3,2258.6 L1022.5,2259.5 L1026.7,2260.3 L1030.9,2261.1 L1035.1,2261.8 L1039.3,2262.6 L1043.5,2263.4 L1047.7,2264.1 L1052.0,2264.8 L1056.2,2265.5 L1060.4,2266.2 L1064.6,2266.9 L1068.8,2267.6 L1073.0,2268.3 L1077.2,2269.0 L1081.4,2269.6 L1085.6,2270.3 L1089.8,2270.9 L1094.0,2271.5 L1098.2,2272.2 L1102.4,2272.8 L1106.7,2273.4 L1110.9,2274.0 L1115.1,2274.6 L1119.3,2275.2 L1123.5,2275.7 L1127.7,2276.3 L1131.9,2276.9 L1136.1,2277.4 L1140.3,2277.9 L1144.5,2278.5 L1148.7,2279.0 L1152.9,2279.5 L1157.1,2280.0 L1161.4,2280.4 L1165.6,2280.9 L1169.8,2281.4 L1174.0,2281.8 L1178.2,2282.3 L1182.4,2282.7 L1186.6,2283.1 L1190.8,2283.5 L1195.0,2283.9 L1199.2,2284.3 L1203.4,2284.6 L1207.6,2285.0 L1211.8,2285.4 L1216.1,2285.7 L1220.3,2286.1 L1224.5,2286.4 L1228.7,2286.7 L1232.9,2287.0 L1237.1,2287.4 L1241.3,2287.7 L1245.5,2288.0 L1249.7,2288.3 L1253.9,2288.6 L1258.1,2288.9 L1262.3,2289.1 L1266.5,2289.4 L1270.8,2289.7 L1275.0,2290.0 L1279.2,2290.3 L1283.4,2290.5 L1287.6,2290.8 L1291.8,2291.1 L1296.0,2291.4" fill="none" stroke="#1A6FDF" stroke-width="4.5" stroke-linejoin="round" stroke-linecap="round"/>
<path d="M202.0,2258.6 L206.2,2258.1 L210.4,2257.6 L214.6,2256.8 L218.8,2255.9 L223.0,2254.6 L227.2,2252.9 L231.5,2250.8 L235.7,2248.2 L239.9,2245.0 L244.1,2241.1 L248.3,2236.4 L252.5,2230.8 L256.7,2224.1 L260.9,2216.3 L265.1,2207.6 L269.3,2197.9 L273.5,2187.6 L277.7,2176.6 L281.9,2165.2 L286.2,2153.5 L290.4,2141.5 L294.6,2129.4 L298.8,2117.5 L303.0,2105.8 L307.2,2094.7 L311.4,2084.3 L315.6,2074.8 L319.8,2066.1 L324.0,2058.1 L328.2,2050.7 L332.4,2043.7 L336.6,2037.1 L340.9,2030.9 L345.1,2024.9 L349.3,2019.1 L353.5,2013.6 L357.7,2008.3 L361.9,2003.3 L366.1,1998.5 L370.3,1993.9 L374.5,1989.6 L378.7,1985.5 L382.9,1981.6 L387.1,1977.9 L391.3,1974.4 L395.6,1971.1 L399.8,1968.1 L404.0,1965.2 L408.2,1962.7 L412.4,1960.3 L416.6,1958.2 L420.8,1956.3 L425.0,1954.7 L429.2,1953.2 L433.4,1952.0 L437.6,1951.0 L441.8,1950.1 L446.0,1949.5 L450.3,1949.0 L454.5,1948.6 L458.7,1948.5 L462.9,1948.5 L467.1,1948.7 L471.3,1949.0 L475.5,1949.5 L479.7,1950.2 L483.9,1951.0 L488.1,1952.0 L492.3,1953.1 L496.5,1954.5 L500.7,1955.9 L505.0,1957.5 L509.2,1959.3 L513.4,1961.2 L517.6,1963.2 L521.8,1965.3 L526.0,1967.6 L530.2,1970.0 L534.4,1972.4 L538.6,1975.0 L542.8,1977.7 L547.0,1980.4 L551.2,1983.2 L555.4,1986.1 L559.7,1989.1 L563.9,1992.0 L568.1,1995.1 L572.3,1998.2 L576.5,2001.3 L580.7,2004.4 L584.9,2007.6 L589.1,2010.9 L593.3,2014.1 L597.5,2017.4 L601.7,2020.6 L605.9,2023.9 L610.1,2027.2 L614.4,2030.5 L618.6,2033.9 L622.8,2037.2 L627.0,2040.5 L631.2,2043.9 L635.4,2047.2 L639.6,2050.6 L643.8,2053.9 L648.0,2057.2 L652.2,2060.5 L656.4,2063.9 L660.6,2067.2 L664.8,2070.5 L669.1,2073.7 L673.3,2077.0 L677.5,2080.2 L681.7,2083.4 L685.9,2086.6 L690.1,2089.8 L694.3,2092.9 L698.5,2096.1 L702.7,2099.2 L706.9,2102.2 L711.1,2105.3 L715.3,2108.3 L719.5,2111.3 L723.8,2114.3 L728.0,2117.3 L732.2,2120.2 L736.4,2123.1 L740.6,2126.1 L744.8,2129.0 L749.0,2131.8 L753.2,2134.7 L757.4,2137.6 L761.6,2140.4 L765.8,2143.3 L770.0,2146.1 L774.2,2148.9 L778.5,2151.7 L782.7,2154.5 L786.9,2157.2 L791.1,2160.0 L795.3,2162.7 L799.5,2165.4 L803.7,2168.1 L807.9,2170.7 L812.1,2173.3 L816.3,2175.9 L820.5,2178.5 L824.7,2181.0 L828.9,2183.5 L833.2,2186.0 L837.4,2188.4 L841.6,2190.8 L845.8,2193.2 L850.0,2195.5 L854.2,2197.8 L858.4,2200.0 L862.6,2202.2 L866.8,2204.4 L871.0,2206.5 L875.2,2208.6 L879.4,2210.7 L883.6,2212.7 L887.9,2214.7 L892.1,2216.6 L896.3,2218.5 L900.5,2220.4 L904.7,2222.2 L908.9,2224.0 L913.1,2225.7 L917.3,2227.4 L921.5,2229.0 L925.7,2230.6 L929.9,2232.2 L934.1,2233.7 L938.3,2235.2 L942.6,2236.7 L946.8,2238.1 L951.0,2239.4 L955.2,2240.8 L959.4,2242.1 L963.6,2243.3 L967.8,2244.5 L972.0,2245.7 L976.2,2246.9 L980.4,2248.0 L984.6,2249.1 L988.8,2250.1 L993.0,2251.1 L997.3,2252.1 L1001.5,2253.1 L1005.7,2254.0 L1009.9,2255.0 L1014.1,2255.9 L1018.3,2256.8 L1022.5,2257.6 L1026.7,2258.5 L1030.9,2259.3 L1035.1,2260.1 L1039.3,2260.9 L1043.5,2261.7 L1047.7,2262.5 L1052.0,2263.2 L1056.2,2264.0 L1060.4,2264.7 L1064.6,2265.4 L1068.8,2266.2 L1073.0,2266.9 L1077.2,2267.6 L1081.4,2268.2 L1085.6,2268.9 L1089.8,2269.6 L1094.0,2270.2 L1098.2,2270.9 L1102.4,2271.5 L1106.7,2272.2 L1110.9,2272.8 L1115.1,2273.4 L1119.3,2274.0 L1123.5,2274.6 L1127.7,2275.2 L1131.9,2275.7 L1136.1,2276.3 L1140.3,2276.9 L1144.5,2277.4 L1148.7,2277.9 L1152.9,2278.4 L1157.1,2278.9 L1161.4,2279.4 L1165.6,2279.9 L1169.8,2280.4 L1174.0,2280.9 L1178.2,2281.3 L1182.4,2281.7 L1186.6,2282.2 L1190.8,2282.6 L1195.0,2283.0 L1199.2,2283.4 L1203.4,2283.8 L1207.6,2284.1 L1211.8,2284.5 L1216.1,2284.9 L1220.3,2285.2 L1224.5,2285.6 L1228.7,2285.9 L1232.9,2286.2 L1237.1,2286.6 L1241.3,2286.9 L1245.5,2287.2 L1249.7,2287.5 L1253.9,2287.8 L1258.1,2288.1 L1262.3,2288.4 L1266.5,2288.7 L1270.8,2289.0 L1275.0,2289.3 L1279.2,2289.6 L1283.4,2289.8 L1287.6,2290.1 L1291.8,2290.4 L1296.0,2290.7" fill="none" stroke="#37AD6B" stroke-width="4.5" stroke-linejoin="round" stroke-linecap="round"/>
<path d="M202.0,2258.3 L206.2,2257.8 L210.4,2257.3 L214.6,2256.5 L218.8,2255.6 L223.0,2254.3 L227.2,2252.6 L231.5,2250.5 L235.7,2247.9 L239.9,2244.7 L244.1,2240.8 L248.3,2236.1 L252.5,2230.4 L256.7,2223.7 L260.9,2215.9 L265.1,2207.1 L269.3,2197.4 L273.5,2187.1 L277.7,2176.1 L281.9,2164.6 L286.2,2152.8 L290.4,2140.8 L294.6,2128.7 L298.8,2116.7 L303.0,2105.1 L307.2,2093.9 L311.4,2083.6 L315.6,2074.0 L319.8,2065.3 L324.0,2057.3 L328.2,2049.8 L332.4,2042.8 L336.6,2036.2 L340.9,2029.9 L345.1,2023.8 L349.3,2018.0 L353.5,2012.4 L357.7,2007.1 L361.9,2002.0 L366.1,1997.1 L370.3,1992.4 L374.5,1988.0 L378.7,1983.9 L382.9,1979.9 L387.1,1976.1 L391.3,1972.6 L395.6,1969.2 L399.8,1966.1 L404.0,1963.2 L408.2,1960.6 L412.4,1958.2 L416.6,1956.0 L420.8,1954.0 L425.0,1952.3 L429.2,1950.8 L433.4,1949.5 L437.6,1948.5 L441.8,1947.6 L446.0,1946.9 L450.3,1946.3 L454.5,1945.9 L458.7,1945.7 L462.9,1945.7 L467.1,1945.8 L471.3,1946.2 L475.5,1946.6 L479.7,1947.3 L483.9,1948.1 L488.1,1949.1 L492.3,1950.2 L496.5,1951.5 L500.7,1953.0 L505.0,1954.6 L509.2,1956.3 L513.4,1958.2 L517.6,1960.2 L521.8,1962.3 L526.0,1964.6 L530.2,1967.0 L534.4,1969.5 L538.6,1972.1 L542.8,1974.7 L547.0,1977.5 L551.2,1980.3 L555.4,1983.2 L559.7,1986.2 L563.9,1989.2 L568.1,1992.2 L572.3,1995.3 L576.5,1998.5 L580.7,2001.7 L584.9,2004.9 L589.1,2008.1 L593.3,2011.4 L597.5,2014.7 L601.7,2018.0 L605.9,2021.3 L610.1,2024.7 L614.4,2028.0 L618.6,2031.4 L622.8,2034.7 L627.0,2038.1 L631.2,2041.5 L635.4,2044.9 L639.6,2048.2 L643.8,2051.6 L648.0,2055.0 L652.2,2058.3 L656.4,2061.7 L660.6,2065.0 L664.8,2068.4 L669.1,2071.7 L673.3,2075.0 L677.5,2078.3 L681.7,2081.5 L685.9,2084.7 L690.1,2087.9 L694.3,2091.1 L698.5,2094.3 L702.7,2097.4 L706.9,2100.5 L711.1,2103.6 L715.3,2106.6 L719.5,2109.7 L723.8,2112.7 L728.0,2115.7 L732.2,2118.7 L736.4,2121.6 L740.6,2124.6 L744.8,2127.5 L749.0,2130.4 L753.2,2133.3 L757.4,2136.2 L761.6,2139.1 L765.8,2141.9 L770.0,2144.8 L774.2,2147.6 L778.5,2150.4 L782.7,2153.2 L786.9,2156.0 L791.1,2158.8 L795.3,2161.5 L799.5,2164.2 L803.7,2166.9 L807.9,2169.6 L812.1,2172.2 L816.3,2174.8 L820.5,2177.4 L824.7,2179.9 L828.9,2182.4 L833.2,2184.9 L837.4,2187.3 L841.6,2189.7 L845.8,2192.1 L850.0,2194.4 L854.2,2196.7 L858.4,2199.0 L862.6,2201.2 L866.8,2203.4 L871.0,2205.5 L875.2,2207.6 L879.4,2209.7 L883.6,2211.7 L887.9,2213.7 L892.1,2215.6 L896.3,2217.5 L900.5,2219.4 L904.7,2221.2 L908.9,2223.0 L913.1,2224.7 L917.3,2226.4 L921.5,2228.1 L925.7,2229.7 L929.9,2231.3 L934.1,2232.8 L938.3,2234.3 L942.6,2235.8 L946.8,2237.2 L951.0,2238.6 L955.2,2240.0 L959.4,2241.3 L963.6,2242.5 L967.8,2243.8 L972.0,2244.9 L976.2,2246.1 L980.4,2247.2 L984.6,2248.3 L988.8,2249.4 L993.0,2250.4 L997.3,2251.5 L1001.5,2252.4 L1005.7,2253.4 L1009.9,2254.3 L1014.1,2255.3 L1018.3,2256.1 L1022.5,2257.0 L1026.7,2257.9 L1030.9,2258.7 L1035.1,2259.6 L1039.3,2260.4 L1043.5,2261.2 L1047.7,2261.9 L1052.0,2262.7 L1056.2,2263.5 L1060.4,2264.2 L1064.6,2265.0 L1068.8,2265.7 L1073.0,2266.4 L1077.2,2267.1 L1081.4,2267.8 L1085.6,2268.5 L1089.8,2269.1 L1094.0,2269.8 L1098.2,2270.5 L1102.4,2271.1 L1106.7,2271.8 L1110.9,2272.4 L1115.1,2273.0 L1119.3,2273.6 L1123.5,2274.2 L1127.7,2274.8 L1131.9,2275.4 L1136.1,2275.9 L1140.3,2276.5 L1144.5,2277.0 L1148.7,2277.6 L1152.9,2278.1 L1157.1,2278.6 L1161.4,2279.1 L1165.6,2279.6 L1169.8,2280.1 L1174.0,2280.5 L1178.2,2281.0 L1182.4,2281.4 L1186.6,2281.9 L1190.8,2282.3 L1195.0,2282.7 L1199.2,2283.1 L1203.4,2283.5 L1207.6,2283.9 L1211.8,2284.2 L1216.1,2284.6 L1220.3,2285.0 L1224.5,2285.3 L1228.7,2285.6 L1232.9,2286.0 L1237.1,2286.3 L1241.3,2286.6 L1245.5,2286.9 L1249.7,2287.2 L1253.9,2287.6 L1258.1,2287.9 L1262.3,2288.2 L1266.5,2288.5 L1270.8,2288.7 L1275.0,2289.0 L1279.2,2289.3 L1283.4,2289.6 L1287.6,2289.9 L1291.8,2290.2 L1296.0,2290.5" fill="none" stroke="#B177DE" stroke-width="4.5" stroke-linejoin="round" stroke-linecap="round"/>
<path d="M202.0,2257.6 L206.2,2257.1 L210.4,2256.6 L214.6,2255.8 L218.8,2254.9 L223.0,2253.6 L227.2,2251.9 L231.5,2249.8 L235.7,2247.1 L239.9,2243.9 L244.1,2240.0 L248.3,2235.2 L252.5,2229.5 L256.7,2222.8 L260.9,2214.9 L265.1,2206.1 L269.3,2196.4 L273.5,2185.9 L277.7,2174.9 L281.9,2163.3 L286.2,2151.4 L290.4,2139.3 L294.6,2127.1 L298.8,2115.1 L303.0,2103.4 L307.2,2092.2 L311.4,2081.8 L315.6,2072.3 L319.8,2063.5 L324.0,2055.4 L328.2,2047.8 L332.4,2040.7 L336.6,2034.0 L340.9,2027.6 L345.1,2021.4 L349.3,2015.4 L353.5,2009.7 L357.7,2004.2 L361.9,1998.9 L366.1,1993.9 L370.3,1989.1 L374.5,1984.5 L378.7,1980.2 L382.9,1976.1 L387.1,1972.2 L391.3,1968.5 L395.6,1965.0 L399.8,1961.7 L404.0,1958.7 L408.2,1955.9 L412.4,1953.3 L416.6,1951.0 L420.8,1948.9 L425.0,1947.0 L429.2,1945.4 L433.4,1944.0 L437.6,1942.7 L441.8,1941.7 L446.0,1940.9 L450.3,1940.3 L454.5,1939.8 L458.7,1939.5 L462.9,1939.4 L467.1,1939.5 L471.3,1939.7 L475.5,1940.1 L479.7,1940.7 L483.9,1941.5 L488.1,1942.4 L492.3,1943.5 L496.5,1944.8 L500.7,1946.2 L505.0,1947.8 L509.2,1949.5 L513.4,1951.4 L517.6,1953.4 L521.8,1955.6 L526.0,1957.8 L530.2,1960.2 L534.4,1962.7 L538.6,1965.3 L542.8,1968.0 L547.0,1970.8 L551.2,1973.6 L555.4,1976.6 L559.7,1979.6 L563.9,1982.6 L568.1,1985.7 L572.3,1988.9 L576.5,1992.1 L580.7,1995.3 L584.9,1998.6 L589.1,2001.9 L593.3,2005.3 L597.5,2008.6 L601.7,2012.0 L605.9,2015.4 L610.1,2018.8 L614.4,2022.2 L618.6,2025.7 L622.8,2029.1 L627.0,2032.6 L631.2,2036.0 L635.4,2039.5 L639.6,2043.0 L643.8,2046.4 L648.0,2049.9 L652.2,2053.3 L656.4,2056.8 L660.6,2060.2 L664.8,2063.6 L669.1,2067.0 L673.3,2070.4 L677.5,2073.8 L681.7,2077.1 L685.9,2080.4 L690.1,2083.7 L694.3,2087.0 L698.5,2090.2 L702.7,2093.4 L706.9,2096.6 L711.1,2099.8 L715.3,2102.9 L719.5,2106.0 L723.8,2109.1 L728.0,2112.2 L732.2,2115.2 L736.4,2118.3 L740.6,2121.3 L744.8,2124.3 L749.0,2127.2 L753.2,2130.2 L757.4,2133.1 L761.6,2136.1 L765.8,2139.0 L770.0,2141.8 L774.2,2144.7 L778.5,2147.6 L782.7,2150.4 L786.9,2153.2 L791.1,2156.0 L795.3,2158.8 L799.5,2161.5 L803.7,2164.2 L807.9,2166.9 L812.1,2169.6 L816.3,2172.2 L820.5,2174.8 L824.7,2177.3 L828.9,2179.9 L833.2,2182.4 L837.4,2184.8 L841.6,2187.2 L845.8,2189.6 L850.0,2192.0 L854.2,2194.3 L858.4,2196.5 L862.6,2198.8 L866.8,2201.0 L871.0,2203.1 L875.2,2205.2 L879.4,2207.3 L883.6,2209.4 L887.9,2211.4 L892.1,2213.4 L896.3,2215.3 L900.5,2217.2 L904.7,2219.0 L908.9,2220.8 L913.1,2222.6 L917.3,2224.3 L921.5,2226.0 L925.7,2227.7 L929.9,2229.3 L934.1,2230.8 L938.3,2232.4 L942.6,2233.9 L946.8,2235.3 L951.0,2236.7 L955.2,2238.1 L959.4,2239.4 L963.6,2240.7 L967.8,2242.0 L972.0,2243.2 L976.2,2244.4 L980.4,2245.6 L984.6,2246.7 L988.8,2247.8 L993.0,2248.9 L997.3,2249.9 L1001.5,2250.9 L1005.7,2251.9 L1009.9,2252.9 L1014.1,2253.8 L1018.3,2254.8 L1022.5,2255.7 L1026.7,2256.5 L1030.9,2257.4 L1035.1,2258.3 L1039.3,2259.1 L1043.5,2259.9 L1047.7,2260.7 L1052.0,2261.5 L1056.2,2262.3 L1060.4,2263.1 L1064.6,2263.8 L1068.8,2264.6 L1073.0,2265.3 L1077.2,2266.0 L1081.4,2266.8 L1085.6,2267.5 L1089.8,2268.2 L1094.0,2268.8 L1098.2,2269.5 L1102.4,2270.2 L1106.7,2270.8 L1110.9,2271.5 L1115.1,2272.1 L1119.3,2272.7 L1123.5,2273.4 L1127.7,2274.0 L1131.9,2274.5 L1136.1,2275.1 L1140.3,2275.7 L1144.5,2276.3 L1148.7,2276.8 L1152.9,2277.3 L1157.1,2277.9 L1161.4,2278.4 L1165.6,2278.9 L1169.8,2279.3 L1174.0,2279.8 L1178.2,2280.3 L1182.4,2280.7 L1186.6,2281.2 L1190.8,2281.6 L1195.0,2282.0 L1199.2,2282.4 L1203.4,2282.8 L1207.6,2283.2 L1211.8,2283.6 L1216.1,2284.0 L1220.3,2284.3 L1224.5,2284.7 L1228.7,2285.0 L1232.9,2285.4 L1237.1,2285.7 L1241.3,2286.0 L1245.5,2286.4 L1249.7,2286.7 L1253.9,2287.0 L1258.1,2287.3 L1262.3,2287.6 L1266.5,2287.9 L1270.8,2288.2 L1275.0,2288.5 L1279.2,2288.8 L1283.4,2289.1 L1287.6,2289.4 L1291.8,2289.7 L1296.0,2289.9" fill="none" stroke="#CC9900" stroke-width="4.5" stroke-linejoin="round" stroke-linecap="round"/>
<path d="M202.0,2258.0 L206.2,2257.5 L210.4,2256.9 L214.6,2256.2 L218.8,2255.2 L223.0,2254.0 L227.2,2252.3 L231.5,2250.2 L235.7,2247.5 L239.9,2244.3 L244.1,2240.4 L248.3,2235.6 L252.5,2230.0 L256.7,2223.3 L260.9,2215.4 L265.1,2206.6 L269.3,2196.9 L273.5,2186.5 L277.7,2175.5 L281.9,2164.0 L286.2,2152.1 L290.4,2140.1 L294.6,2128.0 L298.8,2115.9 L303.0,2104.2 L307.2,2093.1 L311.4,2082.7 L315.6,2073.2 L319.8,2064.5 L324.0,2056.4 L328.2,2048.9 L332.4,2041.8 L336.6,2035.1 L340.9,2028.8 L345.1,2022.6 L349.3,2016.7 L353.5,2011.1 L357.7,2005.7 L361.9,2000.5 L366.1,1995.5 L370.3,1990.8 L374.5,1986.4 L378.7,1982.1 L382.9,1978.1 L387.1,1974.2 L391.3,1970.6 L395.6,1967.2 L399.8,1964.0 L404.0,1961.1 L408.2,1958.3 L412.4,1955.8 L416.6,1953.6 L420.8,1951.6 L425.0,1949.8 L429.2,1948.2 L433.4,1946.9 L437.6,1945.7 L441.8,1944.8 L446.0,1944.0 L450.3,1943.4 L454.5,1943.0 L458.7,1942.7 L462.9,1942.7 L467.1,1942.8 L471.3,1943.1 L475.5,1943.5 L479.7,1944.1 L483.9,1944.9 L488.1,1945.9 L492.3,1947.0 L496.5,1948.3 L500.7,1949.7 L505.0,1951.3 L509.2,1953.1 L513.4,1954.9 L517.6,1957.0 L521.8,1959.1 L526.0,1961.4 L530.2,1963.7 L534.4,1966.2 L538.6,1968.8 L542.8,1971.5 L547.0,1974.3 L551.2,1977.1 L555.4,1980.0 L559.7,1983.0 L563.9,1986.0 L568.1,1989.1 L572.3,1992.2 L576.5,1995.4 L580.7,1998.6 L584.9,2001.9 L589.1,2005.1 L593.3,2008.4 L597.5,2011.8 L601.7,2015.1 L605.9,2018.5 L610.1,2021.8 L614.4,2025.2 L618.6,2028.6 L622.8,2032.0 L627.0,2035.5 L631.2,2038.9 L635.4,2042.3 L639.6,2045.7 L643.8,2049.1 L648.0,2052.5 L652.2,2055.9 L656.4,2059.3 L660.6,2062.7 L664.8,2066.1 L669.1,2069.4 L673.3,2072.8 L677.5,2076.1 L681.7,2079.4 L685.9,2082.7 L690.1,2085.9 L694.3,2089.1 L698.5,2092.3 L702.7,2095.5 L706.9,2098.6 L711.1,2101.8 L715.3,2104.8 L719.5,2107.9 L723.8,2111.0 L728.0,2114.0 L732.2,2117.0 L736.4,2120.0 L740.6,2123.0 L744.8,2126.0 L749.0,2128.9 L753.2,2131.8 L757.4,2134.7 L761.6,2137.6 L765.8,2140.5 L770.0,2143.4 L774.2,2146.2 L778.5,2149.1 L782.7,2151.9 L786.9,2154.7 L791.1,2157.4 L795.3,2160.2 L799.5,2162.9 L803.7,2165.6 L807.9,2168.3 L812.1,2170.9 L816.3,2173.5 L820.5,2176.1 L824.7,2178.7 L828.9,2181.2 L833.2,2183.7 L837.4,2186.1 L841.6,2188.5 L845.8,2190.9 L850.0,2193.2 L854.2,2195.5 L858.4,2197.8 L862.6,2200.0 L866.8,2202.2 L871.0,2204.4 L875.2,2206.5 L879.4,2208.5 L883.6,2210.6 L887.9,2212.6 L892.1,2214.5 L896.3,2216.4 L900.5,2218.3 L904.7,2220.2 L908.9,2222.0 L913.1,2223.7 L917.3,2225.4 L921.5,2227.1 L925.7,2228.7 L929.9,2230.3 L934.1,2231.9 L938.3,2233.4 L942.6,2234.9 L946.8,2236.3 L951.0,2237.7 L955.2,2239.1 L959.4,2240.4 L963.6,2241.7 L967.8,2242.9 L972.0,2244.1 L976.2,2245.3 L980.4,2246.4 L984.6,2247.6 L988.8,2248.6 L993.0,2249.7 L997.3,2250.7 L1001.5,2251.7 L1005.7,2252.7 L1009.9,2253.6 L1014.1,2254.6 L1018.3,2255.5 L1022.5,2256.4 L1026.7,2257.2 L1030.9,2258.1 L1035.1,2258.9 L1039.3,2259.8 L1043.5,2260.6 L1047.7,2261.4 L1052.0,2262.1 L1056.2,2262.9 L1060.4,2263.7 L1064.6,2264.4 L1068.8,2265.2 L1073.0,2265.9 L1077.2,2266.6 L1081.4,2267.3 L1085.6,2268.0 L1089.8,2268.7 L1094.0,2269.3 L1098.2,2270.0 L1102.4,2270.7 L1106.7,2271.3 L1110.9,2272.0 L1115.1,2272.6 L1119.3,2273.2 L1123.5,2273.8 L1127.7,2274.4 L1131.9,2275.0 L1136.1,2275.6 L1140.3,2276.1 L1144.5,2276.7 L1148.7,2277.2 L1152.9,2277.7 L1157.1,2278.2 L1161.4,2278.8 L1165.6,2279.2 L1169.8,2279.7 L1174.0,2280.2 L1178.2,2280.7 L1182.4,2281.1 L1186.6,2281.5 L1190.8,2282.0 L1195.0,2282.4 L1199.2,2282.8 L1203.4,2283.2 L1207.6,2283.6 L1211.8,2283.9 L1216.1,2284.3 L1220.3,2284.7 L1224.5,2285.0 L1228.7,2285.3 L1232.9,2285.7 L1237.1,2286.0 L1241.3,2286.3 L1245.5,2286.7 L1249.7,2287.0 L1253.9,2287.3 L1258.1,2287.6 L1262.3,2287.9 L1266.5,2288.2 L1270.8,2288.5 L1275.0,2288.8 L1279.2,2289.1 L1283.4,2289.4 L1287.6,2289.6 L1291.8,2289.9 L1296.0,2290.2" fill="none" stroke="#00CBCC" stroke-width="4.5" stroke-linejoin="round" stroke-linecap="round"/>
<path d="M202.0,2256.2 L206.2,2255.8 L210.4,2255.3 L214.6,2254.6 L218.8,2253.6 L223.0,2252.3 L227.2,2250.6 L231.5,2248.4 L235.7,2245.7 L239.9,2242.4 L244.1,2238.4 L248.3,2233.6 L252.5,2227.8 L256.7,2221.0 L260.9,2213.1 L265.1,2204.2 L269.3,2194.4 L273.5,2183.8 L277.7,2172.6 L281.9,2160.8 L286.2,2148.8 L290.4,2136.5 L294.6,2124.2 L298.8,2112.0 L303.0,2100.2 L307.2,2089.0 L311.4,2078.6 L315.6,2069.0 L319.8,2060.1 L324.0,2051.9 L328.2,2044.2 L332.4,2036.9 L336.6,2030.0 L340.9,2023.3 L345.1,2016.8 L349.3,2010.6 L353.5,2004.5 L357.7,1998.7 L361.9,1993.2 L366.1,1987.8 L370.3,1982.8 L374.5,1977.9 L378.7,1973.3 L382.9,1968.9 L387.1,1964.8 L391.3,1960.8 L395.6,1957.0 L399.8,1953.5 L404.0,1950.2 L408.2,1947.1 L412.4,1944.2 L416.6,1941.6 L420.8,1939.2 L425.0,1937.1 L429.2,1935.2 L433.4,1933.5 L437.6,1932.0 L441.8,1930.8 L446.0,1929.8 L450.3,1928.9 L454.5,1928.3 L458.7,1927.9 L462.9,1927.6 L467.1,1927.5 L471.3,1927.7 L475.5,1928.0 L479.7,1928.5 L483.9,1929.2 L488.1,1930.0 L492.3,1931.1 L496.5,1932.3 L500.7,1933.7 L505.0,1935.2 L509.2,1936.9 L513.4,1938.8 L517.6,1940.8 L521.8,1942.9 L526.0,1945.2 L530.2,1947.6 L534.4,1950.1 L538.6,1952.7 L542.8,1955.5 L547.0,1958.3 L551.2,1961.2 L555.4,1964.2 L559.7,1967.3 L563.9,1970.4 L568.1,1973.6 L572.3,1976.8 L576.5,1980.1 L580.7,1983.5 L584.9,1986.9 L589.1,1990.3 L593.3,1993.8 L597.5,1997.3 L601.7,2000.8 L605.9,2004.3 L610.1,2007.9 L614.4,2011.5 L618.6,2015.1 L622.8,2018.7 L627.0,2022.3 L631.2,2025.9 L635.4,2029.5 L639.6,2033.1 L643.8,2036.8 L648.0,2040.4 L652.2,2044.0 L656.4,2047.6 L660.6,2051.2 L664.8,2054.7 L669.1,2058.3 L673.3,2061.9 L677.5,2065.4 L681.7,2068.9 L685.9,2072.4 L690.1,2075.8 L694.3,2079.2 L698.5,2082.6 L702.7,2086.0 L706.9,2089.3 L711.1,2092.6 L715.3,2095.9 L719.5,2099.2 L723.8,2102.4 L728.0,2105.6 L732.2,2108.8 L736.4,2111.9 L740.6,2115.1 L744.8,2118.2 L749.0,2121.3 L753.2,2124.3 L757.4,2127.4 L761.6,2130.4 L765.8,2133.4 L770.0,2136.3 L774.2,2139.3 L778.5,2142.2 L782.7,2145.1 L786.9,2148.0 L791.1,2150.9 L795.3,2153.7 L799.5,2156.5 L803.7,2159.2 L807.9,2162.0 L812.1,2164.7 L816.3,2167.3 L820.5,2170.0 L824.7,2172.6 L828.9,2175.1 L833.2,2177.6 L837.4,2180.1 L841.6,2182.6 L845.8,2185.0 L850.0,2187.4 L854.2,2189.7 L858.4,2192.0 L862.6,2194.3 L866.8,2196.5 L871.0,2198.7 L875.2,2200.8 L879.4,2203.0 L883.6,2205.0 L887.9,2207.1 L892.1,2209.1 L896.3,2211.1 L900.5,2213.0 L904.7,2214.9 L908.9,2216.8 L913.1,2218.6 L917.3,2220.4 L921.5,2222.1 L925.7,2223.8 L929.9,2225.5 L934.1,2227.1 L938.3,2228.7 L942.6,2230.2 L946.8,2231.8 L951.0,2233.2 L955.2,2234.7 L959.4,2236.1 L963.6,2237.4 L967.8,2238.7 L972.0,2240.0 L976.2,2241.3 L980.4,2242.5 L984.6,2243.7 L988.8,2244.8 L993.0,2245.9 L997.3,2247.0 L1001.5,2248.1 L1005.7,2249.2 L1009.9,2250.2 L1014.1,2251.2 L1018.3,2252.1 L1022.5,2253.1 L1026.7,2254.0 L1030.9,2255.0 L1035.1,2255.9 L1039.3,2256.8 L1043.5,2257.6 L1047.7,2258.5 L1052.0,2259.3 L1056.2,2260.1 L1060.4,2261.0 L1064.6,2261.8 L1068.8,2262.5 L1073.0,2263.3 L1077.2,2264.1 L1081.4,2264.8 L1085.6,2265.6 L1089.8,2266.3 L1094.0,2267.0 L1098.2,2267.7 L1102.4,2268.4 L1106.7,2269.1 L1110.9,2269.8 L1115.1,2270.5 L1119.3,2271.1 L1123.5,2271.7 L1127.7,2272.4 L1131.9,2273.0 L1136.1,2273.6 L1140.3,2274.2 L1144.5,2274.8 L1148.7,2275.3 L1152.9,2275.9 L1157.1,2276.4 L1161.4,2277.0 L1165.6,2277.5 L1169.8,2278.0 L1174.0,2278.5 L1178.2,2279.0 L1182.4,2279.4 L1186.6,2279.9 L1190.8,2280.3 L1195.0,2280.8 L1199.2,2281.2 L1203.4,2281.6 L1207.6,2282.0 L1211.8,2282.4 L1216.1,2282.8 L1220.3,2283.2 L1224.5,2283.5 L1228.7,2283.9 L1232.9,2284.2 L1237.1,2284.6 L1241.3,2284.9 L1245.5,2285.3 L1249.7,2285.6 L1253.9,2285.9 L1258.1,2286.2 L1262.3,2286.6 L1266.5,2286.9 L1270.8,2287.2 L1275.0,2287.5 L1279.2,2287.8 L1283.4,2288.1 L1287.6,2288.4 L1291.8,2288.7 L1296.0,2289.0" fill="none" stroke="#7D4E4E" stroke-width="4.5" stroke-linejoin="round" stroke-linecap="round"/>
<path d="M202.0,2254.9 L206.2,2254.4 L210.4,2253.9 L214.6,2253.2 L218.8,2252.3 L223.0,2251.0 L227.2,2249.3 L231.5,2247.1 L235.7,2244.3 L239.9,2240.9 L244.1,2236.9 L248.3,2232.0 L252.5,2226.2 L256.7,2219.3 L260.9,2211.3 L265.1,2202.3 L269.3,2192.4 L273.5,2181.7 L277.7,2170.3 L281.9,2158.3 L286.2,2146.1 L290.4,2133.6 L294.6,2121.1 L298.8,2108.8 L303.0,2097.0 L307.2,2085.7 L311.4,2075.3 L315.6,2065.6 L319.8,2056.7 L324.0,2048.3 L328.2,2040.5 L332.4,2033.0 L336.6,2025.8 L340.9,2018.9 L345.1,2012.2 L349.3,2005.6 L353.5,1999.3 L357.7,1993.2 L361.9,1987.4 L366.1,1981.7 L370.3,1976.3 L374.5,1971.2 L378.7,1966.3 L382.9,1961.7 L387.1,1957.2 L391.3,1953.0 L395.6,1949.0 L399.8,1945.1 L404.0,1941.5 L408.2,1938.1 L412.4,1935.0 L416.6,1932.1 L420.8,1929.4 L425.0,1927.0 L429.2,1924.8 L433.4,1922.9 L437.6,1921.2 L441.8,1919.7 L446.0,1918.5 L450.3,1917.4 L454.5,1916.6 L458.7,1916.0 L462.9,1915.6 L467.1,1915.4 L471.3,1915.4 L475.5,1915.7 L479.7,1916.1 L483.9,1916.7 L488.1,1917.4 L492.3,1918.4 L496.5,1919.6 L500.7,1920.9 L505.0,1922.4 L509.2,1924.1 L513.4,1925.9 L517.6,1927.9 L521.8,1930.1 L526.0,1932.3 L530.2,1934.7 L534.4,1937.3 L538.6,1939.9 L542.8,1942.7 L547.0,1945.6 L551.2,1948.6 L555.4,1951.6 L559.7,1954.8 L563.9,1958.0 L568.1,1961.3 L572.3,1964.6 L576.5,1968.0 L580.7,1971.5 L584.9,1975.0 L589.1,1978.5 L593.3,1982.1 L597.5,1985.8 L601.7,1989.4 L605.9,1993.1 L610.1,1996.8 L614.4,2000.5 L618.6,2004.3 L622.8,2008.0 L627.0,2011.8 L631.2,2015.6 L635.4,2019.4 L639.6,2023.1 L643.8,2026.9 L648.0,2030.7 L652.2,2034.5 L656.4,2038.2 L660.6,2042.0 L664.8,2045.7 L669.1,2049.5 L673.3,2053.2 L677.5,2056.9 L681.7,2060.5 L685.9,2064.2 L690.1,2067.8 L694.3,2071.3 L698.5,2074.9 L702.7,2078.4 L706.9,2081.9 L711.1,2085.4 L715.3,2088.8 L719.5,2092.2 L723.8,2095.6 L728.0,2098.9 L732.2,2102.2 L736.4,2105.5 L740.6,2108.8 L744.8,2112.0 L749.0,2115.2 L753.2,2118.3 L757.4,2121.5 L761.6,2124.6 L765.8,2127.7 L770.0,2130.8 L774.2,2133.8 L778.5,2136.8 L782.7,2139.8 L786.9,2142.7 L791.1,2145.6 L795.3,2148.5 L799.5,2151.4 L803.7,2154.2 L807.9,2156.9 L812.1,2159.7 L816.3,2162.4 L820.5,2165.1 L824.7,2167.7 L828.9,2170.3 L833.2,2172.8 L837.4,2175.4 L841.6,2177.8 L845.8,2180.3 L850.0,2182.7 L854.2,2185.1 L858.4,2187.4 L862.6,2189.7 L866.8,2191.9 L871.0,2194.2 L875.2,2196.4 L879.4,2198.5 L883.6,2200.6 L887.9,2202.7 L892.1,2204.8 L896.3,2206.8 L900.5,2208.8 L904.7,2210.7 L908.9,2212.6 L913.1,2214.5 L917.3,2216.3 L921.5,2218.1 L925.7,2219.9 L929.9,2221.6 L934.1,2223.3 L938.3,2225.0 L942.6,2226.6 L946.8,2228.1 L951.0,2229.7 L955.2,2231.2 L959.4,2232.6 L963.6,2234.0 L967.8,2235.4 L972.0,2236.7 L976.2,2238.1 L980.4,2239.3 L984.6,2240.6 L988.8,2241.8 L993.0,2243.0 L997.3,2244.1 L1001.5,2245.2 L1005.7,2246.3 L1009.9,2247.4 L1014.1,2248.5 L1018.3,2249.5 L1022.5,2250.5 L1026.7,2251.5 L1030.9,2252.5 L1035.1,2253.4 L1039.3,2254.4 L1043.5,2255.3 L1047.7,2256.2 L1052.0,2257.1 L1056.2,2257.9 L1060.4,2258.8 L1064.6,2259.6 L1068.8,2260.5 L1073.0,2261.3 L1077.2,2262.1 L1081.4,2262.9 L1085.6,2263.7 L1089.8,2264.4 L1094.0,2265.2 L1098.2,2265.9 L1102.4,2266.6 L1106.7,2267.4 L1110.9,2268.1 L1115.1,2268.8 L1119.3,2269.4 L1123.5,2270.1 L1127.7,2270.8 L1131.9,2271.4 L1136.1,2272.0 L1140.3,2272.6 L1144.5,2273.3 L1148.7,2273.8 L1152.9,2274.4 L1157.1,2275.0 L1161.4,2275.5 L1165.6,2276.1 L1169.8,2276.6 L1174.0,2277.1 L1178.2,2277.6 L1182.4,2278.1 L1186.6,2278.6 L1190.8,2279.0 L1195.0,2279.5 L1199.2,2279.9 L1203.4,2280.4 L1207.6,2280.8 L1211.8,2281.2 L1216.1,2281.6 L1220.3,2282.0 L1224.5,2282.4 L1228.7,2282.7 L1232.9,2283.1 L1237.1,2283.5 L1241.3,2283.8 L1245.5,2284.2 L1249.7,2284.5 L1253.9,2284.8 L1258.1,2285.2 L1262.3,2285.5 L1266.5,2285.8 L1270.8,2286.1 L1275.0,2286.5 L1279.2,2286.8 L1283.4,2287.1 L1287.6,2287.4 L1291.8,2287.7 L1296.0,2288.0" fill="none" stroke="#8E8E00" stroke-width="4.5" stroke-linejoin="round" stroke-linecap="round"/>
<path d="M202.0,2253.6 L206.2,2253.2 L210.4,2252.7 L214.6,2252.0 L218.8,2251.1 L223.0,2249.8 L227.2,2248.0 L231.5,2245.8 L235.7,2243.0 L239.9,2239.6 L244.1,2235.4 L248.3,2230.5 L252.5,2224.6 L256.7,2217.6 L260.9,2209.6 L265.1,2200.5 L269.3,2190.5 L273.5,2179.7 L277.7,2168.1 L281.9,2156.0 L286.2,2143.6 L290.4,2130.9 L294.6,2118.3 L298.8,2105.9 L303.0,2094.0 L307.2,2082.7 L311.4,2072.2 L315.6,2062.5 L319.8,2053.5 L324.0,2045.0 L328.2,2037.0 L332.4,2029.4 L336.6,2022.0 L340.9,2014.8 L345.1,2007.9 L349.3,2001.1 L353.5,1994.5 L357.7,1988.1 L361.9,1982.0 L366.1,1976.0 L370.3,1970.4 L374.5,1965.0 L378.7,1959.9 L382.9,1954.9 L387.1,1950.3 L391.3,1945.8 L395.6,1941.5 L399.8,1937.4 L404.0,1933.5 L408.2,1929.8 L412.4,1926.4 L416.6,1923.2 L420.8,1920.3 L425.0,1917.6 L429.2,1915.1 L433.4,1913.0 L437.6,1911.1 L441.8,1909.4 L446.0,1907.9 L450.3,1906.7 L454.5,1905.8 L458.7,1905.0 L462.9,1904.5 L467.1,1904.2 L471.3,1904.1 L475.5,1904.2 L479.7,1904.5 L483.9,1905.0 L488.1,1905.7 L492.3,1906.7 L496.5,1907.8 L500.7,1909.1 L505.0,1910.5 L509.2,1912.2 L513.4,1914.0 L517.6,1916.0 L521.8,1918.1 L526.0,1920.4 L530.2,1922.8 L534.4,1925.4 L538.6,1928.1 L542.8,1930.9 L547.0,1933.8 L551.2,1936.8 L555.4,1939.9 L559.7,1943.1 L563.9,1946.4 L568.1,1949.8 L572.3,1953.2 L576.5,1956.7 L580.7,1960.3 L584.9,1963.9 L589.1,1967.6 L593.3,1971.3 L597.5,1975.1 L601.7,1978.8 L605.9,1982.7 L610.1,1986.5 L614.4,1990.4 L618.6,1994.2 L622.8,1998.1 L627.0,2002.1 L631.2,2006.0 L635.4,2009.9 L639.6,2013.9 L643.8,2017.8 L648.0,2021.7 L652.2,2025.6 L656.4,2029.6 L660.6,2033.5 L664.8,2037.4 L669.1,2041.2 L673.3,2045.1 L677.5,2048.9 L681.7,2052.8 L685.9,2056.5 L690.1,2060.3 L694.3,2064.0 L698.5,2067.7 L702.7,2071.4 L706.9,2075.0 L711.1,2078.6 L715.3,2082.2 L719.5,2085.7 L723.8,2089.2 L728.0,2092.7 L732.2,2096.1 L736.4,2099.5 L740.6,2102.9 L744.8,2106.2 L749.0,2109.5 L753.2,2112.8 L757.4,2116.0 L761.6,2119.2 L765.8,2122.4 L770.0,2125.6 L774.2,2128.7 L778.5,2131.7 L782.7,2134.8 L786.9,2137.8 L791.1,2140.8 L795.3,2143.7 L799.5,2146.6 L803.7,2149.5 L807.9,2152.3 L812.1,2155.1 L816.3,2157.8 L820.5,2160.5 L824.7,2163.2 L828.9,2165.8 L833.2,2168.4 L837.4,2170.9 L841.6,2173.4 L845.8,2175.9 L850.0,2178.3 L854.2,2180.7 L858.4,2183.1 L862.6,2185.4 L866.8,2187.7 L871.0,2190.0 L875.2,2192.2 L879.4,2194.4 L883.6,2196.6 L887.9,2198.7 L892.1,2200.8 L896.3,2202.8 L900.5,2204.9 L904.7,2206.9 L908.9,2208.8 L913.1,2210.7 L917.3,2212.6 L921.5,2214.5 L925.7,2216.3 L929.9,2218.0 L934.1,2219.8 L938.3,2221.5 L942.6,2223.1 L946.8,2224.8 L951.0,2226.4 L955.2,2227.9 L959.4,2229.4 L963.6,2230.9 L967.8,2232.3 L972.0,2233.7 L976.2,2235.1 L980.4,2236.4 L984.6,2237.7 L988.8,2239.0 L993.0,2240.2 L997.3,2241.4 L1001.5,2242.6 L1005.7,2243.7 L1009.9,2244.9 L1014.1,2246.0 L1018.3,2247.0 L1022.5,2248.1 L1026.7,2249.1 L1030.9,2250.2 L1035.1,2251.2 L1039.3,2252.1 L1043.5,2253.1 L1047.7,2254.1 L1052.0,2255.0 L1056.2,2255.9 L1060.4,2256.8 L1064.6,2257.7 L1068.8,2258.5 L1073.0,2259.4 L1077.2,2260.2 L1081.4,2261.1 L1085.6,2261.9 L1089.8,2262.7 L1094.0,2263.5 L1098.2,2264.2 L1102.4,2265.0 L1106.7,2265.7 L1110.9,2266.5 L1115.1,2267.2 L1119.3,2267.9 L1123.5,2268.6 L1127.7,2269.3 L1131.9,2269.9 L1136.1,2270.6 L1140.3,2271.2 L1144.5,2271.8 L1148.7,2272.5 L1152.9,2273.1 L1157.1,2273.6 L1161.4,2274.2 L1165.6,2274.8 L1169.8,2275.3 L1174.0,2275.8 L1178.2,2276.4 L1182.4,2276.9 L1186.6,2277.4 L1190.8,2277.8 L1195.0,2278.3 L1199.2,2278.7 L1203.4,2279.2 L1207.6,2279.6 L1211.8,2280.0 L1216.1,2280.5 L1220.3,2280.9 L1224.5,2281.3 L1228.7,2281.7 L1232.9,2282.0 L1237.1,2282.4 L1241.3,2282.8 L1245.5,2283.1 L1249.7,2283.5 L1253.9,2283.8 L1258.1,2284.2 L1262.3,2284.5 L1266.5,2284.8 L1270.8,2285.2 L1275.0,2285.5 L1279.2,2285.8 L1283.4,2286.2 L1287.6,2286.5 L1291.8,2286.8 L1296.0,2287.1" fill="none" stroke="#FB6501" stroke-width="4.5" stroke-linejoin="round" stroke-linecap="round"/>
<path d="M202.0,2253.2 L206.2,2252.8 L210.4,2252.3 L214.6,2251.7 L218.8,2250.7 L223.0,2249.4 L227.2,2247.6 L231.5,2245.4 L235.7,2242.6 L239.9,2239.1 L244.1,2235.0 L248.3,2230.0 L252.5,2224.1 L256.7,2217.1 L260.9,2209.0 L265.1,2200.0 L269.3,2189.9 L273.5,2179.1 L277.7,2167.5 L281.9,2155.3 L286.2,2142.8 L290.4,2130.1 L294.6,2117.4 L298.8,2105.0 L303.0,2093.0 L307.2,2081.7 L311.4,2071.2 L315.6,2061.5 L319.8,2052.5 L324.0,2044.0 L328.2,2035.9 L332.4,2028.2 L336.6,2020.8 L340.9,2013.6 L345.1,2006.5 L349.3,1999.7 L353.5,1993.0 L357.7,1986.5 L361.9,1980.3 L366.1,1974.3 L370.3,1968.5 L374.5,1963.1 L378.7,1957.8 L382.9,1952.9 L387.1,1948.1 L391.3,1943.5 L395.6,1939.1 L399.8,1935.0 L404.0,1931.0 L408.2,1927.2 L412.4,1923.7 L416.6,1920.5 L420.8,1917.4 L425.0,1914.7 L429.2,1912.2 L433.4,1909.9 L437.6,1907.9 L441.8,1906.2 L446.0,1904.7 L450.3,1903.4 L454.5,1902.4 L458.7,1901.6 L462.9,1901.0 L467.1,1900.7 L471.3,1900.5 L475.5,1900.6 L479.7,1900.9 L483.9,1901.4 L488.1,1902.1 L492.3,1903.0 L496.5,1904.1 L500.7,1905.4 L505.0,1906.8 L509.2,1908.5 L513.4,1910.3 L517.6,1912.3 L521.8,1914.4 L526.0,1916.7 L530.2,1919.1 L534.4,1921.7 L538.6,1924.4 L542.8,1927.2 L547.0,1930.1 L551.2,1933.2 L555.4,1936.3 L559.7,1939.5 L563.9,1942.8 L568.1,1946.2 L572.3,1949.7 L576.5,1953.2 L580.7,1956.8 L584.9,1960.5 L589.1,1964.2 L593.3,1967.9 L597.5,1971.7 L601.7,1975.6 L605.9,1979.4 L610.1,1983.3 L614.4,1987.2 L618.6,1991.1 L622.8,1995.1 L627.0,1999.0 L631.2,2003.0 L635.4,2007.0 L639.6,2011.0 L643.8,2015.0 L648.0,2018.9 L652.2,2022.9 L656.4,2026.9 L660.6,2030.8 L664.8,2034.8 L669.1,2038.7 L673.3,2042.6 L677.5,2046.5 L681.7,2050.3 L685.9,2054.2 L690.1,2058.0 L694.3,2061.8 L698.5,2065.5 L702.7,2069.2 L706.9,2072.9 L711.1,2076.5 L715.3,2080.1 L719.5,2083.7 L723.8,2087.2 L728.0,2090.8 L732.2,2094.2 L736.4,2097.7 L740.6,2101.1 L744.8,2104.4 L749.0,2107.8 L753.2,2111.1 L757.4,2114.3 L761.6,2117.6 L765.8,2120.8 L770.0,2123.9 L774.2,2127.1 L778.5,2130.2 L782.7,2133.2 L786.9,2136.3 L791.1,2139.2 L795.3,2142.2 L799.5,2145.1 L803.7,2148.0 L807.9,2150.8 L812.1,2153.6 L816.3,2156.4 L820.5,2159.1 L824.7,2161.8 L828.9,2164.4 L833.2,2167.0 L837.4,2169.6 L841.6,2172.1 L845.8,2174.6 L850.0,2177.0 L854.2,2179.4 L858.4,2181.8 L862.6,2184.1 L866.8,2186.4 L871.0,2188.7 L875.2,2190.9 L879.4,2193.1 L883.6,2195.3 L887.9,2197.4 L892.1,2199.5 L896.3,2201.6 L900.5,2203.6 L904.7,2205.6 L908.9,2207.6 L913.1,2209.5 L917.3,2211.4 L921.5,2213.3 L925.7,2215.1 L929.9,2216.9 L934.1,2218.7 L938.3,2220.4 L942.6,2222.1 L946.8,2223.7 L951.0,2225.3 L955.2,2226.9 L959.4,2228.4 L963.6,2229.9 L967.8,2231.4 L972.0,2232.8 L976.2,2234.2 L980.4,2235.5 L984.6,2236.8 L988.8,2238.1 L993.0,2239.3 L997.3,2240.6 L1001.5,2241.8 L1005.7,2242.9 L1009.9,2244.1 L1014.1,2245.2 L1018.3,2246.3 L1022.5,2247.4 L1026.7,2248.4 L1030.9,2249.4 L1035.1,2250.5 L1039.3,2251.5 L1043.5,2252.4 L1047.7,2253.4 L1052.0,2254.3 L1056.2,2255.3 L1060.4,2256.2 L1064.6,2257.1 L1068.8,2257.9 L1073.0,2258.8 L1077.2,2259.7 L1081.4,2260.5 L1085.6,2261.3 L1089.8,2262.1 L1094.0,2262.9 L1098.2,2263.7 L1102.4,2264.5 L1106.7,2265.2 L1110.9,2266.0 L1115.1,2266.7 L1119.3,2267.4 L1123.5,2268.1 L1127.7,2268.8 L1131.9,2269.5 L1136.1,2270.1 L1140.3,2270.8 L1144.5,2271.4 L1148.7,2272.0 L1152.9,2272.6 L1157.1,2273.2 L1161.4,2273.8 L1165.6,2274.4 L1169.8,2274.9 L1174.0,2275.4 L1178.2,2276.0 L1182.4,2276.5 L1186.6,2277.0 L1190.8,2277.5 L1195.0,2277.9 L1199.2,2278.4 L1203.4,2278.8 L1207.6,2279.3 L1211.8,2279.7 L1216.1,2280.1 L1220.3,2280.5 L1224.5,2280.9 L1228.7,2281.3 L1232.9,2281.7 L1237.1,2282.1 L1241.3,2282.4 L1245.5,2282.8 L1249.7,2283.2 L1253.9,2283.5 L1258.1,2283.9 L1262.3,2284.2 L1266.5,2284.5 L1270.8,2284.9 L1275.0,2285.2 L1279.2,2285.5 L1283.4,2285.9 L1287.6,2286.2 L1291.8,2286.5 L1296.0,2286.8" fill="none" stroke="#6699CC" stroke-width="4.5" stroke-linejoin="round" stroke-linecap="round"/>
<path d="M202.0,2252.3 L206.2,2251.9 L210.4,2251.4 L214.6,2250.8 L218.8,2249.8 L223.0,2248.5 L227.2,2246.7 L231.5,2244.4 L235.7,2241.6 L239.9,2238.1 L244.1,2233.9 L248.3,2228.9 L252.5,2222.9 L256.7,2215.9 L260.9,2207.8 L265.1,2198.6 L269.3,2188.5 L273.5,2177.6 L277.7,2165.9 L281.9,2153.6 L286.2,2141.0 L290.4,2128.1 L294.6,2115.4 L298.8,2102.9 L303.0,2090.9 L307.2,2079.5 L311.4,2069.0 L315.6,2059.3 L319.8,2050.2 L324.0,2041.6 L328.2,2033.4 L332.4,2025.6 L336.6,2018.0 L340.9,2010.6 L345.1,2003.4 L349.3,1996.3 L353.5,1989.4 L357.7,1982.8 L361.9,1976.3 L366.1,1970.1 L370.3,1964.2 L374.5,1958.5 L378.7,1953.1 L382.9,1947.9 L387.1,1943.0 L391.3,1938.2 L395.6,1933.6 L399.8,1929.3 L404.0,1925.1 L408.2,1921.2 L412.4,1917.4 L416.6,1914.0 L420.8,1910.7 L425.0,1907.8 L429.2,1905.1 L433.4,1902.7 L437.6,1900.5 L441.8,1898.6 L446.0,1897.0 L450.3,1895.6 L454.5,1894.4 L458.7,1893.5 L462.9,1892.9 L467.1,1892.4 L471.3,1892.2 L475.5,1892.2 L479.7,1892.5 L483.9,1892.9 L488.1,1893.5 L492.3,1894.4 L496.5,1895.4 L500.7,1896.7 L505.0,1898.1 L509.2,1899.7 L513.4,1901.5 L517.6,1903.5 L521.8,1905.6 L526.0,1907.9 L530.2,1910.4 L534.4,1913.0 L538.6,1915.7 L542.8,1918.5 L547.0,1921.5 L551.2,1924.6 L555.4,1927.7 L559.7,1931.0 L563.9,1934.4 L568.1,1937.8 L572.3,1941.4 L576.5,1945.0 L580.7,1948.7 L584.9,1952.4 L589.1,1956.2 L593.3,1960.0 L597.5,1963.9 L601.7,1967.8 L605.9,1971.8 L610.1,1975.7 L614.4,1979.8 L618.6,1983.8 L622.8,1987.8 L627.0,1991.9 L631.2,1996.0 L635.4,2000.1 L639.6,2004.2 L643.8,2008.3 L648.0,2012.4 L652.2,2016.4 L656.4,2020.5 L660.6,2024.6 L664.8,2028.6 L669.1,2032.7 L673.3,2036.7 L677.5,2040.7 L681.7,2044.7 L685.9,2048.6 L690.1,2052.5 L694.3,2056.4 L698.5,2060.2 L702.7,2064.1 L706.9,2067.8 L711.1,2071.6 L715.3,2075.3 L719.5,2079.0 L723.8,2082.6 L728.0,2086.2 L732.2,2089.8 L736.4,2093.3 L740.6,2096.8 L744.8,2100.2 L749.0,2103.6 L753.2,2107.0 L757.4,2110.4 L761.6,2113.7 L765.8,2116.9 L770.0,2120.1 L774.2,2123.3 L778.5,2126.5 L782.7,2129.6 L786.9,2132.7 L791.1,2135.7 L795.3,2138.7 L799.5,2141.6 L803.7,2144.5 L807.9,2147.4 L812.1,2150.2 L816.3,2153.0 L820.5,2155.8 L824.7,2158.5 L828.9,2161.1 L833.2,2163.7 L837.4,2166.3 L841.6,2168.9 L845.8,2171.4 L850.0,2173.8 L854.2,2176.2 L858.4,2178.6 L862.6,2181.0 L866.8,2183.3 L871.0,2185.6 L875.2,2187.9 L879.4,2190.1 L883.6,2192.3 L887.9,2194.5 L892.1,2196.6 L896.3,2198.7 L900.5,2200.8 L904.7,2202.8 L908.9,2204.8 L913.1,2206.8 L917.3,2208.7 L921.5,2210.6 L925.7,2212.5 L929.9,2214.3 L934.1,2216.1 L938.3,2217.8 L942.6,2219.6 L946.8,2221.3 L951.0,2222.9 L955.2,2224.5 L959.4,2226.1 L963.6,2227.6 L967.8,2229.1 L972.0,2230.5 L976.2,2232.0 L980.4,2233.4 L984.6,2234.7 L988.8,2236.0 L993.0,2237.3 L997.3,2238.6 L1001.5,2239.8 L1005.7,2241.0 L1009.9,2242.2 L1014.1,2243.3 L1018.3,2244.5 L1022.5,2245.6 L1026.7,2246.7 L1030.9,2247.7 L1035.1,2248.8 L1039.3,2249.8 L1043.5,2250.8 L1047.7,2251.8 L1052.0,2252.8 L1056.2,2253.8 L1060.4,2254.7 L1064.6,2255.6 L1068.8,2256.5 L1073.0,2257.4 L1077.2,2258.3 L1081.4,2259.2 L1085.6,2260.0 L1089.8,2260.8 L1094.0,2261.7 L1098.2,2262.5 L1102.4,2263.3 L1106.7,2264.0 L1110.9,2264.8 L1115.1,2265.6 L1119.3,2266.3 L1123.5,2267.0 L1127.7,2267.7 L1131.9,2268.4 L1136.1,2269.1 L1140.3,2269.7 L1144.5,2270.4 L1148.7,2271.0 L1152.9,2271.6 L1157.1,2272.2 L1161.4,2272.8 L1165.6,2273.4 L1169.8,2274.0 L1174.0,2274.5 L1178.2,2275.1 L1182.4,2275.6 L1186.6,2276.1 L1190.8,2276.6 L1195.0,2277.1 L1199.2,2277.5 L1203.4,2278.0 L1207.6,2278.4 L1211.8,2278.9 L1216.1,2279.3 L1220.3,2279.7 L1224.5,2280.1 L1228.7,2280.5 L1232.9,2280.9 L1237.1,2281.3 L1241.3,2281.7 L1245.5,2282.1 L1249.7,2282.4 L1253.9,2282.8 L1258.1,2283.1 L1262.3,2283.5 L1266.5,2283.8 L1270.8,2284.2 L1275.0,2284.5 L1279.2,2284.8 L1283.4,2285.2 L1287.6,2285.5 L1291.8,2285.8 L1296.0,2286.2" fill="none" stroke="#6FB802" stroke-width="4.5" stroke-linejoin="round" stroke-linecap="round"/>
<path d="M202.0,2250.7 L206.2,2250.4 L210.4,2250.0 L214.6,2249.3 L218.8,2248.4 L223.0,2247.0 L227.2,2245.2 L231.5,2242.9 L235.7,2240.0 L239.9,2236.5 L244.1,2232.2 L248.3,2227.1 L252.5,2221.1 L256.7,2214.0 L260.9,2205.8 L265.1,2196.5 L269.3,2186.3 L273.5,2175.2 L277.7,2163.3 L281.9,2150.8 L286.2,2138.0 L290.4,2125.0 L294.6,2112.0 L298.8,2099.4 L303.0,2087.3 L307.2,2075.9 L311.4,2065.4 L315.6,2055.5 L319.8,2046.4 L324.0,2037.7 L328.2,2029.3 L332.4,2021.3 L336.6,2013.4 L340.9,2005.8 L345.1,1998.3 L349.3,1990.9 L353.5,1983.7 L357.7,1976.7 L361.9,1969.9 L366.1,1963.4 L370.3,1957.1 L374.5,1951.1 L378.7,1945.4 L382.9,1939.9 L387.1,1934.6 L391.3,1929.6 L395.6,1924.7 L399.8,1920.0 L404.0,1915.5 L408.2,1911.3 L412.4,1907.2 L416.6,1903.4 L420.8,1899.9 L425.0,1896.6 L429.2,1893.6 L433.4,1890.9 L437.6,1888.5 L441.8,1886.4 L446.0,1884.5 L450.3,1882.9 L454.5,1881.5 L458.7,1880.5 L462.9,1879.6 L467.1,1879.1 L471.3,1878.7 L475.5,1878.6 L479.7,1878.7 L483.9,1879.1 L488.1,1879.6 L492.3,1880.4 L496.5,1881.4 L500.7,1882.6 L505.0,1884.0 L509.2,1885.6 L513.4,1887.3 L517.6,1889.3 L521.8,1891.4 L526.0,1893.7 L530.2,1896.2 L534.4,1898.8 L538.6,1901.5 L542.8,1904.4 L547.0,1907.5 L551.2,1910.6 L555.4,1913.8 L559.7,1917.2 L563.9,1920.7 L568.1,1924.2 L572.3,1927.9 L576.5,1931.6 L580.7,1935.4 L584.9,1939.2 L589.1,1943.2 L593.3,1947.1 L597.5,1951.2 L601.7,1955.2 L605.9,1959.3 L610.1,1963.5 L614.4,1967.7 L618.6,1971.9 L622.8,1976.1 L627.0,1980.3 L631.2,1984.6 L635.4,1988.9 L639.6,1993.1 L643.8,1997.4 L648.0,2001.7 L652.2,2005.9 L656.4,2010.2 L660.6,2014.4 L664.8,2018.7 L669.1,2022.9 L673.3,2027.1 L677.5,2031.3 L681.7,2035.4 L685.9,2039.5 L690.1,2043.6 L694.3,2047.7 L698.5,2051.7 L702.7,2055.7 L706.9,2059.7 L711.1,2063.6 L715.3,2067.4 L719.5,2071.3 L723.8,2075.1 L728.0,2078.8 L732.2,2082.5 L736.4,2086.2 L740.6,2089.8 L744.8,2093.4 L749.0,2096.9 L753.2,2100.4 L757.4,2103.9 L761.6,2107.3 L765.8,2110.6 L770.0,2114.0 L774.2,2117.2 L778.5,2120.5 L782.7,2123.7 L786.9,2126.8 L791.1,2129.9 L795.3,2133.0 L799.5,2136.0 L803.7,2138.9 L807.9,2141.9 L812.1,2144.7 L816.3,2147.6 L820.5,2150.3 L824.7,2153.1 L828.9,2155.8 L833.2,2158.4 L837.4,2161.1 L841.6,2163.6 L845.8,2166.2 L850.0,2168.7 L854.2,2171.1 L858.4,2173.5 L862.6,2175.9 L866.8,2178.3 L871.0,2180.6 L875.2,2182.9 L879.4,2185.2 L883.6,2187.4 L887.9,2189.7 L892.1,2191.8 L896.3,2194.0 L900.5,2196.1 L904.7,2198.2 L908.9,2200.2 L913.1,2202.3 L917.3,2204.3 L921.5,2206.2 L925.7,2208.1 L929.9,2210.0 L934.1,2211.9 L938.3,2213.7 L942.6,2215.5 L946.8,2217.2 L951.0,2219.0 L955.2,2220.6 L959.4,2222.3 L963.6,2223.9 L967.8,2225.4 L972.0,2226.9 L976.2,2228.4 L980.4,2229.9 L984.6,2231.3 L988.8,2232.7 L993.0,2234.0 L997.3,2235.3 L1001.5,2236.6 L1005.7,2237.9 L1009.9,2239.1 L1014.1,2240.4 L1018.3,2241.6 L1022.5,2242.7 L1026.7,2243.9 L1030.9,2245.0 L1035.1,2246.1 L1039.3,2247.2 L1043.5,2248.2 L1047.7,2249.3 L1052.0,2250.3 L1056.2,2251.3 L1060.4,2252.3 L1064.6,2253.3 L1068.8,2254.2 L1073.0,2255.2 L1077.2,2256.1 L1081.4,2257.0 L1085.6,2257.9 L1089.8,2258.8 L1094.0,2259.6 L1098.2,2260.5 L1102.4,2261.3 L1106.7,2262.1 L1110.9,2262.9 L1115.1,2263.7 L1119.3,2264.4 L1123.5,2265.2 L1127.7,2265.9 L1131.9,2266.7 L1136.1,2267.4 L1140.3,2268.0 L1144.5,2268.7 L1148.7,2269.4 L1152.9,2270.0 L1157.1,2270.6 L1161.4,2271.3 L1165.6,2271.9 L1169.8,2272.4 L1174.0,2273.0 L1178.2,2273.6 L1182.4,2274.1 L1186.6,2274.6 L1190.8,2275.1 L1195.0,2275.6 L1199.2,2276.1 L1203.4,2276.6 L1207.6,2277.1 L1211.8,2277.5 L1216.1,2278.0 L1220.3,2278.4 L1224.5,2278.8 L1228.7,2279.2 L1232.9,2279.7 L1237.1,2280.1 L1241.3,2280.4 L1245.5,2280.8 L1249.7,2281.2 L1253.9,2281.6 L1258.1,2282.0 L1262.3,2282.3 L1266.5,2282.7 L1270.8,2283.0 L1275.0,2283.4 L1279.2,2283.7 L1283.4,2284.1 L1287.6,2284.4 L1291.8,2284.8 L1296.0,2285.1" fill="none" stroke="#515151" stroke-width="4.5" stroke-linejoin="round" stroke-linecap="round"/>
<path d="M202.0,2251.0 L206.2,2250.7 L210.4,2250.3 L214.6,2249.6 L218.8,2248.7 L223.0,2247.3 L227.2,2245.5 L231.5,2243.2 L235.7,2240.3 L239.9,2236.8 L244.1,2232.5 L248.3,2227.5 L252.5,2221.4 L256.7,2214.4 L260.9,2206.2 L265.1,2197.0 L269.3,2186.8 L273.5,2175.7 L277.7,2163.8 L281.9,2151.4 L286.2,2138.6 L290.4,2125.6 L294.6,2112.7 L298.8,2100.1 L303.0,2088.0 L307.2,2076.7 L311.4,2066.1 L315.6,2056.3 L319.8,2047.1 L324.0,2038.5 L328.2,2030.2 L332.4,2022.1 L336.6,2014.4 L340.9,2006.8 L345.1,1999.3 L349.3,1992.0 L353.5,1984.9 L357.7,1977.9 L361.9,1971.2 L366.1,1964.7 L370.3,1958.5 L374.5,1952.6 L378.7,1947.0 L382.9,1941.5 L387.1,1936.3 L391.3,1931.3 L395.6,1926.5 L399.8,1921.9 L404.0,1917.5 L408.2,1913.3 L412.4,1909.3 L416.6,1905.6 L420.8,1902.1 L425.0,1898.9 L429.2,1896.0 L433.4,1893.3 L437.6,1890.9 L441.8,1888.9 L446.0,1887.0 L450.3,1885.5 L454.5,1884.2 L458.7,1883.1 L462.9,1882.3 L467.1,1881.8 L471.3,1881.5 L475.5,1881.4 L479.7,1881.5 L483.9,1881.9 L488.1,1882.5 L492.3,1883.2 L496.5,1884.2 L500.7,1885.4 L505.0,1886.9 L509.2,1888.4 L513.4,1890.2 L517.6,1892.2 L521.8,1894.3 L526.0,1896.6 L530.2,1899.1 L534.4,1901.7 L538.6,1904.4 L542.8,1907.3 L547.0,1910.3 L551.2,1913.4 L555.4,1916.7 L559.7,1920.0 L563.9,1923.5 L568.1,1927.0 L572.3,1930.6 L576.5,1934.3 L580.7,1938.1 L584.9,1941.9 L589.1,1945.8 L593.3,1949.8 L597.5,1953.8 L601.7,1957.8 L605.9,1961.9 L610.1,1966.0 L614.4,1970.1 L618.6,1974.3 L622.8,1978.5 L627.0,1982.7 L631.2,1986.9 L635.4,1991.1 L639.6,1995.4 L643.8,1999.6 L648.0,2003.8 L652.2,2008.1 L656.4,2012.3 L660.6,2016.5 L664.8,2020.7 L669.1,2024.9 L673.3,2029.0 L677.5,2033.2 L681.7,2037.3 L685.9,2041.4 L690.1,2045.4 L694.3,2049.5 L698.5,2053.5 L702.7,2057.4 L706.9,2061.3 L711.1,2065.2 L715.3,2069.0 L719.5,2072.8 L723.8,2076.6 L728.0,2080.3 L732.2,2084.0 L736.4,2087.6 L740.6,2091.2 L744.8,2094.8 L749.0,2098.3 L753.2,2101.8 L757.4,2105.2 L761.6,2108.6 L765.8,2111.9 L770.0,2115.2 L774.2,2118.5 L778.5,2121.7 L782.7,2124.9 L786.9,2128.0 L791.1,2131.1 L795.3,2134.1 L799.5,2137.1 L803.7,2140.1 L807.9,2143.0 L812.1,2145.9 L816.3,2148.7 L820.5,2151.5 L824.7,2154.2 L828.9,2156.9 L833.2,2159.5 L837.4,2162.1 L841.6,2164.7 L845.8,2167.2 L850.0,2169.7 L854.2,2172.2 L858.4,2174.6 L862.6,2177.0 L866.8,2179.3 L871.0,2181.6 L875.2,2183.9 L879.4,2186.2 L883.6,2188.4 L887.9,2190.6 L892.1,2192.8 L896.3,2194.9 L900.5,2197.1 L904.7,2199.1 L908.9,2201.2 L913.1,2203.2 L917.3,2205.2 L921.5,2207.1 L925.7,2209.0 L929.9,2210.9 L934.1,2212.7 L938.3,2214.6 L942.6,2216.3 L946.8,2218.1 L951.0,2219.8 L955.2,2221.4 L959.4,2223.0 L963.6,2224.6 L967.8,2226.2 L972.0,2227.7 L976.2,2229.1 L980.4,2230.6 L984.6,2232.0 L988.8,2233.4 L993.0,2234.7 L997.3,2236.0 L1001.5,2237.3 L1005.7,2238.5 L1009.9,2239.8 L1014.1,2241.0 L1018.3,2242.2 L1022.5,2243.3 L1026.7,2244.4 L1030.9,2245.6 L1035.1,2246.6 L1039.3,2247.7 L1043.5,2248.8 L1047.7,2249.8 L1052.0,2250.8 L1056.2,2251.8 L1060.4,2252.8 L1064.6,2253.8 L1068.8,2254.7 L1073.0,2255.6 L1077.2,2256.5 L1081.4,2257.4 L1085.6,2258.3 L1089.8,2259.2 L1094.0,2260.0 L1098.2,2260.9 L1102.4,2261.7 L1106.7,2262.5 L1110.9,2263.3 L1115.1,2264.1 L1119.3,2264.8 L1123.5,2265.6 L1127.7,2266.3 L1131.9,2267.0 L1136.1,2267.7 L1140.3,2268.4 L1144.5,2269.1 L1148.7,2269.7 L1152.9,2270.3 L1157.1,2271.0 L1161.4,2271.6 L1165.6,2272.2 L1169.8,2272.8 L1174.0,2273.3 L1178.2,2273.9 L1182.4,2274.4 L1186.6,2274.9 L1190.8,2275.4 L1195.0,2275.9 L1199.2,2276.4 L1203.4,2276.9 L1207.6,2277.3 L1211.8,2277.8 L1216.1,2278.2 L1220.3,2278.7 L1224.5,2279.1 L1228.7,2279.5 L1232.9,2279.9 L1237.1,2280.3 L1241.3,2280.7 L1245.5,2281.1 L1249.7,2281.5 L1253.9,2281.8 L1258.1,2282.2 L1262.3,2282.6 L1266.5,2282.9 L1270.8,2283.3 L1275.0,2283.6 L1279.2,2284.0 L1283.4,2284.3 L1287.6,2284.6 L1291.8,2285.0 L1296.0,2285.3" fill="none" stroke="#F14040" stroke-width="4.5" stroke-linejoin="round" stroke-linecap="round"/>
<path d="M202.0,2250.3 L206.2,2250.0 L210.4,2249.6 L214.6,2248.9 L218.8,2248.0 L223.0,2246.6 L227.2,2244.8 L231.5,2242.5 L235.7,2239.6 L239.9,2236.0 L244.1,2231.7 L248.3,2226.6 L252.5,2220.5 L256.7,2213.4 L260.9,2205.2 L265.1,2195.9 L269.3,2185.7 L273.5,2174.6 L277.7,2162.6 L281.9,2150.1 L286.2,2137.1 L290.4,2124.1 L294.6,2111.1 L298.8,2098.4 L303.0,2086.3 L307.2,2074.9 L311.4,2064.3 L315.6,2054.5 L319.8,2045.3 L324.0,2036.6 L328.2,2028.2 L332.4,2020.1 L336.6,2012.2 L340.9,2004.4 L345.1,1996.8 L349.3,1989.4 L353.5,1982.1 L357.7,1975.0 L361.9,1968.1 L366.1,1961.5 L370.3,1955.1 L374.5,1949.1 L378.7,1943.2 L382.9,1937.7 L387.1,1932.3 L391.3,1927.2 L395.6,1922.2 L399.8,1917.5 L404.0,1912.9 L408.2,1908.5 L412.4,1904.4 L416.6,1900.5 L420.8,1896.9 L425.0,1893.5 L429.2,1890.5 L433.4,1887.7 L437.6,1885.2 L441.8,1883.0 L446.0,1881.0 L450.3,1879.4 L454.5,1878.0 L458.7,1876.8 L462.9,1876.0 L467.1,1875.3 L471.3,1875.0 L475.5,1874.8 L479.7,1874.9 L483.9,1875.2 L488.1,1875.8 L492.3,1876.5 L496.5,1877.5 L500.7,1878.7 L505.0,1880.0 L509.2,1881.6 L513.4,1883.4 L517.6,1885.4 L521.8,1887.5 L526.0,1889.8 L530.2,1892.2 L534.4,1894.9 L538.6,1897.6 L542.8,1900.5 L547.0,1903.6 L551.2,1906.7 L555.4,1910.0 L559.7,1913.4 L563.9,1916.9 L568.1,1920.4 L572.3,1924.1 L576.5,1927.9 L580.7,1931.7 L584.9,1935.6 L589.1,1939.5 L593.3,1943.6 L597.5,1947.6 L601.7,1951.7 L605.9,1955.9 L610.1,1960.1 L614.4,1964.3 L618.6,1968.6 L622.8,1972.8 L627.0,1977.1 L631.2,1981.4 L635.4,1985.7 L639.6,1990.1 L643.8,1994.4 L648.0,1998.7 L652.2,2003.0 L656.4,2007.3 L660.6,2011.6 L664.8,2015.9 L669.1,2020.2 L673.3,2024.4 L677.5,2028.7 L681.7,2032.9 L685.9,2037.0 L690.1,2041.2 L694.3,2045.3 L698.5,2049.3 L702.7,2053.4 L706.9,2057.4 L711.1,2061.3 L715.3,2065.3 L719.5,2069.1 L723.8,2073.0 L728.0,2076.8 L732.2,2080.5 L736.4,2084.2 L740.6,2087.9 L744.8,2091.5 L749.0,2095.1 L753.2,2098.6 L757.4,2102.1 L761.6,2105.5 L765.8,2108.9 L770.0,2112.2 L774.2,2115.6 L778.5,2118.8 L782.7,2122.0 L786.9,2125.2 L791.1,2128.3 L795.3,2131.4 L799.5,2134.4 L803.7,2137.4 L807.9,2140.3 L812.1,2143.2 L816.3,2146.0 L820.5,2148.8 L824.7,2151.6 L828.9,2154.3 L833.2,2157.0 L837.4,2159.6 L841.6,2162.2 L845.8,2164.7 L850.0,2167.2 L854.2,2169.7 L858.4,2172.1 L862.6,2174.5 L866.8,2176.9 L871.0,2179.2 L875.2,2181.6 L879.4,2183.8 L883.6,2186.1 L887.9,2188.3 L892.1,2190.5 L896.3,2192.7 L900.5,2194.8 L904.7,2196.9 L908.9,2199.0 L913.1,2201.0 L917.3,2203.0 L921.5,2205.0 L925.7,2206.9 L929.9,2208.9 L934.1,2210.7 L938.3,2212.6 L942.6,2214.4 L946.8,2216.1 L951.0,2217.9 L955.2,2219.6 L959.4,2221.2 L963.6,2222.8 L967.8,2224.4 L972.0,2225.9 L976.2,2227.4 L980.4,2228.9 L984.6,2230.3 L988.8,2231.7 L993.0,2233.1 L997.3,2234.5 L1001.5,2235.8 L1005.7,2237.0 L1009.9,2238.3 L1014.1,2239.5 L1018.3,2240.7 L1022.5,2241.9 L1026.7,2243.1 L1030.9,2244.2 L1035.1,2245.4 L1039.3,2246.4 L1043.5,2247.5 L1047.7,2248.6 L1052.0,2249.6 L1056.2,2250.6 L1060.4,2251.7 L1064.6,2252.6 L1068.8,2253.6 L1073.0,2254.6 L1077.2,2255.5 L1081.4,2256.4 L1085.6,2257.3 L1089.8,2258.2 L1094.0,2259.1 L1098.2,2259.9 L1102.4,2260.8 L1106.7,2261.6 L1110.9,2262.4 L1115.1,2263.2 L1119.3,2263.9 L1123.5,2264.7 L1127.7,2265.4 L1131.9,2266.2 L1136.1,2266.9 L1140.3,2267.6 L1144.5,2268.3 L1148.7,2268.9 L1152.9,2269.6 L1157.1,2270.2 L1161.4,2270.8 L1165.6,2271.4 L1169.8,2272.0 L1174.0,2272.6 L1178.2,2273.1 L1182.4,2273.7 L1186.6,2274.2 L1190.8,2274.7 L1195.0,2275.2 L1199.2,2275.7 L1203.4,2276.2 L1207.6,2276.7 L1211.8,2277.2 L1216.1,2277.6 L1220.3,2278.0 L1224.5,2278.5 L1228.7,2278.9 L1232.9,2279.3 L1237.1,2279.7 L1241.3,2280.1 L1245.5,2280.5 L1249.7,2280.9 L1253.9,2281.3 L1258.1,2281.6 L1262.3,2282.0 L1266.5,2282.4 L1270.8,2282.7 L1275.0,2283.1 L1279.2,2283.4 L1283.4,2283.8 L1287.6,2284.1 L1291.8,2284.5 L1296.0,2284.8" fill="none" stroke="#1A6FDF" stroke-width="4.5" stroke-linejoin="round" stroke-linecap="round"/>
<path d="M202.0,2249.6 L206.2,2249.2 L210.4,2248.8 L214.6,2248.2 L218.8,2247.2 L223.0,2245.9 L227.2,2244.1 L231.5,2241.7 L235.7,2238.8 L239.9,2235.2 L244.1,2230.9 L248.3,2225.7 L252.5,2219.6 L256.7,2212.4 L260.9,2204.2 L265.1,2194.9 L269.3,2184.6 L273.5,2173.4 L277.7,2161.3 L281.9,2148.7 L286.2,2135.7 L290.4,2122.5 L294.6,2109.4 L298.8,2096.7 L303.0,2084.5 L307.2,2073.1 L311.4,2062.5 L315.6,2052.7 L319.8,2043.4 L324.0,2034.6 L328.2,2026.1 L332.4,2017.9 L336.6,2009.9 L340.9,2002.0 L345.1,1994.3 L349.3,1986.7 L353.5,1979.2 L357.7,1971.9 L361.9,1964.9 L366.1,1958.1 L370.3,1951.6 L374.5,1945.4 L378.7,1939.4 L382.9,1933.7 L387.1,1928.2 L391.3,1922.9 L395.6,1917.8 L399.8,1912.8 L404.0,1908.1 L408.2,1903.6 L412.4,1899.3 L416.6,1895.3 L420.8,1891.5 L425.0,1888.0 L429.2,1884.7 L433.4,1881.8 L437.6,1879.2 L441.8,1876.8 L446.0,1874.8 L450.3,1873.0 L454.5,1871.5 L458.7,1870.3 L462.9,1869.3 L467.1,1868.7 L471.3,1868.2 L475.5,1868.0 L479.7,1868.0 L483.9,1868.3 L488.1,1868.8 L492.3,1869.5 L496.5,1870.5 L500.7,1871.6 L505.0,1873.0 L509.2,1874.5 L513.4,1876.3 L517.6,1878.3 L521.8,1880.4 L526.0,1882.7 L530.2,1885.2 L534.4,1887.8 L538.6,1890.6 L542.8,1893.5 L547.0,1896.5 L551.2,1899.7 L555.4,1903.0 L559.7,1906.5 L563.9,1910.0 L568.1,1913.6 L572.3,1917.4 L576.5,1921.2 L580.7,1925.1 L584.9,1929.0 L589.1,1933.0 L593.3,1937.1 L597.5,1941.3 L601.7,1945.5 L605.9,1949.7 L610.1,1954.0 L614.4,1958.3 L618.6,1962.6 L622.8,1967.0 L627.0,1971.3 L631.2,1975.7 L635.4,1980.1 L639.6,1984.5 L643.8,1989.0 L648.0,1993.4 L652.2,1997.8 L656.4,2002.2 L660.6,2006.6 L664.8,2010.9 L669.1,2015.3 L673.3,2019.6 L677.5,2024.0 L681.7,2028.2 L685.9,2032.5 L690.1,2036.7 L694.3,2040.9 L698.5,2045.1 L702.7,2049.2 L706.9,2053.3 L711.1,2057.3 L715.3,2061.3 L719.5,2065.3 L723.8,2069.2 L728.0,2073.1 L732.2,2076.9 L736.4,2080.7 L740.6,2084.4 L744.8,2088.1 L749.0,2091.7 L753.2,2095.3 L757.4,2098.8 L761.6,2102.3 L765.8,2105.8 L770.0,2109.2 L774.2,2112.5 L778.5,2115.8 L782.7,2119.1 L786.9,2122.3 L791.1,2125.4 L795.3,2128.5 L799.5,2131.6 L803.7,2134.6 L807.9,2137.5 L812.1,2140.5 L816.3,2143.3 L820.5,2146.1 L824.7,2148.9 L828.9,2151.6 L833.2,2154.3 L837.4,2157.0 L841.6,2159.6 L845.8,2162.1 L850.0,2164.6 L854.2,2167.1 L858.4,2169.6 L862.6,2172.0 L866.8,2174.4 L871.0,2176.8 L875.2,2179.1 L879.4,2181.4 L883.6,2183.7 L887.9,2185.9 L892.1,2188.1 L896.3,2190.3 L900.5,2192.5 L904.7,2194.6 L908.9,2196.7 L913.1,2198.8 L917.3,2200.8 L921.5,2202.8 L925.7,2204.8 L929.9,2206.7 L934.1,2208.6 L938.3,2210.5 L942.6,2212.3 L946.8,2214.1 L951.0,2215.9 L955.2,2217.6 L959.4,2219.3 L963.6,2221.0 L967.8,2222.6 L972.0,2224.1 L976.2,2225.7 L980.4,2227.2 L984.6,2228.6 L988.8,2230.1 L993.0,2231.5 L997.3,2232.8 L1001.5,2234.2 L1005.7,2235.5 L1009.9,2236.8 L1014.1,2238.0 L1018.3,2239.3 L1022.5,2240.5 L1026.7,2241.7 L1030.9,2242.9 L1035.1,2244.0 L1039.3,2245.1 L1043.5,2246.2 L1047.7,2247.3 L1052.0,2248.4 L1056.2,2249.4 L1060.4,2250.5 L1064.6,2251.5 L1068.8,2252.5 L1073.0,2253.4 L1077.2,2254.4 L1081.4,2255.3 L1085.6,2256.2 L1089.8,2257.2 L1094.0,2258.0 L1098.2,2258.9 L1102.4,2259.8 L1106.7,2260.6 L1110.9,2261.4 L1115.1,2262.2 L1119.3,2263.0 L1123.5,2263.8 L1127.7,2264.6 L1131.9,2265.3 L1136.1,2266.0 L1140.3,2266.7 L1144.5,2267.4 L1148.7,2268.1 L1152.9,2268.8 L1157.1,2269.4 L1161.4,2270.0 L1165.6,2270.6 L1169.8,2271.2 L1174.0,2271.8 L1178.2,2272.4 L1182.4,2273.0 L1186.6,2273.5 L1190.8,2274.0 L1195.0,2274.5 L1199.2,2275.0 L1203.4,2275.5 L1207.6,2276.0 L1211.8,2276.5 L1216.1,2276.9 L1220.3,2277.4 L1224.5,2277.8 L1228.7,2278.2 L1232.9,2278.7 L1237.1,2279.1 L1241.3,2279.5 L1245.5,2279.9 L1249.7,2280.3 L1253.9,2280.7 L1258.1,2281.0 L1262.3,2281.4 L1266.5,2281.8 L1270.8,2282.1 L1275.0,2282.5 L1279.2,2282.9 L1283.4,2283.2 L1287.6,2283.6 L1291.8,2283.9 L1296.0,2284.3" fill="none" stroke="#37AD6B" stroke-width="4.5" stroke-linejoin="round" stroke-linecap="round"/>
<path d="M202.0,2247.7 L206.2,2247.4 L210.4,2247.0 L214.6,2246.4 L218.8,2245.5 L223.0,2244.1 L227.2,2242.3 L231.5,2239.9 L235.7,2236.8 L239.9,2233.2 L244.1,2228.8 L248.3,2223.5 L252.5,2217.3 L256.7,2210.1 L260.9,2201.7 L265.1,2192.3 L269.3,2181.9 L273.5,2170.5 L277.7,2158.2 L281.9,2145.3 L286.2,2132.0 L290.4,2118.6 L294.6,2105.4 L298.8,2092.5 L303.0,2080.2 L307.2,2068.7 L311.4,2058.1 L315.6,2048.2 L319.8,2038.8 L324.0,2029.8 L328.2,2021.1 L332.4,2012.7 L336.6,2004.4 L340.9,1996.2 L345.1,1988.1 L349.3,1980.1 L353.5,1972.2 L357.7,1964.6 L361.9,1957.1 L366.1,1949.9 L370.3,1943.0 L374.5,1936.4 L378.7,1930.0 L382.9,1923.9 L387.1,1918.1 L391.3,1912.4 L395.6,1906.9 L399.8,1901.6 L404.0,1896.5 L408.2,1891.6 L412.4,1886.9 L416.6,1882.5 L420.8,1878.3 L425.0,1874.4 L429.2,1870.8 L433.4,1867.5 L437.6,1864.6 L441.8,1861.9 L446.0,1859.6 L450.3,1857.6 L454.5,1855.8 L458.7,1854.4 L462.9,1853.3 L467.1,1852.4 L471.3,1851.8 L475.5,1851.4 L479.7,1851.4 L483.9,1851.5 L488.1,1851.9 L492.3,1852.5 L496.5,1853.4 L500.7,1854.5 L505.0,1855.8 L509.2,1857.3 L513.4,1859.1 L517.6,1861.0 L521.8,1863.1 L526.0,1865.4 L530.2,1867.9 L534.4,1870.6 L538.6,1873.4 L542.8,1876.4 L547.0,1879.5 L551.2,1882.8 L555.4,1886.2 L559.7,1889.7 L563.9,1893.3 L568.1,1897.1 L572.3,1900.9 L576.5,1904.9 L580.7,1908.9 L584.9,1913.0 L589.1,1917.2 L593.3,1921.5 L597.5,1925.8 L601.7,1930.2 L605.9,1934.6 L610.1,1939.1 L614.4,1943.6 L618.6,1948.1 L622.8,1952.7 L627.0,1957.3 L631.2,1961.9 L635.4,1966.5 L639.6,1971.1 L643.8,1975.8 L648.0,1980.4 L652.2,1985.0 L656.4,1989.6 L660.6,1994.2 L664.8,1998.8 L669.1,2003.4 L673.3,2008.0 L677.5,2012.5 L681.7,2017.0 L685.9,2021.5 L690.1,2026.0 L694.3,2030.4 L698.5,2034.7 L702.7,2039.1 L706.9,2043.3 L711.1,2047.6 L715.3,2051.8 L719.5,2055.9 L723.8,2060.0 L728.0,2064.1 L732.2,2068.1 L736.4,2072.0 L740.6,2075.9 L744.8,2079.8 L749.0,2083.6 L753.2,2087.3 L757.4,2091.0 L761.6,2094.6 L765.8,2098.2 L770.0,2101.7 L774.2,2105.1 L778.5,2108.5 L782.7,2111.9 L786.9,2115.2 L791.1,2118.4 L795.3,2121.6 L799.5,2124.7 L803.7,2127.8 L807.9,2130.8 L812.1,2133.8 L816.3,2136.7 L820.5,2139.6 L824.7,2142.4 L828.9,2145.2 L833.2,2147.9 L837.4,2150.6 L841.6,2153.2 L845.8,2155.8 L850.0,2158.4 L854.2,2160.9 L858.4,2163.4 L862.6,2165.9 L866.8,2168.3 L871.0,2170.7 L875.2,2173.1 L879.4,2175.4 L883.6,2177.8 L887.9,2180.1 L892.1,2182.3 L896.3,2184.6 L900.5,2186.8 L904.7,2189.0 L908.9,2191.2 L913.1,2193.3 L917.3,2195.4 L921.5,2197.5 L925.7,2199.5 L929.9,2201.5 L934.1,2203.5 L938.3,2205.5 L942.6,2207.4 L946.8,2209.3 L951.0,2211.1 L955.2,2212.9 L959.4,2214.7 L963.6,2216.4 L967.8,2218.1 L972.0,2219.8 L976.2,2221.4 L980.4,2222.9 L984.6,2224.5 L988.8,2226.0 L993.0,2227.5 L997.3,2228.9 L1001.5,2230.3 L1005.7,2231.7 L1009.9,2233.1 L1014.1,2234.4 L1018.3,2235.7 L1022.5,2237.0 L1026.7,2238.3 L1030.9,2239.5 L1035.1,2240.7 L1039.3,2241.9 L1043.5,2243.1 L1047.7,2244.2 L1052.0,2245.4 L1056.2,2246.5 L1060.4,2247.6 L1064.6,2248.6 L1068.8,2249.7 L1073.0,2250.7 L1077.2,2251.7 L1081.4,2252.7 L1085.6,2253.7 L1089.8,2254.6 L1094.0,2255.6 L1098.2,2256.5 L1102.4,2257.4 L1106.7,2258.3 L1110.9,2259.1 L1115.1,2260.0 L1119.3,2260.8 L1123.5,2261.6 L1127.7,2262.4 L1131.9,2263.2 L1136.1,2263.9 L1140.3,2264.7 L1144.5,2265.4 L1148.7,2266.1 L1152.9,2266.8 L1157.1,2267.5 L1161.4,2268.1 L1165.6,2268.8 L1169.8,2269.4 L1174.0,2270.0 L1178.2,2270.6 L1182.4,2271.2 L1186.6,2271.7 L1190.8,2272.3 L1195.0,2272.8 L1199.2,2273.4 L1203.4,2273.9 L1207.6,2274.4 L1211.8,2274.8 L1216.1,2275.3 L1220.3,2275.8 L1224.5,2276.2 L1228.7,2276.7 L1232.9,2277.1 L1237.1,2277.6 L1241.3,2278.0 L1245.5,2278.4 L1249.7,2278.8 L1253.9,2279.2 L1258.1,2279.6 L1262.3,2280.0 L1266.5,2280.4 L1270.8,2280.7 L1275.0,2281.1 L1279.2,2281.5 L1283.4,2281.9 L1287.6,2282.2 L1291.8,2282.6 L1296.0,2283.0" fill="none" stroke="#B177DE" stroke-width="4.5" stroke-linejoin="round" stroke-linecap="round"/>
<path d="M202.0,2247.3 L206.2,2247.0 L210.4,2246.6 L214.6,2246.0 L218.8,2245.1 L223.0,2243.7 L227.2,2241.8 L231.5,2239.4 L235.7,2236.4 L239.9,2232.7 L244.1,2228.3 L248.3,2223.0 L252.5,2216.8 L256.7,2209.5 L260.9,2201.1 L265.1,2191.7 L269.3,2181.2 L273.5,2169.8 L277.7,2157.5 L281.9,2144.5 L286.2,2131.2 L290.4,2117.7 L294.6,2104.4 L298.8,2091.5 L303.0,2079.2 L307.2,2067.7 L311.4,2057.0 L315.6,2047.1 L319.8,2037.7 L324.0,2028.7 L328.2,2019.9 L332.4,2011.4 L336.6,2003.0 L340.9,1994.8 L345.1,1986.6 L349.3,1978.5 L353.5,1970.5 L357.7,1962.8 L361.9,1955.2 L366.1,1947.9 L370.3,1940.9 L374.5,1934.2 L378.7,1927.8 L382.9,1921.6 L387.1,1915.6 L391.3,1909.9 L395.6,1904.3 L399.8,1898.9 L404.0,1893.7 L408.2,1888.7 L412.4,1883.9 L416.6,1879.4 L420.8,1875.1 L425.0,1871.1 L429.2,1867.4 L433.4,1864.1 L437.6,1861.0 L441.8,1858.3 L446.0,1855.9 L450.3,1853.8 L454.5,1852.1 L458.7,1850.6 L462.9,1849.4 L467.1,1848.5 L471.3,1847.8 L475.5,1847.4 L479.7,1847.3 L483.9,1847.4 L488.1,1847.8 L492.3,1848.4 L496.5,1849.3 L500.7,1850.3 L505.0,1851.6 L509.2,1853.2 L513.4,1854.9 L517.6,1856.8 L521.8,1858.9 L526.0,1861.3 L530.2,1863.8 L534.4,1866.4 L538.6,1869.3 L542.8,1872.2 L547.0,1875.4 L551.2,1878.7 L555.4,1882.1 L559.7,1885.6 L563.9,1889.3 L568.1,1893.1 L572.3,1897.0 L576.5,1901.0 L580.7,1905.0 L584.9,1909.2 L589.1,1913.4 L593.3,1917.7 L597.5,1922.1 L601.7,1926.5 L605.9,1931.0 L610.1,1935.5 L614.4,1940.0 L618.6,1944.6 L622.8,1949.2 L627.0,1953.9 L631.2,1958.5 L635.4,1963.2 L639.6,1967.9 L643.8,1972.6 L648.0,1977.3 L652.2,1981.9 L656.4,1986.6 L660.6,1991.3 L664.8,1995.9 L669.1,2000.6 L673.3,2005.2 L677.5,2009.8 L681.7,2014.3 L685.9,2018.8 L690.1,2023.3 L694.3,2027.8 L698.5,2032.2 L702.7,2036.6 L706.9,2040.9 L711.1,2045.2 L715.3,2049.5 L719.5,2053.7 L723.8,2057.8 L728.0,2061.9 L732.2,2066.0 L736.4,2070.0 L740.6,2073.9 L744.8,2077.8 L749.0,2081.6 L753.2,2085.3 L757.4,2089.1 L761.6,2092.7 L765.8,2096.3 L770.0,2099.8 L774.2,2103.3 L778.5,2106.8 L782.7,2110.1 L786.9,2113.4 L791.1,2116.7 L795.3,2119.9 L799.5,2123.0 L803.7,2126.1 L807.9,2129.2 L812.1,2132.2 L816.3,2135.1 L820.5,2138.0 L824.7,2140.8 L828.9,2143.6 L833.2,2146.3 L837.4,2149.0 L841.6,2151.7 L845.8,2154.3 L850.0,2156.9 L854.2,2159.4 L858.4,2161.9 L862.6,2164.4 L866.8,2166.8 L871.0,2169.2 L875.2,2171.6 L879.4,2174.0 L883.6,2176.3 L887.9,2178.7 L892.1,2180.9 L896.3,2183.2 L900.5,2185.4 L904.7,2187.6 L908.9,2189.8 L913.1,2192.0 L917.3,2194.1 L921.5,2196.2 L925.7,2198.3 L929.9,2200.3 L934.1,2202.3 L938.3,2204.3 L942.6,2206.2 L946.8,2208.1 L951.0,2210.0 L955.2,2211.8 L959.4,2213.6 L963.6,2215.3 L967.8,2217.0 L972.0,2218.7 L976.2,2220.3 L980.4,2221.9 L984.6,2223.5 L988.8,2225.0 L993.0,2226.5 L997.3,2228.0 L1001.5,2229.4 L1005.7,2230.8 L1009.9,2232.2 L1014.1,2233.5 L1018.3,2234.9 L1022.5,2236.2 L1026.7,2237.4 L1030.9,2238.7 L1035.1,2239.9 L1039.3,2241.1 L1043.5,2242.3 L1047.7,2243.5 L1052.0,2244.6 L1056.2,2245.8 L1060.4,2246.9 L1064.6,2247.9 L1068.8,2249.0 L1073.0,2250.0 L1077.2,2251.1 L1081.4,2252.1 L1085.6,2253.1 L1089.8,2254.0 L1094.0,2255.0 L1098.2,2255.9 L1102.4,2256.8 L1106.7,2257.7 L1110.9,2258.6 L1115.1,2259.4 L1119.3,2260.3 L1123.5,2261.1 L1127.7,2261.9 L1131.9,2262.7 L1136.1,2263.4 L1140.3,2264.2 L1144.5,2264.9 L1148.7,2265.6 L1152.9,2266.3 L1157.1,2267.0 L1161.4,2267.7 L1165.6,2268.3 L1169.8,2268.9 L1174.0,2269.6 L1178.2,2270.2 L1182.4,2270.7 L1186.6,2271.3 L1190.8,2271.9 L1195.0,2272.4 L1199.2,2272.9 L1203.4,2273.5 L1207.6,2274.0 L1211.8,2274.5 L1216.1,2274.9 L1220.3,2275.4 L1224.5,2275.9 L1228.7,2276.3 L1232.9,2276.8 L1237.1,2277.2 L1241.3,2277.6 L1245.5,2278.0 L1249.7,2278.4 L1253.9,2278.9 L1258.1,2279.2 L1262.3,2279.6 L1266.5,2280.0 L1270.8,2280.4 L1275.0,2280.8 L1279.2,2281.2 L1283.4,2281.5 L1287.6,2281.9 L1291.8,2282.3 L1296.0,2282.7" fill="none" stroke="#CC9900" stroke-width="4.5" stroke-linejoin="round" stroke-linecap="round"/>
<path d="M202.0,2246.9 L206.2,2246.7 L210.4,2246.3 L214.6,2245.7 L218.8,2244.8 L223.0,2243.4 L227.2,2241.5 L231.5,2239.1 L235.7,2236.0 L239.9,2232.3 L244.1,2227.9 L248.3,2222.6 L252.5,2216.4 L256.7,2209.1 L260.9,2200.7 L265.1,2191.2 L269.3,2180.7 L273.5,2169.3 L277.7,2156.9 L281.9,2143.9 L286.2,2130.5 L290.4,2117.0 L294.6,2103.7 L298.8,2090.7 L303.0,2078.4 L307.2,2066.9 L311.4,2056.2 L315.6,2046.3 L319.8,2036.8 L324.0,2027.8 L328.2,2019.0 L332.4,2010.5 L336.6,2002.0 L340.9,1993.7 L345.1,1985.4 L349.3,1977.3 L353.5,1969.3 L357.7,1961.4 L361.9,1953.8 L366.1,1946.4 L370.3,1939.3 L374.5,1932.6 L378.7,1926.1 L382.9,1919.8 L387.1,1913.8 L391.3,1908.0 L395.6,1902.4 L399.8,1896.9 L404.0,1891.6 L408.2,1886.5 L412.4,1881.7 L416.6,1877.1 L420.8,1872.7 L425.0,1868.7 L429.2,1864.9 L433.4,1861.5 L437.6,1858.4 L441.8,1855.6 L446.0,1853.2 L450.3,1851.0 L454.5,1849.2 L458.7,1847.7 L462.9,1846.5 L467.1,1845.5 L471.3,1844.8 L475.5,1844.4 L479.7,1844.3 L483.9,1844.4 L488.1,1844.7 L492.3,1845.3 L496.5,1846.2 L500.7,1847.2 L505.0,1848.5 L509.2,1850.0 L513.4,1851.8 L517.6,1853.7 L521.8,1855.8 L526.0,1858.1 L530.2,1860.6 L534.4,1863.3 L538.6,1866.1 L542.8,1869.1 L547.0,1872.3 L551.2,1875.6 L555.4,1879.0 L559.7,1882.6 L563.9,1886.3 L568.1,1890.1 L572.3,1894.0 L576.5,1898.0 L580.7,1902.1 L584.9,1906.3 L589.1,1910.5 L593.3,1914.9 L597.5,1919.3 L601.7,1923.7 L605.9,1928.2 L610.1,1932.8 L614.4,1937.4 L618.6,1942.0 L622.8,1946.6 L627.0,1951.3 L631.2,1956.0 L635.4,1960.7 L639.6,1965.5 L643.8,1970.2 L648.0,1974.9 L652.2,1979.6 L656.4,1984.3 L660.6,1989.0 L664.8,1993.7 L669.1,1998.4 L673.3,2003.1 L677.5,2007.7 L681.7,2012.3 L685.9,2016.9 L690.1,2021.4 L694.3,2025.9 L698.5,2030.3 L702.7,2034.8 L706.9,2039.1 L711.1,2043.5 L715.3,2047.7 L719.5,2052.0 L723.8,2056.2 L728.0,2060.3 L732.2,2064.4 L736.4,2068.4 L740.6,2072.3 L744.8,2076.3 L749.0,2080.1 L753.2,2083.9 L757.4,2087.6 L761.6,2091.3 L765.8,2094.9 L770.0,2098.5 L774.2,2102.0 L778.5,2105.4 L782.7,2108.8 L786.9,2112.1 L791.1,2115.4 L795.3,2118.6 L799.5,2121.8 L803.7,2124.9 L807.9,2127.9 L812.1,2130.9 L816.3,2133.9 L820.5,2136.8 L824.7,2139.6 L828.9,2142.4 L833.2,2145.2 L837.4,2147.9 L841.6,2150.5 L845.8,2153.1 L850.0,2155.7 L854.2,2158.3 L858.4,2160.8 L862.6,2163.3 L866.8,2165.7 L871.0,2168.1 L875.2,2170.5 L879.4,2172.9 L883.6,2175.3 L887.9,2177.6 L892.1,2179.9 L896.3,2182.2 L900.5,2184.4 L904.7,2186.6 L908.9,2188.8 L913.1,2191.0 L917.3,2193.1 L921.5,2195.2 L925.7,2197.3 L929.9,2199.3 L934.1,2201.4 L938.3,2203.3 L942.6,2205.3 L946.8,2207.2 L951.0,2209.1 L955.2,2210.9 L959.4,2212.7 L963.6,2214.5 L967.8,2216.2 L972.0,2217.9 L976.2,2219.5 L980.4,2221.2 L984.6,2222.7 L988.8,2224.3 L993.0,2225.8 L997.3,2227.3 L1001.5,2228.7 L1005.7,2230.1 L1009.9,2231.5 L1014.1,2232.9 L1018.3,2234.2 L1022.5,2235.5 L1026.7,2236.8 L1030.9,2238.1 L1035.1,2239.3 L1039.3,2240.6 L1043.5,2241.8 L1047.7,2242.9 L1052.0,2244.1 L1056.2,2245.2 L1060.4,2246.3 L1064.6,2247.4 L1068.8,2248.5 L1073.0,2249.6 L1077.2,2250.6 L1081.4,2251.6 L1085.6,2252.6 L1089.8,2253.6 L1094.0,2254.5 L1098.2,2255.4 L1102.4,2256.4 L1106.7,2257.3 L1110.9,2258.1 L1115.1,2259.0 L1119.3,2259.8 L1123.5,2260.7 L1127.7,2261.5 L1131.9,2262.3 L1136.1,2263.0 L1140.3,2263.8 L1144.5,2264.5 L1148.7,2265.3 L1152.9,2266.0 L1157.1,2266.6 L1161.4,2267.3 L1165.6,2268.0 L1169.8,2268.6 L1174.0,2269.2 L1178.2,2269.8 L1182.4,2270.4 L1186.6,2271.0 L1190.8,2271.6 L1195.0,2272.1 L1199.2,2272.6 L1203.4,2273.2 L1207.6,2273.7 L1211.8,2274.2 L1216.1,2274.6 L1220.3,2275.1 L1224.5,2275.6 L1228.7,2276.0 L1232.9,2276.5 L1237.1,2276.9 L1241.3,2277.3 L1245.5,2277.8 L1249.7,2278.2 L1253.9,2278.6 L1258.1,2279.0 L1262.3,2279.4 L1266.5,2279.8 L1270.8,2280.2 L1275.0,2280.5 L1279.2,2280.9 L1283.4,2281.3 L1287.6,2281.7 L1291.8,2282.0 L1296.0,2282.4" fill="none" stroke="#00CBCC" stroke-width="4.5" stroke-linejoin="round" stroke-linecap="round"/>
<path d="M202.0,2247.0 L206.2,2246.7 L210.4,2246.3 L214.6,2245.7 L218.8,2244.8 L223.0,2243.4 L227.2,2241.6 L231.5,2239.1 L235.7,2236.1 L239.9,2232.4 L244.1,2228.0 L248.3,2222.7 L252.5,2216.4 L256.7,2209.1 L260.9,2200.8 L265.1,2191.3 L269.3,2180.8 L273.5,2169.4 L277.7,2157.0 L281.9,2144.0 L286.2,2130.6 L290.4,2117.1 L294.6,2103.8 L298.8,2090.8 L303.0,2078.5 L307.2,2067.0 L311.4,2056.3 L315.6,2046.4 L319.8,2037.0 L324.0,2028.0 L328.2,2019.2 L332.4,2010.6 L336.6,2002.2 L340.9,1993.9 L345.1,1985.6 L349.3,1977.5 L353.5,1969.5 L357.7,1961.6 L361.9,1954.0 L366.1,1946.7 L370.3,1939.6 L374.5,1932.8 L378.7,1926.4 L382.9,1920.1 L387.1,1914.1 L391.3,1908.3 L395.6,1902.7 L399.8,1897.2 L404.0,1892.0 L408.2,1886.9 L412.4,1882.0 L416.6,1877.4 L420.8,1873.1 L425.0,1869.1 L429.2,1865.3 L433.4,1861.9 L437.6,1858.8 L441.8,1856.1 L446.0,1853.6 L450.3,1851.5 L454.5,1849.7 L458.7,1848.2 L462.9,1846.9 L467.1,1846.0 L471.3,1845.3 L475.5,1844.9 L479.7,1844.8 L483.9,1844.9 L488.1,1845.3 L492.3,1845.9 L496.5,1846.7 L500.7,1847.8 L505.0,1849.0 L509.2,1850.6 L513.4,1852.3 L517.6,1854.2 L521.8,1856.3 L526.0,1858.6 L530.2,1861.1 L534.4,1863.8 L538.6,1866.7 L542.8,1869.7 L547.0,1872.8 L551.2,1876.1 L555.4,1879.5 L559.7,1883.1 L563.9,1886.8 L568.1,1890.6 L572.3,1894.5 L576.5,1898.5 L580.7,1902.6 L584.9,1906.8 L589.1,1911.0 L593.3,1915.3 L597.5,1919.7 L601.7,1924.2 L605.9,1928.7 L610.1,1933.2 L614.4,1937.8 L618.6,1942.4 L622.8,1947.1 L627.0,1951.7 L631.2,1956.4 L635.4,1961.1 L639.6,1965.9 L643.8,1970.6 L648.0,1975.3 L652.2,1980.0 L656.4,1984.7 L660.6,1989.4 L664.8,1994.1 L669.1,1998.8 L673.3,2003.4 L677.5,2008.0 L681.7,2012.6 L685.9,2017.2 L690.1,2021.7 L694.3,2026.2 L698.5,2030.7 L702.7,2035.1 L706.9,2039.4 L711.1,2043.8 L715.3,2048.0 L719.5,2052.3 L723.8,2056.4 L728.0,2060.6 L732.2,2064.6 L736.4,2068.6 L740.6,2072.6 L744.8,2076.5 L749.0,2080.4 L753.2,2084.1 L757.4,2087.9 L761.6,2091.5 L765.8,2095.2 L770.0,2098.7 L774.2,2102.2 L778.5,2105.7 L782.7,2109.0 L786.9,2112.4 L791.1,2115.6 L795.3,2118.8 L799.5,2122.0 L803.7,2125.1 L807.9,2128.2 L812.1,2131.1 L816.3,2134.1 L820.5,2137.0 L824.7,2139.8 L828.9,2142.6 L833.2,2145.4 L837.4,2148.1 L841.6,2150.7 L845.8,2153.3 L850.0,2155.9 L854.2,2158.5 L858.4,2161.0 L862.6,2163.4 L866.8,2165.9 L871.0,2168.3 L875.2,2170.7 L879.4,2173.1 L883.6,2175.4 L887.9,2177.8 L892.1,2180.1 L896.3,2182.3 L900.5,2184.6 L904.7,2186.8 L908.9,2189.0 L913.1,2191.1 L917.3,2193.3 L921.5,2195.4 L925.7,2197.5 L929.9,2199.5 L934.1,2201.5 L938.3,2203.5 L942.6,2205.4 L946.8,2207.4 L951.0,2209.2 L955.2,2211.1 L959.4,2212.9 L963.6,2214.6 L967.8,2216.3 L972.0,2218.0 L976.2,2219.7 L980.4,2221.3 L984.6,2222.9 L988.8,2224.4 L993.0,2225.9 L997.3,2227.4 L1001.5,2228.8 L1005.7,2230.2 L1009.9,2231.6 L1014.1,2233.0 L1018.3,2234.3 L1022.5,2235.6 L1026.7,2236.9 L1030.9,2238.2 L1035.1,2239.4 L1039.3,2240.7 L1043.5,2241.9 L1047.7,2243.0 L1052.0,2244.2 L1056.2,2245.3 L1060.4,2246.4 L1064.6,2247.5 L1068.8,2248.6 L1073.0,2249.6 L1077.2,2250.7 L1081.4,2251.7 L1085.6,2252.7 L1089.8,2253.6 L1094.0,2254.6 L1098.2,2255.5 L1102.4,2256.4 L1106.7,2257.3 L1110.9,2258.2 L1115.1,2259.1 L1119.3,2259.9 L1123.5,2260.7 L1127.7,2261.5 L1131.9,2262.3 L1136.1,2263.1 L1140.3,2263.9 L1144.5,2264.6 L1148.7,2265.3 L1152.9,2266.0 L1157.1,2266.7 L1161.4,2267.4 L1165.6,2268.0 L1169.8,2268.7 L1174.0,2269.3 L1178.2,2269.9 L1182.4,2270.5 L1186.6,2271.0 L1190.8,2271.6 L1195.0,2272.2 L1199.2,2272.7 L1203.4,2273.2 L1207.6,2273.7 L1211.8,2274.2 L1216.1,2274.7 L1220.3,2275.2 L1224.5,2275.6 L1228.7,2276.1 L1232.9,2276.5 L1237.1,2277.0 L1241.3,2277.4 L1245.5,2277.8 L1249.7,2278.2 L1253.9,2278.6 L1258.1,2279.0 L1262.3,2279.4 L1266.5,2279.8 L1270.8,2280.2 L1275.0,2280.6 L1279.2,2281.0 L1283.4,2281.3 L1287.6,2281.7 L1291.8,2282.1 L1296.0,2282.5" fill="none" stroke="#7D4E4E" stroke-width="4.5" stroke-linejoin="round" stroke-linecap="round"/>
<path d="M202.0,2245.9 L206.2,2245.7 L210.4,2245.3 L214.6,2244.7 L218.8,2243.8 L223.0,2242.4 L227.2,2240.5 L231.5,2238.1 L235.7,2235.0 L239.9,2231.2 L244.1,2226.8 L248.3,2221.4 L252.5,2215.1 L256.7,2207.8 L260.9,2199.3 L265.1,2189.8 L269.3,2179.3 L273.5,2167.7 L277.7,2155.2 L281.9,2142.1 L286.2,2128.5 L290.4,2114.9 L294.6,2101.4 L298.8,2088.4 L303.0,2076.0 L307.2,2064.5 L311.4,2053.8 L315.6,2043.8 L319.8,2034.3 L324.0,2025.2 L328.2,2016.3 L332.4,2007.6 L336.6,1999.0 L340.9,1990.5 L345.1,1982.0 L349.3,1973.7 L353.5,1965.5 L357.7,1957.4 L361.9,1949.6 L366.1,1942.0 L370.3,1934.7 L374.5,1927.7 L378.7,1921.0 L382.9,1914.5 L387.1,1908.3 L391.3,1902.3 L395.6,1896.5 L399.8,1890.8 L404.0,1885.3 L408.2,1880.0 L412.4,1874.9 L416.6,1870.1 L420.8,1865.5 L425.0,1861.3 L429.2,1857.3 L433.4,1853.7 L437.6,1850.4 L441.8,1847.5 L446.0,1844.9 L450.3,1842.6 L454.5,1840.7 L458.7,1839.0 L462.9,1837.7 L467.1,1836.7 L471.3,1835.9 L475.5,1835.4 L479.7,1835.2 L483.9,1835.3 L488.1,1835.6 L492.3,1836.1 L496.5,1836.9 L500.7,1837.9 L505.0,1839.2 L509.2,1840.7 L513.4,1842.4 L517.6,1844.3 L521.8,1846.4 L526.0,1848.7 L530.2,1851.2 L534.4,1853.9 L538.6,1856.8 L542.8,1859.8 L547.0,1863.0 L551.2,1866.4 L555.4,1869.8 L559.7,1873.5 L563.9,1877.2 L568.1,1881.1 L572.3,1885.1 L576.5,1889.1 L580.7,1893.3 L584.9,1897.6 L589.1,1901.9 L593.3,1906.4 L597.5,1910.9 L601.7,1915.4 L605.9,1920.0 L610.1,1924.7 L614.4,1929.4 L618.6,1934.1 L622.8,1938.9 L627.0,1943.7 L631.2,1948.5 L635.4,1953.3 L639.6,1958.2 L643.8,1963.0 L648.0,1967.8 L652.2,1972.7 L656.4,1977.5 L660.6,1982.3 L664.8,1987.1 L669.1,1991.9 L673.3,1996.7 L677.5,2001.5 L681.7,2006.2 L685.9,2010.9 L690.1,2015.5 L694.3,2020.1 L698.5,2024.7 L702.7,2029.2 L706.9,2033.7 L711.1,2038.2 L715.3,2042.6 L719.5,2046.9 L723.8,2051.2 L728.0,2055.4 L732.2,2059.6 L736.4,2063.7 L740.6,2067.7 L744.8,2071.7 L749.0,2075.7 L753.2,2079.5 L757.4,2083.3 L761.6,2087.1 L765.8,2090.8 L770.0,2094.4 L774.2,2098.0 L778.5,2101.5 L782.7,2104.9 L786.9,2108.3 L791.1,2111.6 L795.3,2114.9 L799.5,2118.1 L803.7,2121.2 L807.9,2124.3 L812.1,2127.3 L816.3,2130.3 L820.5,2133.2 L824.7,2136.1 L828.9,2138.9 L833.2,2141.7 L837.4,2144.4 L841.6,2147.1 L845.8,2149.7 L850.0,2152.3 L854.2,2154.9 L858.4,2157.4 L862.6,2159.9 L866.8,2162.4 L871.0,2164.8 L875.2,2167.3 L879.4,2169.7 L883.6,2172.1 L887.9,2174.4 L892.1,2176.7 L896.3,2179.0 L900.5,2181.3 L904.7,2183.6 L908.9,2185.8 L913.1,2188.0 L917.3,2190.2 L921.5,2192.3 L925.7,2194.4 L929.9,2196.5 L934.1,2198.6 L938.3,2200.6 L942.6,2202.6 L946.8,2204.6 L951.0,2206.5 L955.2,2208.4 L959.4,2210.2 L963.6,2212.0 L967.8,2213.8 L972.0,2215.5 L976.2,2217.2 L980.4,2218.9 L984.6,2220.5 L988.8,2222.1 L993.0,2223.6 L997.3,2225.1 L1001.5,2226.6 L1005.7,2228.1 L1009.9,2229.5 L1014.1,2230.9 L1018.3,2232.3 L1022.5,2233.6 L1026.7,2235.0 L1030.9,2236.3 L1035.1,2237.6 L1039.3,2238.8 L1043.5,2240.0 L1047.7,2241.3 L1052.0,2242.4 L1056.2,2243.6 L1060.4,2244.8 L1064.6,2245.9 L1068.8,2247.0 L1073.0,2248.1 L1077.2,2249.1 L1081.4,2250.2 L1085.6,2251.2 L1089.8,2252.2 L1094.0,2253.2 L1098.2,2254.1 L1102.4,2255.1 L1106.7,2256.0 L1110.9,2256.9 L1115.1,2257.8 L1119.3,2258.6 L1123.5,2259.5 L1127.7,2260.3 L1131.9,2261.1 L1136.1,2261.9 L1140.3,2262.7 L1144.5,2263.4 L1148.7,2264.2 L1152.9,2264.9 L1157.1,2265.6 L1161.4,2266.3 L1165.6,2266.9 L1169.8,2267.6 L1174.0,2268.2 L1178.2,2268.8 L1182.4,2269.4 L1186.6,2270.0 L1190.8,2270.6 L1195.0,2271.2 L1199.2,2271.7 L1203.4,2272.2 L1207.6,2272.8 L1211.8,2273.3 L1216.1,2273.8 L1220.3,2274.2 L1224.5,2274.7 L1228.7,2275.2 L1232.9,2275.6 L1237.1,2276.1 L1241.3,2276.5 L1245.5,2277.0 L1249.7,2277.4 L1253.9,2277.8 L1258.1,2278.2 L1262.3,2278.6 L1266.5,2279.0 L1270.8,2279.4 L1275.0,2279.8 L1279.2,2280.2 L1283.4,2280.6 L1287.6,2280.9 L1291.8,2281.3 L1296.0,2281.7" fill="none" stroke="#8E8E00" stroke-width="4.5" stroke-linejoin="round" stroke-linecap="round"/>
</g>
<line x1="244.1" y1="2309" x2="244.1" y2="2291" stroke="#000" stroke-width="5.5"/>
<line x1="454.5" y1="2309" x2="454.5" y2="2291" stroke="#000" stroke-width="5.5"/>
<line x1="664.8" y1="2309" x2="664.8" y2="2291" stroke="#000" stroke-width="5.5"/>
<line x1="875.2" y1="2309" x2="875.2" y2="2291" stroke="#000" stroke-width="5.5"/>
<line x1="1085.6" y1="2309" x2="1085.6" y2="2291" stroke="#000" stroke-width="5.5"/>
<line x1="1296.0" y1="2309" x2="1296.0" y2="2291" stroke="#000" stroke-width="5.5"/>
<line x1="349.3" y1="2309" x2="349.3" y2="2300" stroke="#000" stroke-width="5.5"/>
<line x1="559.7" y1="2309" x2="559.7" y2="2300" stroke="#000" stroke-width="5.5"/>
<line x1="770.0" y1="2309" x2="770.0" y2="2300" stroke="#000" stroke-width="5.5"/>
<line x1="980.4" y1="2309" x2="980.4" y2="2300" stroke="#000" stroke-width="5.5"/>
<line x1="1190.8" y1="2309" x2="1190.8" y2="2300" stroke="#000" stroke-width="5.5"/>
<line x1="202" y1="2309.0" x2="220" y2="2309.0" stroke="#000" stroke-width="5.5"/>
<line x1="202" y1="2182.9" x2="220" y2="2182.9" stroke="#000" stroke-width="5.5"/>
<line x1="202" y1="2056.7" x2="220" y2="2056.7" stroke="#000" stroke-width="5.5"/>
<line x1="202" y1="1930.6" x2="220" y2="1930.6" stroke="#000" stroke-width="5.5"/>
<line x1="202" y1="1804.4" x2="220" y2="1804.4" stroke="#000" stroke-width="5.5"/>
<line x1="202" y1="1678.3" x2="220" y2="1678.3" stroke="#000" stroke-width="5.5"/>
<line x1="202" y1="1552.1" x2="220" y2="1552.1" stroke="#000" stroke-width="5.5"/>
<line x1="202" y1="1426.0" x2="220" y2="1426.0" stroke="#000" stroke-width="5.5"/>
<line x1="202" y1="2245.9" x2="211" y2="2245.9" stroke="#000" stroke-width="5.5"/>
<line x1="202" y1="2119.8" x2="211" y2="2119.8" stroke="#000" stroke-width="5.5"/>
<line x1="202" y1="1993.6" x2="211" y2="1993.6" stroke="#000" stroke-width="5.5"/>
<line x1="202" y1="1867.5" x2="211" y2="1867.5" stroke="#000" stroke-width="5.5"/>
<line x1="202" y1="1741.4" x2="211" y2="1741.4" stroke="#000" stroke-width="5.5"/>
<line x1="202" y1="1615.2" x2="211" y2="1615.2" stroke="#000" stroke-width="5.5"/>
<line x1="202" y1="1489.1" x2="211" y2="1489.1" stroke="#000" stroke-width="5.5"/>
<rect x="202" y="1426" width="1094" height="883" fill="none" stroke="#000" stroke-width="6"/>
<text transform="translate(161.92,2319.62) scale(1.0200,1)" font-family="Liberation Sans" font-weight="normal" font-size="36.7" fill="#1a1a1a">0</text>
<text transform="translate(120.23,2193.48) scale(1.0200,1)" font-family="Liberation Sans" font-weight="normal" font-size="36.7" fill="#1a1a1a">500</text>
<text transform="translate(99.32,2067.34) scale(1.0200,1)" font-family="Liberation Sans" font-weight="normal" font-size="36.7" fill="#1a1a1a">1000</text>
<text transform="translate(99.32,1941.20) scale(1.0200,1)" font-family="Liberation Sans" font-weight="normal" font-size="36.7" fill="#1a1a1a">1500</text>
<text transform="translate(99.32,1815.05) scale(1.0200,1)" font-family="Liberation Sans" font-weight="normal" font-size="36.7" fill="#1a1a1a">2000</text>
<text transform="translate(99.32,1688.91) scale(1.0200,1)" font-family="Liberation Sans" font-weight="normal" font-size="36.7" fill="#1a1a1a">2500</text>
<text transform="translate(99.32,1562.77) scale(1.0200,1)" font-family="Liberation Sans" font-weight="normal" font-size="36.7" fill="#1a1a1a">3000</text>
<text transform="translate(99.32,1436.62) scale(1.0200,1)" font-family="Liberation Sans" font-weight="normal" font-size="36.7" fill="#1a1a1a">3500</text>
<text transform="translate(212.84,2356.12) scale(1.0200,1)" font-family="Liberation Sans" font-weight="normal" font-size="36.7" fill="#1a1a1a">300</text>
<text transform="translate(423.22,2356.12) scale(1.0200,1)" font-family="Liberation Sans" font-weight="normal" font-size="36.7" fill="#1a1a1a">350</text>
<text transform="translate(633.86,2356.12) scale(1.0200,1)" font-family="Liberation Sans" font-weight="normal" font-size="36.7" fill="#1a1a1a">400</text>
<text transform="translate(844.25,2356.12) scale(1.0200,1)" font-family="Liberation Sans" font-weight="normal" font-size="36.7" fill="#1a1a1a">450</text>
<text transform="translate(1054.31,2356.12) scale(1.0200,1)" font-family="Liberation Sans" font-weight="normal" font-size="36.7" fill="#1a1a1a">500</text>
<text transform="translate(1264.70,2356.12) scale(1.0200,1)" font-family="Liberation Sans" font-weight="normal" font-size="36.7" fill="#1a1a1a">550</text>
<text transform="translate(575.25,2427.30) scale(0.9913,1)" font-family="Liberation Sans" font-weight="normal" font-size="46.5" fill="#1a1a1a">Wavelength (nm)</text>
<text transform="translate(81.56,2125.69) rotate(-90) scale(0.9853,1)" font-family="Liberation Sans" font-size="46.5" fill="#1a1a1a">Fluorescence intensity (a.u.)</text>
<text transform="translate(18.54,1413.00) scale(1.0436,1)" font-family="Liberation Sans" font-weight="normal" font-size="50" fill="#1a1a1a">(b)</text>
<line x1="476.5" y1="1820.5" x2="476.5" y2="1855.5" stroke="#000" stroke-width="4"/>
<text transform="translate(425.87,1814.25) scale(1.0039,1)" font-family="Liberation Sans" font-weight="normal" font-size="29" fill="#1a1a1a">355.8nm</text>
<line x1="450.7" y1="1957.5" x2="450.7" y2="2002" stroke="#000" stroke-width="4"/>
<text transform="translate(398.37,2033.05) scale(1.0075,1)" font-family="Liberation Sans" font-weight="normal" font-size="29" fill="#1a1a1a">349.4nm</text>
<text transform="translate(783.71,1886.30) scale(1.0143,1)" font-family="Liberation Sans" font-weight="normal" font-size="36.5" fill="#1a1a1a">100eq D-Lys</text>
<line x1="890.8" y1="1924" x2="890.8" y2="2013.6" stroke="#555" stroke-width="2"/>
<path d="M890.8,1902.2 L884.4,1925.4 L897.2,1925.4 Z" fill="#000"/>
<text transform="translate(879.81,2059.32) scale(0.9636,1)" font-family="Liberation Sans" font-weight="normal" font-size="46" fill="#1a1a1a">0</text>
<text transform="translate(670.05,2610.68) scale(0.8670,1)" font-family="Liberation Serif" font-weight="normal" font-size="87" fill="#000">(</text>
<text transform="translate(696.03,2608.97) scale(1.0377,1)" font-family="Liberation Serif" font-weight="bold" font-size="87" fill="#000">b</text>
<text transform="translate(748.12,2610.68) scale(0.8670,1)" font-family="Liberation Serif" font-weight="normal" font-size="87" fill="#000">)</text>
<line x1="293.2" y1="3659" x2="293.2" y2="3641" stroke="#000" stroke-width="5.5"/>
<line x1="475.5" y1="3659" x2="475.5" y2="3641" stroke="#000" stroke-width="5.5"/>
<line x1="657.8" y1="3659" x2="657.8" y2="3641" stroke="#000" stroke-width="5.5"/>
<line x1="840.2" y1="3659" x2="840.2" y2="3641" stroke="#000" stroke-width="5.5"/>
<line x1="1022.5" y1="3659" x2="1022.5" y2="3641" stroke="#000" stroke-width="5.5"/>
<line x1="1204.8" y1="3659" x2="1204.8" y2="3641" stroke="#000" stroke-width="5.5"/>
<line x1="384.3" y1="3659" x2="384.3" y2="3650" stroke="#000" stroke-width="5.5"/>
<line x1="566.7" y1="3659" x2="566.7" y2="3650" stroke="#000" stroke-width="5.5"/>
<line x1="749.0" y1="3659" x2="749.0" y2="3650" stroke="#000" stroke-width="5.5"/>
<line x1="931.3" y1="3659" x2="931.3" y2="3650" stroke="#000" stroke-width="5.5"/>
<line x1="1113.7" y1="3659" x2="1113.7" y2="3650" stroke="#000" stroke-width="5.5"/>
<line x1="202" y1="3617.0" x2="220" y2="3617.0" stroke="#000" stroke-width="5.5"/>
<line x1="202" y1="3532.9" x2="220" y2="3532.9" stroke="#000" stroke-width="5.5"/>
<line x1="202" y1="3448.8" x2="220" y2="3448.8" stroke="#000" stroke-width="5.5"/>
<line x1="202" y1="3364.7" x2="220" y2="3364.7" stroke="#000" stroke-width="5.5"/>
<line x1="202" y1="3280.6" x2="220" y2="3280.6" stroke="#000" stroke-width="5.5"/>
<line x1="202" y1="3196.5" x2="220" y2="3196.5" stroke="#000" stroke-width="5.5"/>
<line x1="202" y1="3112.4" x2="220" y2="3112.4" stroke="#000" stroke-width="5.5"/>
<line x1="202" y1="3028.3" x2="220" y2="3028.3" stroke="#000" stroke-width="5.5"/>
<line x1="202" y1="2944.2" x2="220" y2="2944.2" stroke="#000" stroke-width="5.5"/>
<line x1="202" y1="2860.1" x2="220" y2="2860.1" stroke="#000" stroke-width="5.5"/>
<line x1="202" y1="2776.0" x2="220" y2="2776.0" stroke="#000" stroke-width="5.5"/>
<line x1="202" y1="3574.9" x2="211" y2="3574.9" stroke="#000" stroke-width="5.5"/>
<line x1="202" y1="3490.8" x2="211" y2="3490.8" stroke="#000" stroke-width="5.5"/>
<line x1="202" y1="3406.7" x2="211" y2="3406.7" stroke="#000" stroke-width="5.5"/>
<line x1="202" y1="3322.6" x2="211" y2="3322.6" stroke="#000" stroke-width="5.5"/>
<line x1="202" y1="3238.5" x2="211" y2="3238.5" stroke="#000" stroke-width="5.5"/>
<line x1="202" y1="3154.4" x2="211" y2="3154.4" stroke="#000" stroke-width="5.5"/>
<line x1="202" y1="3070.3" x2="211" y2="3070.3" stroke="#000" stroke-width="5.5"/>
<line x1="202" y1="2986.2" x2="211" y2="2986.2" stroke="#000" stroke-width="5.5"/>
<line x1="202" y1="2902.1" x2="211" y2="2902.1" stroke="#000" stroke-width="5.5"/>
<line x1="202" y1="2818.0" x2="211" y2="2818.0" stroke="#000" stroke-width="5.5"/>
<line x1="338.8" y1="3550.4" x2="1204.8" y2="3323.5" stroke="#8a8a8a" stroke-width="2.2"/>
<rect x="329.2" y="3542.3" width="19" height="19" fill="#515151" stroke="#6a6a6a" stroke-width="1.5"/>
<rect x="374.8" y="3525.0" width="19" height="19" fill="#515151" stroke="#6a6a6a" stroke-width="1.5"/>
<rect x="420.4" y="3511.2" width="19" height="19" fill="#515151" stroke="#6a6a6a" stroke-width="1.5"/>
<rect x="466.0" y="3506.5" width="19" height="19" fill="#515151" stroke="#6a6a6a" stroke-width="1.5"/>
<rect x="511.6" y="3496.0" width="19" height="19" fill="#515151" stroke="#6a6a6a" stroke-width="1.5"/>
<rect x="557.2" y="3501.5" width="19" height="19" fill="#515151" stroke="#6a6a6a" stroke-width="1.5"/>
<rect x="602.8" y="3476.3" width="19" height="19" fill="#515151" stroke="#6a6a6a" stroke-width="1.5"/>
<rect x="648.3" y="3456.1" width="19" height="19" fill="#515151" stroke="#6a6a6a" stroke-width="1.5"/>
<rect x="693.9" y="3437.2" width="19" height="19" fill="#515151" stroke="#6a6a6a" stroke-width="1.5"/>
<rect x="739.5" y="3431.3" width="19" height="19" fill="#515151" stroke="#6a6a6a" stroke-width="1.5"/>
<rect x="785.1" y="3417.4" width="19" height="19" fill="#515151" stroke="#6a6a6a" stroke-width="1.5"/>
<rect x="830.7" y="3394.7" width="19" height="19" fill="#515151" stroke="#6a6a6a" stroke-width="1.5"/>
<rect x="876.2" y="3399.3" width="19" height="19" fill="#515151" stroke="#6a6a6a" stroke-width="1.5"/>
<rect x="921.8" y="3388.4" width="19" height="19" fill="#515151" stroke="#6a6a6a" stroke-width="1.5"/>
<rect x="967.4" y="3377.0" width="19" height="19" fill="#515151" stroke="#6a6a6a" stroke-width="1.5"/>
<rect x="1013.0" y="3349.3" width="19" height="19" fill="#515151" stroke="#6a6a6a" stroke-width="1.5"/>
<rect x="1058.6" y="3342.6" width="19" height="19" fill="#515151" stroke="#6a6a6a" stroke-width="1.5"/>
<rect x="1104.2" y="3337.5" width="19" height="19" fill="#515151" stroke="#6a6a6a" stroke-width="1.5"/>
<rect x="1149.8" y="3338.3" width="19" height="19" fill="#515151" stroke="#6a6a6a" stroke-width="1.5"/>
<rect x="1195.3" y="3321.5" width="19" height="19" fill="#515151" stroke="#6a6a6a" stroke-width="1.5"/>
<circle cx="338.8" cy="3566.9" r="10.5" fill="#EE3E3E"/>
<circle cx="384.3" cy="3522.3" r="10.5" fill="#EE3E3E"/>
<circle cx="429.9" cy="3509.7" r="10.5" fill="#EE3E3E"/>
<circle cx="475.5" cy="3485.3" r="10.5" fill="#EE3E3E"/>
<circle cx="521.1" cy="3463.9" r="10.5" fill="#EE3E3E"/>
<circle cx="566.7" cy="3398.7" r="10.5" fill="#EE3E3E"/>
<circle cx="612.2" cy="3356.3" r="10.5" fill="#EE3E3E"/>
<circle cx="657.8" cy="3297.4" r="10.5" fill="#EE3E3E"/>
<circle cx="703.4" cy="3254.1" r="10.5" fill="#EE3E3E"/>
<circle cx="749.0" cy="3225.9" r="10.5" fill="#EE3E3E"/>
<circle cx="794.6" cy="3193.5" r="10.5" fill="#EE3E3E"/>
<circle cx="840.2" cy="3162.4" r="10.5" fill="#EE3E3E"/>
<circle cx="885.8" cy="3125.0" r="10.5" fill="#EE3E3E"/>
<circle cx="931.3" cy="3082.9" r="10.5" fill="#EE3E3E"/>
<circle cx="976.9" cy="3031.2" r="10.5" fill="#EE3E3E"/>
<circle cx="1022.5" cy="3011.5" r="10.5" fill="#EE3E3E"/>
<circle cx="1068.1" cy="2965.2" r="10.5" fill="#EE3E3E"/>
<circle cx="1113.7" cy="2932.4" r="10.5" fill="#EE3E3E"/>
<circle cx="1159.2" cy="2883.6" r="10.5" fill="#EE3E3E"/>
<circle cx="1204.8" cy="2858.8" r="10.5" fill="#EE3E3E"/>
<line x1="338.8" y1="3582.4" x2="1204.8" y2="2852.8" stroke="#FF2A2A" stroke-width="2.2"/>
<rect x="202" y="2776" width="1094" height="883" fill="none" stroke="#000" stroke-width="6"/>
<text transform="translate(99.32,3627.58) scale(1.0200,1)" font-family="Liberation Sans" font-weight="normal" font-size="36.7" fill="#1a1a1a">1200</text>
<text transform="translate(99.32,3543.48) scale(1.0200,1)" font-family="Liberation Sans" font-weight="normal" font-size="36.7" fill="#1a1a1a">1400</text>
<text transform="translate(99.32,3459.39) scale(1.0200,1)" font-family="Liberation Sans" font-weight="normal" font-size="36.7" fill="#1a1a1a">1600</text>
<text transform="translate(99.32,3375.29) scale(1.0200,1)" font-family="Liberation Sans" font-weight="normal" font-size="36.7" fill="#1a1a1a">1800</text>
<text transform="translate(99.32,3291.20) scale(1.0200,1)" font-family="Liberation Sans" font-weight="normal" font-size="36.7" fill="#1a1a1a">2000</text>
<text transform="translate(99.32,3207.10) scale(1.0200,1)" font-family="Liberation Sans" font-weight="normal" font-size="36.7" fill="#1a1a1a">2200</text>
<text transform="translate(99.32,3123.01) scale(1.0200,1)" font-family="Liberation Sans" font-weight="normal" font-size="36.7" fill="#1a1a1a">2400</text>
<text transform="translate(99.32,3038.91) scale(1.0200,1)" font-family="Liberation Sans" font-weight="normal" font-size="36.7" fill="#1a1a1a">2600</text>
<text transform="translate(99.32,2954.82) scale(1.0200,1)" font-family="Liberation Sans" font-weight="normal" font-size="36.7" fill="#1a1a1a">2800</text>
<text transform="translate(99.32,2870.72) scale(1.0200,1)" font-family="Liberation Sans" font-weight="normal" font-size="36.7" fill="#1a1a1a">3000</text>
<text transform="translate(99.32,2786.62) scale(1.0200,1)" font-family="Liberation Sans" font-weight="normal" font-size="36.7" fill="#1a1a1a">3200</text>
<text transform="translate(282.78,3706.93) scale(1.0200,1)" font-family="Liberation Sans" font-weight="normal" font-size="36.7" fill="#1a1a1a">0</text>
<text transform="translate(454.40,3706.93) scale(1.0200,1)" font-family="Liberation Sans" font-weight="normal" font-size="36.7" fill="#1a1a1a">20</text>
<text transform="translate(637.24,3706.93) scale(1.0200,1)" font-family="Liberation Sans" font-weight="normal" font-size="36.7" fill="#1a1a1a">40</text>
<text transform="translate(819.07,3706.93) scale(1.0200,1)" font-family="Liberation Sans" font-weight="normal" font-size="36.7" fill="#1a1a1a">60</text>
<text transform="translate(1001.53,3706.93) scale(1.0200,1)" font-family="Liberation Sans" font-weight="normal" font-size="36.7" fill="#1a1a1a">80</text>
<text transform="translate(1172.89,3706.93) scale(1.0200,1)" font-family="Liberation Sans" font-weight="normal" font-size="36.7" fill="#1a1a1a">100</text>
<text transform="translate(642.70,3767.80) scale(0.9855,1)" font-family="Liberation Sans" font-weight="normal" font-size="46" fill="#1a1a1a">Equivalent</text>
<text transform="translate(81.36,3498.50) rotate(-90) scale(0.9861,1)" font-family="Liberation Sans" font-size="46.5" fill="#1a1a1a">Fluorescence intensity(a.u.)</text>
<text transform="translate(14.88,2749.65) scale(0.9976,1)" font-family="Liberation Sans" font-weight="normal" font-size="50" fill="#1a1a1a">(C)</text>
<rect x="750.5" y="2857.5" width="202" height="93" fill="#fff" stroke="#7a7a7a" stroke-width="1.6"/>
<rect x="787.5" y="2874.5" width="19" height="19" fill="#515151" stroke="#6a6a6a" stroke-width="1.5"/>
<circle cx="797.5" cy="2930" r="10.5" fill="#EE3E3E"/>
<text transform="translate(849.88,2893.75) scale(1.1341,1)" font-family="Liberation Sans" font-weight="normal" font-size="33" fill="#1a1a1a">D-Lys</text>
<text transform="translate(849.91,2938.75) scale(1.1240,1)" font-family="Liberation Sans" font-weight="normal" font-size="33" fill="#1a1a1a">L-Lys</text>
<text transform="translate(387.86,3051.25) scale(1.0921,1)" font-family="Liberation Sans" font-weight="normal" font-size="34" fill="#1a1a1a">y=1190.9157+18.2654x</text>
<text transform="translate(385.02,3095.25) scale(1.0833,1)" font-family="Liberation Sans" font-weight="normal" font-size="34" fill="#1a1a1a">R=0.9982</text>
<text transform="translate(676.95,3960.68) scale(0.8670,1)" font-family="Liberation Serif" font-weight="normal" font-size="87" fill="#000">(</text>
<text transform="translate(704.45,3960.30) scale(0.9164,1)" font-family="Liberation Serif" font-weight="bold" font-size="87" fill="#000">c</text>
<text transform="translate(741.23,3960.68) scale(0.8626,1)" font-family="Liberation Serif" font-weight="normal" font-size="87" fill="#000">)</text>
</svg>
</body></html>
